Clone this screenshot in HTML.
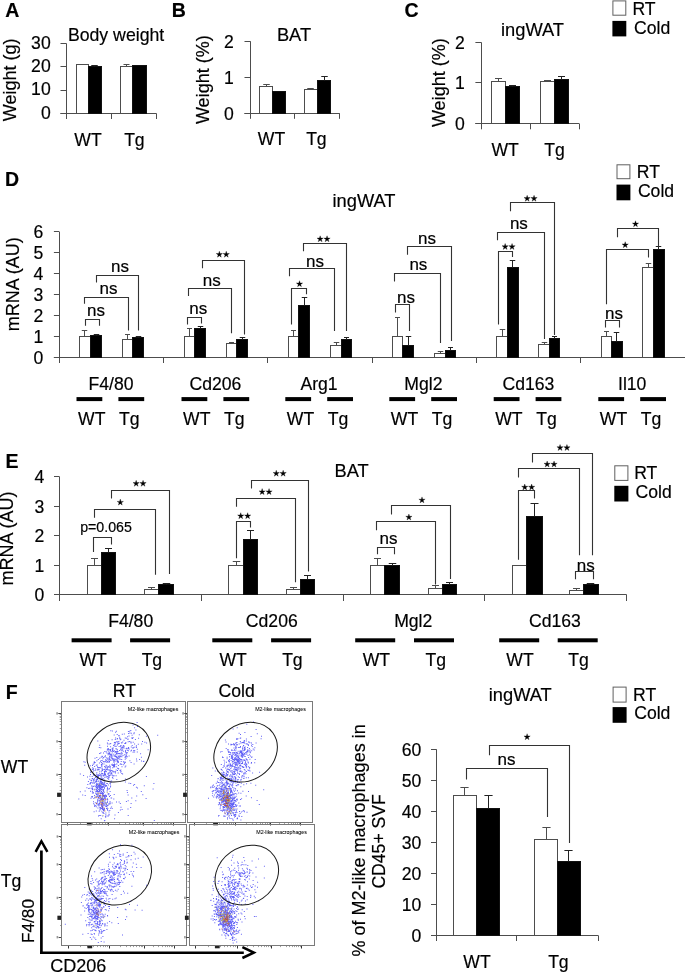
<!DOCTYPE html>
<html><head><meta charset="utf-8"><style>
html,body{margin:0;padding:0;background:#fff;}
svg{display:block;will-change:transform;}
text{font-family:"Liberation Sans", sans-serif;fill:#000;stroke:#000;stroke-width:0.18px;}
</style></head><body>
<svg width="685" height="973" viewBox="0 0 685 973">
<rect width="685" height="973" fill="#fff"/>
<text x="5.3" y="16.6" font-size="19.5" text-anchor="start" font-weight="bold" >A</text>
<text x="67.9" y="40.6" font-size="17.7" text-anchor="start" >Body weight</text>
<text transform="translate(16.4,79.8) rotate(-90)" x="0" y="0" font-size="18.0" text-anchor="middle">Weight (g)</text>
<line x1="66.5" y1="43.5" x2="66.5" y2="113.5" stroke="#4d4d4d" stroke-width="1"/>
<line x1="60.5" y1="43.5" x2="66.5" y2="43.5" stroke="#4d4d4d" stroke-width="1"/>
<text x="50.7" y="48.5" font-size="17.6" text-anchor="end" >30</text>
<line x1="60.5" y1="66.5" x2="66.5" y2="66.5" stroke="#4d4d4d" stroke-width="1"/>
<text x="50.7" y="71.5" font-size="17.6" text-anchor="end" >20</text>
<line x1="60.5" y1="90.5" x2="66.5" y2="90.5" stroke="#4d4d4d" stroke-width="1"/>
<text x="50.7" y="95.0" font-size="17.6" text-anchor="end" >10</text>
<line x1="60.5" y1="113.5" x2="66.5" y2="113.5" stroke="#4d4d4d" stroke-width="1"/>
<text x="50.7" y="118.5" font-size="17.6" text-anchor="end" >0</text>
<line x1="60.5" y1="113.5" x2="156.5" y2="113.5" stroke="#4d4d4d" stroke-width="1"/>
<line x1="66.5" y1="113.5" x2="66.5" y2="119" stroke="#4d4d4d" stroke-width="1"/>
<line x1="111.5" y1="113.5" x2="111.5" y2="119" stroke="#4d4d4d" stroke-width="1"/>
<line x1="156.5" y1="113.5" x2="156.5" y2="119" stroke="#4d4d4d" stroke-width="1"/>
<rect x="76.5" y="64.5" width="12.0" height="49.0" fill="#fff" stroke="#4d4d4d" stroke-width="1"/>
<rect x="88.5" y="66.5" width="13.0" height="47.0" fill="#000" stroke="#111" stroke-width="1"/>
<line x1="94.5" y1="66.5" x2="94.5" y2="65.5" stroke="#222" stroke-width="1"/>
<line x1="91.25" y1="65.5" x2="97.75" y2="65.5" stroke="#222" stroke-width="1"/>
<rect x="120.5" y="66.5" width="12.0" height="47.0" fill="#fff" stroke="#4d4d4d" stroke-width="1"/>
<line x1="126.5" y1="66.5" x2="126.5" y2="64.5" stroke="#4d4d4d" stroke-width="1"/>
<line x1="123.5" y1="64.5" x2="129.5" y2="64.5" stroke="#4d4d4d" stroke-width="1"/>
<rect x="132.5" y="65.5" width="14.0" height="48.0" fill="#000" stroke="#111" stroke-width="1"/>
<text x="88" y="146" font-size="17.6" text-anchor="middle" >WT</text>
<text x="134.4" y="146" font-size="17.6" text-anchor="middle" >Tg</text>
<text x="171.8" y="16.8" font-size="19.5" text-anchor="start" font-weight="bold" >B</text>
<text x="294" y="41.3" font-size="18.3" text-anchor="middle" >BAT</text>
<text transform="translate(209,79.7) rotate(-90)" x="0" y="0" font-size="18.0" text-anchor="middle">Weight (%)</text>
<line x1="250.5" y1="41.3" x2="250.5" y2="113.3" stroke="#4d4d4d" stroke-width="1"/>
<line x1="244.5" y1="41.5" x2="250.5" y2="41.5" stroke="#4d4d4d" stroke-width="1"/>
<text x="233.9" y="47.9" font-size="17.6" text-anchor="end" >2</text>
<line x1="244.5" y1="77.5" x2="250.5" y2="77.5" stroke="#4d4d4d" stroke-width="1"/>
<text x="233.9" y="84.0" font-size="17.6" text-anchor="end" >1</text>
<line x1="244.5" y1="113.5" x2="250.5" y2="113.5" stroke="#4d4d4d" stroke-width="1"/>
<text x="233.9" y="119.89999999999999" font-size="17.6" text-anchor="end" >0</text>
<line x1="244.5" y1="113.5" x2="339.7" y2="113.5" stroke="#4d4d4d" stroke-width="1"/>
<line x1="250.5" y1="113.3" x2="250.5" y2="118.8" stroke="#4d4d4d" stroke-width="1"/>
<line x1="294.5" y1="113.3" x2="294.5" y2="118.8" stroke="#4d4d4d" stroke-width="1"/>
<line x1="339.5" y1="113.3" x2="339.5" y2="118.8" stroke="#4d4d4d" stroke-width="1"/>
<rect x="259.5" y="86.5" width="13.0" height="27.0" fill="#fff" stroke="#4d4d4d" stroke-width="1"/>
<line x1="266.5" y1="86.5" x2="266.5" y2="84.5" stroke="#4d4d4d" stroke-width="1"/>
<line x1="263.25" y1="84.5" x2="269.75" y2="84.5" stroke="#4d4d4d" stroke-width="1"/>
<rect x="272.5" y="91.5" width="13.0" height="22.0" fill="#000" stroke="#111" stroke-width="1"/>
<rect x="304.5" y="89.5" width="13.0" height="24.0" fill="#fff" stroke="#4d4d4d" stroke-width="1"/>
<line x1="310.5" y1="89.5" x2="310.5" y2="88.5" stroke="#4d4d4d" stroke-width="1"/>
<line x1="307.25" y1="88.5" x2="313.75" y2="88.5" stroke="#4d4d4d" stroke-width="1"/>
<rect x="317.5" y="80.5" width="13.0" height="33.0" fill="#000" stroke="#111" stroke-width="1"/>
<line x1="324.5" y1="80.5" x2="324.5" y2="76.5" stroke="#222" stroke-width="1"/>
<line x1="321.25" y1="76.5" x2="327.75" y2="76.5" stroke="#222" stroke-width="1"/>
<text x="271.5" y="144.7" font-size="17.6" text-anchor="middle" >WT</text>
<text x="316.4" y="144.7" font-size="17.6" text-anchor="middle" >Tg</text>
<text x="404.5" y="17.2" font-size="19.5" text-anchor="start" font-weight="bold" >C</text>
<text x="532.5" y="35.8" font-size="18.3" text-anchor="middle" >ingWAT</text>
<text transform="translate(445,82.7) rotate(-90)" x="0" y="0" font-size="18.0" text-anchor="middle">Weight (%)</text>
<line x1="481.5" y1="42.3" x2="481.5" y2="123.6" stroke="#4d4d4d" stroke-width="1"/>
<line x1="475.4" y1="42.5" x2="481.2" y2="42.5" stroke="#4d4d4d" stroke-width="1"/>
<text x="464.79999999999995" y="48.9" font-size="17.6" text-anchor="end" >2</text>
<line x1="475.4" y1="82.5" x2="481.2" y2="82.5" stroke="#4d4d4d" stroke-width="1"/>
<text x="464.79999999999995" y="89.1" font-size="17.6" text-anchor="end" >1</text>
<line x1="475.4" y1="123.5" x2="481.2" y2="123.5" stroke="#4d4d4d" stroke-width="1"/>
<text x="464.79999999999995" y="130.2" font-size="17.6" text-anchor="end" >0</text>
<line x1="475.4" y1="123.5" x2="579.2" y2="123.5" stroke="#4d4d4d" stroke-width="1"/>
<line x1="481.5" y1="123.6" x2="481.5" y2="129.3" stroke="#4d4d4d" stroke-width="1"/>
<line x1="530.5" y1="123.6" x2="530.5" y2="129.3" stroke="#4d4d4d" stroke-width="1"/>
<line x1="579.5" y1="123.6" x2="579.5" y2="129.3" stroke="#4d4d4d" stroke-width="1"/>
<rect x="491.5" y="81.5" width="14.0" height="42.0" fill="#fff" stroke="#4d4d4d" stroke-width="1"/>
<line x1="498.5" y1="81.5" x2="498.5" y2="78.5" stroke="#4d4d4d" stroke-width="1"/>
<line x1="495.0" y1="78.5" x2="502.0" y2="78.5" stroke="#4d4d4d" stroke-width="1"/>
<rect x="505.5" y="86.5" width="14.0" height="37.0" fill="#000" stroke="#111" stroke-width="1"/>
<line x1="512.5" y1="86.5" x2="512.5" y2="85.5" stroke="#222" stroke-width="1"/>
<line x1="509.0" y1="85.5" x2="516.0" y2="85.5" stroke="#222" stroke-width="1"/>
<rect x="540.5" y="81.5" width="14.0" height="42.0" fill="#fff" stroke="#4d4d4d" stroke-width="1"/>
<line x1="547.5" y1="81.5" x2="547.5" y2="80.5" stroke="#4d4d4d" stroke-width="1"/>
<line x1="544.0" y1="80.5" x2="551.0" y2="80.5" stroke="#4d4d4d" stroke-width="1"/>
<rect x="554.5" y="79.5" width="14.0" height="44.0" fill="#000" stroke="#111" stroke-width="1"/>
<line x1="561.5" y1="79.5" x2="561.5" y2="76.5" stroke="#222" stroke-width="1"/>
<line x1="558.0" y1="76.5" x2="565.0" y2="76.5" stroke="#222" stroke-width="1"/>
<text x="505.2" y="156" font-size="17.6" text-anchor="middle" >WT</text>
<text x="554.6" y="156" font-size="17.6" text-anchor="middle" >Tg</text>
<rect x="612.9" y="0.9" width="12.9" height="14.3" fill="#fff" stroke="#606060" stroke-width="1"/>
<rect x="612.4" y="20.9" width="13.9" height="15.5" fill="#000"/>
<text x="632.4" y="14.6" font-size="17.6" text-anchor="start" >RT</text>
<text x="634.0" y="33.5" font-size="17.6" text-anchor="start" >Cold</text>
<text x="5" y="186.3" font-size="19.5" text-anchor="start" font-weight="bold" >D</text>
<text x="364" y="207.4" font-size="18.3" text-anchor="middle" >ingWAT</text>
<text transform="translate(18.7,284.3) rotate(-90)" x="0" y="0" font-size="18.0" text-anchor="middle">mRNA (AU)</text>
<line x1="59.5" y1="231.9" x2="59.5" y2="357.4" stroke="#4d4d4d" stroke-width="1"/>
<line x1="53.9" y1="357.5" x2="59.4" y2="357.5" stroke="#4d4d4d" stroke-width="1"/>
<text x="43.3" y="363.79999999999995" font-size="17.6" text-anchor="end" >0</text>
<line x1="53.9" y1="336.5" x2="59.4" y2="336.5" stroke="#4d4d4d" stroke-width="1"/>
<text x="43.3" y="342.9" font-size="17.6" text-anchor="end" >1</text>
<line x1="53.9" y1="315.5" x2="59.4" y2="315.5" stroke="#4d4d4d" stroke-width="1"/>
<text x="43.3" y="322.0" font-size="17.6" text-anchor="end" >2</text>
<line x1="53.9" y1="294.5" x2="59.4" y2="294.5" stroke="#4d4d4d" stroke-width="1"/>
<text x="43.3" y="301.09999999999997" font-size="17.6" text-anchor="end" >3</text>
<line x1="53.9" y1="273.5" x2="59.4" y2="273.5" stroke="#4d4d4d" stroke-width="1"/>
<text x="43.3" y="280.09999999999997" font-size="17.6" text-anchor="end" >4</text>
<line x1="53.9" y1="252.5" x2="59.4" y2="252.5" stroke="#4d4d4d" stroke-width="1"/>
<text x="43.3" y="259.3" font-size="17.6" text-anchor="end" >5</text>
<line x1="53.9" y1="231.5" x2="59.4" y2="231.5" stroke="#4d4d4d" stroke-width="1"/>
<text x="43.3" y="238.3" font-size="17.6" text-anchor="end" >6</text>
<line x1="53.9" y1="357.5" x2="685" y2="357.5" stroke="#4d4d4d" stroke-width="1"/>
<line x1="59.5" y1="357.4" x2="59.5" y2="363" stroke="#4d4d4d" stroke-width="1"/>
<line x1="163.5" y1="357.4" x2="163.5" y2="363" stroke="#4d4d4d" stroke-width="1"/>
<line x1="267.5" y1="357.4" x2="267.5" y2="363" stroke="#4d4d4d" stroke-width="1"/>
<line x1="372.5" y1="357.4" x2="372.5" y2="363" stroke="#4d4d4d" stroke-width="1"/>
<line x1="476.5" y1="357.4" x2="476.5" y2="363" stroke="#4d4d4d" stroke-width="1"/>
<line x1="580.5" y1="357.4" x2="580.5" y2="363" stroke="#4d4d4d" stroke-width="1"/>
<rect x="79.5" y="336.5" width="11.0" height="21.0" fill="#fff" stroke="#4d4d4d" stroke-width="1"/>
<line x1="84.5" y1="336.5" x2="84.5" y2="330.5" stroke="#4d4d4d" stroke-width="1"/>
<line x1="81.75" y1="330.5" x2="87.25" y2="330.5" stroke="#4d4d4d" stroke-width="1"/>
<rect x="90.5" y="335.5" width="11.0" height="22.0" fill="#000" stroke="#111" stroke-width="1"/>
<line x1="96.5" y1="335.5" x2="96.5" y2="334.5" stroke="#222" stroke-width="1"/>
<line x1="93.75" y1="334.5" x2="99.25" y2="334.5" stroke="#222" stroke-width="1"/>
<rect x="122.5" y="339.5" width="10.0" height="18.0" fill="#fff" stroke="#4d4d4d" stroke-width="1"/>
<line x1="127.5" y1="339.5" x2="127.5" y2="334.5" stroke="#4d4d4d" stroke-width="1"/>
<line x1="125.0" y1="334.5" x2="130.0" y2="334.5" stroke="#4d4d4d" stroke-width="1"/>
<rect x="132.5" y="337.5" width="11.0" height="20.0" fill="#000" stroke="#111" stroke-width="1"/>
<line x1="138.5" y1="337.5" x2="138.5" y2="336.5" stroke="#222" stroke-width="1"/>
<line x1="135.75" y1="336.5" x2="141.25" y2="336.5" stroke="#222" stroke-width="1"/>
<rect x="184.5" y="336.5" width="10.0" height="21.0" fill="#fff" stroke="#4d4d4d" stroke-width="1"/>
<line x1="189.5" y1="336.5" x2="189.5" y2="328.5" stroke="#4d4d4d" stroke-width="1"/>
<line x1="187.0" y1="328.5" x2="192.0" y2="328.5" stroke="#4d4d4d" stroke-width="1"/>
<rect x="194.5" y="328.5" width="11.0" height="29.0" fill="#000" stroke="#111" stroke-width="1"/>
<line x1="200.5" y1="328.5" x2="200.5" y2="326.5" stroke="#222" stroke-width="1"/>
<line x1="197.75" y1="326.5" x2="203.25" y2="326.5" stroke="#222" stroke-width="1"/>
<rect x="226.5" y="343.5" width="10.0" height="14.0" fill="#fff" stroke="#4d4d4d" stroke-width="1"/>
<line x1="231.5" y1="343.5" x2="231.5" y2="342.5" stroke="#4d4d4d" stroke-width="1"/>
<line x1="229.0" y1="342.5" x2="234.0" y2="342.5" stroke="#4d4d4d" stroke-width="1"/>
<rect x="236.5" y="339.5" width="11.0" height="18.0" fill="#000" stroke="#111" stroke-width="1"/>
<line x1="242.5" y1="339.5" x2="242.5" y2="337.5" stroke="#222" stroke-width="1"/>
<line x1="239.75" y1="337.5" x2="245.25" y2="337.5" stroke="#222" stroke-width="1"/>
<rect x="288.5" y="336.5" width="10.0" height="21.0" fill="#fff" stroke="#4d4d4d" stroke-width="1"/>
<line x1="293.5" y1="336.5" x2="293.5" y2="330.5" stroke="#4d4d4d" stroke-width="1"/>
<line x1="291.0" y1="330.5" x2="296.0" y2="330.5" stroke="#4d4d4d" stroke-width="1"/>
<rect x="298.5" y="305.5" width="11.0" height="52.0" fill="#000" stroke="#111" stroke-width="1"/>
<line x1="304.5" y1="305.5" x2="304.5" y2="297.5" stroke="#222" stroke-width="1"/>
<line x1="301.75" y1="297.5" x2="307.25" y2="297.5" stroke="#222" stroke-width="1"/>
<rect x="330.5" y="345.5" width="11.0" height="12.0" fill="#fff" stroke="#4d4d4d" stroke-width="1"/>
<line x1="336.5" y1="345.5" x2="336.5" y2="342.5" stroke="#4d4d4d" stroke-width="1"/>
<line x1="333.75" y1="342.5" x2="339.25" y2="342.5" stroke="#4d4d4d" stroke-width="1"/>
<rect x="341.5" y="339.5" width="10.0" height="18.0" fill="#000" stroke="#111" stroke-width="1"/>
<line x1="346.5" y1="339.5" x2="346.5" y2="337.5" stroke="#222" stroke-width="1"/>
<line x1="344.0" y1="337.5" x2="349.0" y2="337.5" stroke="#222" stroke-width="1"/>
<rect x="392.5" y="336.5" width="10.0" height="21.0" fill="#fff" stroke="#4d4d4d" stroke-width="1"/>
<line x1="397.5" y1="336.5" x2="397.5" y2="317.5" stroke="#4d4d4d" stroke-width="1"/>
<line x1="395.0" y1="317.5" x2="400.0" y2="317.5" stroke="#4d4d4d" stroke-width="1"/>
<rect x="402.5" y="345.5" width="11.0" height="12.0" fill="#000" stroke="#111" stroke-width="1"/>
<line x1="408.5" y1="345.5" x2="408.5" y2="336.5" stroke="#222" stroke-width="1"/>
<line x1="405.75" y1="336.5" x2="411.25" y2="336.5" stroke="#222" stroke-width="1"/>
<rect x="434.5" y="353.5" width="11.0" height="4.0" fill="#fff" stroke="#4d4d4d" stroke-width="1"/>
<line x1="440.5" y1="353.5" x2="440.5" y2="351.5" stroke="#4d4d4d" stroke-width="1"/>
<line x1="437.75" y1="351.5" x2="443.25" y2="351.5" stroke="#4d4d4d" stroke-width="1"/>
<rect x="445.5" y="350.5" width="10.0" height="7.0" fill="#000" stroke="#111" stroke-width="1"/>
<line x1="450.5" y1="350.5" x2="450.5" y2="347.5" stroke="#222" stroke-width="1"/>
<line x1="448.0" y1="347.5" x2="453.0" y2="347.5" stroke="#222" stroke-width="1"/>
<rect x="496.5" y="336.5" width="11.0" height="21.0" fill="#fff" stroke="#4d4d4d" stroke-width="1"/>
<line x1="502.5" y1="336.5" x2="502.5" y2="329.5" stroke="#4d4d4d" stroke-width="1"/>
<line x1="499.75" y1="329.5" x2="505.25" y2="329.5" stroke="#4d4d4d" stroke-width="1"/>
<rect x="507.5" y="267.5" width="11.0" height="90.0" fill="#000" stroke="#111" stroke-width="1"/>
<line x1="512.5" y1="267.5" x2="512.5" y2="260.5" stroke="#222" stroke-width="1"/>
<line x1="509.75" y1="260.5" x2="515.25" y2="260.5" stroke="#222" stroke-width="1"/>
<rect x="538.5" y="344.5" width="11.0" height="13.0" fill="#fff" stroke="#4d4d4d" stroke-width="1"/>
<line x1="544.5" y1="344.5" x2="544.5" y2="342.5" stroke="#4d4d4d" stroke-width="1"/>
<line x1="541.75" y1="342.5" x2="547.25" y2="342.5" stroke="#4d4d4d" stroke-width="1"/>
<rect x="549.5" y="338.5" width="10.0" height="19.0" fill="#000" stroke="#111" stroke-width="1"/>
<line x1="554.5" y1="338.5" x2="554.5" y2="336.5" stroke="#222" stroke-width="1"/>
<line x1="552.0" y1="336.5" x2="557.0" y2="336.5" stroke="#222" stroke-width="1"/>
<rect x="601.5" y="336.5" width="10.0" height="21.0" fill="#fff" stroke="#4d4d4d" stroke-width="1"/>
<line x1="606.5" y1="336.5" x2="606.5" y2="331.5" stroke="#4d4d4d" stroke-width="1"/>
<line x1="604.0" y1="331.5" x2="609.0" y2="331.5" stroke="#4d4d4d" stroke-width="1"/>
<rect x="611.5" y="341.5" width="11.0" height="16.0" fill="#000" stroke="#111" stroke-width="1"/>
<line x1="616.5" y1="341.5" x2="616.5" y2="332.5" stroke="#222" stroke-width="1"/>
<line x1="613.75" y1="332.5" x2="619.25" y2="332.5" stroke="#222" stroke-width="1"/>
<rect x="642.5" y="267.5" width="11.0" height="90.0" fill="#fff" stroke="#4d4d4d" stroke-width="1"/>
<line x1="648.5" y1="267.5" x2="648.5" y2="263.5" stroke="#4d4d4d" stroke-width="1"/>
<line x1="645.75" y1="263.5" x2="651.25" y2="263.5" stroke="#4d4d4d" stroke-width="1"/>
<rect x="653.5" y="249.5" width="11.0" height="108.0" fill="#000" stroke="#111" stroke-width="1"/>
<line x1="658.5" y1="249.5" x2="658.5" y2="246.5" stroke="#222" stroke-width="1"/>
<line x1="655.75" y1="246.5" x2="661.25" y2="246.5" stroke="#222" stroke-width="1"/>
<polyline points="85.5,325.7 85.5,319.5 99.5,319.5 99.5,325.7" fill="none" stroke="#333" stroke-width="1.1"/>
<text x="96.1" y="316" font-size="17" text-anchor="middle" >ns</text>
<polyline points="84.5,303.8 84.5,297.5 128.5,297.5 128.5,330.4" fill="none" stroke="#333" stroke-width="1.1"/>
<text x="108.5" y="294" font-size="17" text-anchor="middle" >ns</text>
<polyline points="96.5,282.6 96.5,275.5 138.5,275.5 138.5,330.4" fill="none" stroke="#333" stroke-width="1.1"/>
<text x="120" y="272.4" font-size="17" text-anchor="middle" >ns</text>
<polyline points="187.5,324.5 187.5,317.5 201.5,317.5 201.5,323.4" fill="none" stroke="#333" stroke-width="1.1"/>
<text x="198.2" y="313.6" font-size="17" text-anchor="middle" >ns</text>
<polyline points="188.5,296 188.5,288.5 231.5,288.5 231.5,333.3" fill="none" stroke="#333" stroke-width="1.1"/>
<text x="211.8" y="286.2" font-size="17" text-anchor="middle" >ns</text>
<polyline points="202.5,268.2 202.5,260.5 244.5,260.5 244.5,334.4" fill="none" stroke="#333" stroke-width="1.1"/>
<polygon points="219.35,251.20 220.08,253.49 222.49,253.48 220.54,254.89 221.29,257.17 219.35,255.75 217.41,257.17 218.16,254.89 216.21,253.48 218.62,253.49" fill="#000" stroke="#000" stroke-width="0.3" stroke-linejoin="round"/>
<polygon points="226.25,251.20 226.98,253.49 229.39,253.48 227.44,254.89 228.19,257.17 226.25,255.75 224.31,257.17 225.06,254.89 223.11,253.48 225.52,253.49" fill="#000" stroke="#000" stroke-width="0.3" stroke-linejoin="round"/>
<polyline points="291.5,324.5 291.5,288.5 306.5,288.5 306.5,294.3" fill="none" stroke="#333" stroke-width="1.1"/>
<polygon points="299.50,280.70 300.23,282.99 302.64,282.98 300.69,284.39 301.44,286.67 299.50,285.25 297.56,286.67 298.31,284.39 296.36,282.98 298.77,282.99" fill="#000" stroke="#000" stroke-width="0.3" stroke-linejoin="round"/>
<polyline points="289.5,276.3 289.5,268.5 334.5,268.5 334.5,331" fill="none" stroke="#333" stroke-width="1.1"/>
<text x="315.1" y="266.5" font-size="17" text-anchor="middle" >ns</text>
<polyline points="303.5,251.2 303.5,243.5 346.5,243.5 346.5,331" fill="none" stroke="#333" stroke-width="1.1"/>
<polygon points="320.15,235.80 320.88,238.09 323.29,238.08 321.34,239.49 322.09,241.77 320.15,240.35 318.21,241.77 318.96,239.49 317.01,238.08 319.42,238.09" fill="#000" stroke="#000" stroke-width="0.3" stroke-linejoin="round"/>
<polygon points="327.05,235.80 327.78,238.09 330.19,238.08 328.24,239.49 328.99,241.77 327.05,240.35 325.11,241.77 325.86,239.49 323.91,238.08 326.32,238.09" fill="#000" stroke="#000" stroke-width="0.3" stroke-linejoin="round"/>
<polyline points="395.5,312.5 395.5,304.5 409.5,304.5 409.5,331" fill="none" stroke="#333" stroke-width="1.1"/>
<text x="406" y="302.6" font-size="17" text-anchor="middle" >ns</text>
<polyline points="394.5,281.6 394.5,273.5 440.5,273.5 440.5,343.1" fill="none" stroke="#333" stroke-width="1.1"/>
<text x="418.4" y="269.8" font-size="17" text-anchor="middle" >ns</text>
<polyline points="407.5,254.8 407.5,246.5 451.5,246.5 451.5,340.9" fill="none" stroke="#333" stroke-width="1.1"/>
<text x="427" y="243.9" font-size="17" text-anchor="middle" >ns</text>
<polyline points="498.5,324.5 498.5,251.5 512.5,251.5 512.5,257.1" fill="none" stroke="#333" stroke-width="1.1"/>
<polygon points="505.15,243.50 505.88,245.79 508.29,245.78 506.34,247.19 507.09,249.47 505.15,248.05 503.21,249.47 503.96,247.19 502.01,245.78 504.42,245.79" fill="#000" stroke="#000" stroke-width="0.3" stroke-linejoin="round"/>
<polygon points="512.05,243.50 512.78,245.79 515.19,245.78 513.24,247.19 513.99,249.47 512.05,248.05 510.11,249.47 510.86,247.19 508.91,245.78 511.32,245.79" fill="#000" stroke="#000" stroke-width="0.3" stroke-linejoin="round"/>
<polyline points="497.5,240.2 497.5,232.5 544.5,232.5 544.5,339" fill="none" stroke="#333" stroke-width="1.1"/>
<text x="518.9" y="229.4" font-size="17" text-anchor="middle" >ns</text>
<polyline points="510.5,211.3 510.5,202.5 554.5,202.5 554.5,335.1" fill="none" stroke="#333" stroke-width="1.1"/>
<polygon points="527.15,195.30 527.88,197.59 530.29,197.58 528.34,198.99 529.09,201.27 527.15,199.85 525.21,201.27 525.96,198.99 524.01,197.58 526.42,197.59" fill="#000" stroke="#000" stroke-width="0.3" stroke-linejoin="round"/>
<polygon points="534.05,195.30 534.78,197.59 537.19,197.58 535.24,198.99 535.99,201.27 534.05,199.85 532.11,201.27 532.86,198.99 530.91,197.58 533.32,197.59" fill="#000" stroke="#000" stroke-width="0.3" stroke-linejoin="round"/>
<polyline points="605.5,327.6 605.5,320.5 619.5,320.5 619.5,327.6" fill="none" stroke="#333" stroke-width="1.1"/>
<text x="614.1" y="318.6" font-size="17" text-anchor="middle" >ns</text>
<polyline points="606.5,304.2 606.5,249.5 648.5,249.5 648.5,257.5" fill="none" stroke="#333" stroke-width="1.1"/>
<polygon points="625.20,241.70 625.93,243.99 628.34,243.98 626.39,245.39 627.14,247.67 625.20,246.25 623.26,247.67 624.01,245.39 622.06,243.98 624.47,243.99" fill="#000" stroke="#000" stroke-width="0.3" stroke-linejoin="round"/>
<polyline points="617.5,237.2 617.5,228.5 658.5,228.5 658.5,246.8" fill="none" stroke="#333" stroke-width="1.1"/>
<polygon points="635.50,220.80 636.23,223.09 638.64,223.08 636.69,224.49 637.44,226.77 635.50,225.35 633.56,226.77 634.31,224.49 632.36,223.08 634.77,223.09" fill="#000" stroke="#000" stroke-width="0.3" stroke-linejoin="round"/>
<text x="111" y="390" font-size="17.6" text-anchor="middle" >F4/80</text>
<rect x="76.5" y="397.1" width="25.8" height="4" fill="#000"/>
<rect x="118.4" y="397.1" width="25.8" height="4" fill="#000"/>
<text x="91.75" y="425" font-size="17.6" text-anchor="middle" >WT</text>
<text x="129.3" y="425" font-size="17.6" text-anchor="middle" >Tg</text>
<text x="215.4" y="390" font-size="17.6" text-anchor="middle" >Cd206</text>
<rect x="181.5" y="397.1" width="25.8" height="4" fill="#000"/>
<rect x="223.4" y="397.1" width="25.8" height="4" fill="#000"/>
<text x="196.75" y="425" font-size="17.6" text-anchor="middle" >WT</text>
<text x="234.3" y="425" font-size="17.6" text-anchor="middle" >Tg</text>
<text x="319" y="390" font-size="17.6" text-anchor="middle" >Arg1</text>
<rect x="285.3" y="397.1" width="25.8" height="4" fill="#000"/>
<rect x="327.2" y="397.1" width="25.8" height="4" fill="#000"/>
<text x="300.55" y="425" font-size="17.6" text-anchor="middle" >WT</text>
<text x="338.09999999999997" y="425" font-size="17.6" text-anchor="middle" >Tg</text>
<text x="423.4" y="390" font-size="17.6" text-anchor="middle" >Mgl2</text>
<rect x="389.3" y="397.1" width="25.8" height="4" fill="#000"/>
<rect x="431.2" y="397.1" width="25.8" height="4" fill="#000"/>
<text x="404.55" y="425" font-size="17.6" text-anchor="middle" >WT</text>
<text x="442.09999999999997" y="425" font-size="17.6" text-anchor="middle" >Tg</text>
<text x="528.5" y="390" font-size="17.6" text-anchor="middle" >Cd163</text>
<rect x="493.70000000000005" y="397.1" width="25.8" height="4" fill="#000"/>
<rect x="535.6" y="397.1" width="25.8" height="4" fill="#000"/>
<text x="508.95000000000005" y="425" font-size="17.6" text-anchor="middle" >WT</text>
<text x="546.5" y="425" font-size="17.6" text-anchor="middle" >Tg</text>
<text x="632.2" y="390" font-size="17.6" text-anchor="middle" >Il10</text>
<rect x="598.3000000000001" y="397.1" width="25.8" height="4" fill="#000"/>
<rect x="640.2" y="397.1" width="25.8" height="4" fill="#000"/>
<text x="613.5500000000001" y="425" font-size="17.6" text-anchor="middle" >WT</text>
<text x="651.1" y="425" font-size="17.6" text-anchor="middle" >Tg</text>
<rect x="617.0" y="164.8" width="12.9" height="13.9" fill="#fff" stroke="#606060" stroke-width="1"/>
<rect x="616.5" y="184.6" width="13.9" height="15.7" fill="#000"/>
<text x="636.8" y="178" font-size="17.6" text-anchor="start" >RT</text>
<text x="637.9" y="197.4" font-size="17.6" text-anchor="start" >Cold</text>
<text x="5.6" y="468" font-size="19.5" text-anchor="start" font-weight="bold" >E</text>
<text x="351.7" y="477.2" font-size="18.3" text-anchor="middle" >BAT</text>
<text transform="translate(13.3,538.4) rotate(-90)" x="0" y="0" font-size="18.0" text-anchor="middle">mRNA (AU)</text>
<line x1="59.5" y1="476.7" x2="59.5" y2="594.8" stroke="#4d4d4d" stroke-width="1"/>
<line x1="54" y1="594.5" x2="59.5" y2="594.5" stroke="#4d4d4d" stroke-width="1"/>
<text x="44.4" y="601.4" font-size="17.6" text-anchor="end" >0</text>
<line x1="54" y1="565.5" x2="59.5" y2="565.5" stroke="#4d4d4d" stroke-width="1"/>
<text x="44.4" y="571.9" font-size="17.6" text-anchor="end" >1</text>
<line x1="54" y1="535.5" x2="59.5" y2="535.5" stroke="#4d4d4d" stroke-width="1"/>
<text x="44.4" y="542.4" font-size="17.6" text-anchor="end" >2</text>
<line x1="54" y1="506.5" x2="59.5" y2="506.5" stroke="#4d4d4d" stroke-width="1"/>
<text x="44.4" y="512.9" font-size="17.6" text-anchor="end" >3</text>
<line x1="54" y1="476.5" x2="59.5" y2="476.5" stroke="#4d4d4d" stroke-width="1"/>
<text x="44.4" y="483.3" font-size="17.6" text-anchor="end" >4</text>
<line x1="54" y1="594.5" x2="626.7" y2="594.5" stroke="#4d4d4d" stroke-width="1"/>
<line x1="59.5" y1="594.8" x2="59.5" y2="601" stroke="#4d4d4d" stroke-width="1"/>
<line x1="201.5" y1="594.8" x2="201.5" y2="601" stroke="#4d4d4d" stroke-width="1"/>
<line x1="343.5" y1="594.8" x2="343.5" y2="601" stroke="#4d4d4d" stroke-width="1"/>
<line x1="484.5" y1="594.8" x2="484.5" y2="601" stroke="#4d4d4d" stroke-width="1"/>
<line x1="626.5" y1="594.8" x2="626.5" y2="601" stroke="#4d4d4d" stroke-width="1"/>
<rect x="87.5" y="565.5" width="14.0" height="29.0" fill="#fff" stroke="#4d4d4d" stroke-width="1"/>
<line x1="94.5" y1="565.5" x2="94.5" y2="558.5" stroke="#4d4d4d" stroke-width="1"/>
<line x1="91.0" y1="558.5" x2="98.0" y2="558.5" stroke="#4d4d4d" stroke-width="1"/>
<rect x="101.5" y="552.5" width="14.0" height="42.0" fill="#000" stroke="#111" stroke-width="1"/>
<line x1="108.5" y1="552.5" x2="108.5" y2="548.5" stroke="#222" stroke-width="1"/>
<line x1="105.0" y1="548.5" x2="112.0" y2="548.5" stroke="#222" stroke-width="1"/>
<rect x="144.5" y="589.5" width="14.0" height="5.0" fill="#fff" stroke="#4d4d4d" stroke-width="1"/>
<line x1="151.5" y1="589.5" x2="151.5" y2="587.5" stroke="#4d4d4d" stroke-width="1"/>
<line x1="148.0" y1="587.5" x2="155.0" y2="587.5" stroke="#4d4d4d" stroke-width="1"/>
<rect x="158.5" y="584.5" width="15.0" height="10.0" fill="#000" stroke="#111" stroke-width="1"/>
<line x1="166.5" y1="584.5" x2="166.5" y2="583.5" stroke="#222" stroke-width="1"/>
<line x1="162.75" y1="583.5" x2="170.25" y2="583.5" stroke="#222" stroke-width="1"/>
<rect x="228.5" y="565.5" width="15.0" height="29.0" fill="#fff" stroke="#4d4d4d" stroke-width="1"/>
<line x1="236.5" y1="565.5" x2="236.5" y2="561.5" stroke="#4d4d4d" stroke-width="1"/>
<line x1="232.75" y1="561.5" x2="240.25" y2="561.5" stroke="#4d4d4d" stroke-width="1"/>
<rect x="243.5" y="539.5" width="14.0" height="55.0" fill="#000" stroke="#111" stroke-width="1"/>
<line x1="250.5" y1="539.5" x2="250.5" y2="530.5" stroke="#222" stroke-width="1"/>
<line x1="247.0" y1="530.5" x2="254.0" y2="530.5" stroke="#222" stroke-width="1"/>
<rect x="286.5" y="589.5" width="14.0" height="5.0" fill="#fff" stroke="#4d4d4d" stroke-width="1"/>
<line x1="293.5" y1="589.5" x2="293.5" y2="587.5" stroke="#4d4d4d" stroke-width="1"/>
<line x1="290.0" y1="587.5" x2="297.0" y2="587.5" stroke="#4d4d4d" stroke-width="1"/>
<rect x="300.5" y="579.5" width="14.0" height="15.0" fill="#000" stroke="#111" stroke-width="1"/>
<line x1="307.5" y1="579.5" x2="307.5" y2="575.5" stroke="#222" stroke-width="1"/>
<line x1="304.0" y1="575.5" x2="311.0" y2="575.5" stroke="#222" stroke-width="1"/>
<rect x="370.5" y="565.5" width="14.0" height="29.0" fill="#fff" stroke="#4d4d4d" stroke-width="1"/>
<line x1="377.5" y1="565.5" x2="377.5" y2="558.5" stroke="#4d4d4d" stroke-width="1"/>
<line x1="374.0" y1="558.5" x2="381.0" y2="558.5" stroke="#4d4d4d" stroke-width="1"/>
<rect x="384.5" y="565.5" width="15.0" height="29.0" fill="#000" stroke="#111" stroke-width="1"/>
<line x1="392.5" y1="565.5" x2="392.5" y2="563.5" stroke="#222" stroke-width="1"/>
<line x1="388.75" y1="563.5" x2="396.25" y2="563.5" stroke="#222" stroke-width="1"/>
<rect x="428.5" y="588.5" width="14.0" height="6.0" fill="#fff" stroke="#4d4d4d" stroke-width="1"/>
<line x1="435.5" y1="588.5" x2="435.5" y2="585.5" stroke="#4d4d4d" stroke-width="1"/>
<line x1="432.0" y1="585.5" x2="439.0" y2="585.5" stroke="#4d4d4d" stroke-width="1"/>
<rect x="442.5" y="584.5" width="14.0" height="10.0" fill="#000" stroke="#111" stroke-width="1"/>
<line x1="449.5" y1="584.5" x2="449.5" y2="582.5" stroke="#222" stroke-width="1"/>
<line x1="446.0" y1="582.5" x2="453.0" y2="582.5" stroke="#222" stroke-width="1"/>
<rect x="512.5" y="565.5" width="14.0" height="29.0" fill="#fff" stroke="#4d4d4d" stroke-width="1"/>
<rect x="526.5" y="516.5" width="16.0" height="78.0" fill="#000" stroke="#111" stroke-width="1"/>
<line x1="534.5" y1="516.5" x2="534.5" y2="503.5" stroke="#222" stroke-width="1"/>
<line x1="530.5" y1="503.5" x2="538.5" y2="503.5" stroke="#222" stroke-width="1"/>
<rect x="569.5" y="590.5" width="14.0" height="4.0" fill="#fff" stroke="#4d4d4d" stroke-width="1"/>
<line x1="576.5" y1="590.5" x2="576.5" y2="588.5" stroke="#4d4d4d" stroke-width="1"/>
<line x1="573.0" y1="588.5" x2="580.0" y2="588.5" stroke="#4d4d4d" stroke-width="1"/>
<rect x="583.5" y="584.5" width="15.0" height="10.0" fill="#000" stroke="#111" stroke-width="1"/>
<line x1="590.5" y1="584.5" x2="590.5" y2="583.5" stroke="#222" stroke-width="1"/>
<line x1="586.75" y1="583.5" x2="594.25" y2="583.5" stroke="#222" stroke-width="1"/>
<polyline points="93.5,552.1 93.5,537.5 111.5,537.5 111.5,544.4" fill="none" stroke="#333" stroke-width="1.1"/>
<text x="106" y="532" font-size="14.2" text-anchor="middle" >p=0.065</text>
<polyline points="94.5,517.7 94.5,509.5 155.5,509.5 155.5,574.7" fill="none" stroke="#333" stroke-width="1.1"/>
<polygon points="120.30,499.10 121.03,501.39 123.44,501.38 121.49,502.79 122.24,505.07 120.30,503.65 118.36,505.07 119.11,502.79 117.16,501.38 119.57,501.39" fill="#000" stroke="#000" stroke-width="0.3" stroke-linejoin="round"/>
<polyline points="111.5,498.5 111.5,490.5 169.5,490.5 169.5,574" fill="none" stroke="#333" stroke-width="1.1"/>
<polygon points="136.15,480.30 136.88,482.59 139.29,482.58 137.34,483.99 138.09,486.27 136.15,484.85 134.21,486.27 134.96,483.99 133.01,482.58 135.42,482.59" fill="#000" stroke="#000" stroke-width="0.3" stroke-linejoin="round"/>
<polygon points="143.05,480.30 143.78,482.59 146.19,482.58 144.24,483.99 144.99,486.27 143.05,484.85 141.11,486.27 141.86,483.99 139.91,482.58 142.32,482.59" fill="#000" stroke="#000" stroke-width="0.3" stroke-linejoin="round"/>
<polyline points="236.5,558.2 236.5,521.5 250.5,521.5 250.5,527.6" fill="none" stroke="#333" stroke-width="1.1"/>
<polygon points="240.75,512.70 241.48,514.99 243.89,514.98 241.94,516.39 242.69,518.67 240.75,517.25 238.81,518.67 239.56,516.39 237.61,514.98 240.02,514.99" fill="#000" stroke="#000" stroke-width="0.3" stroke-linejoin="round"/>
<polygon points="247.65,512.70 248.38,514.99 250.79,514.98 248.84,516.39 249.59,518.67 247.65,517.25 245.71,518.67 246.46,516.39 244.51,514.98 246.92,514.99" fill="#000" stroke="#000" stroke-width="0.3" stroke-linejoin="round"/>
<polyline points="236.5,506.8 236.5,498.5 295.5,498.5 295.5,582.3" fill="none" stroke="#333" stroke-width="1.1"/>
<polygon points="262.15,488.60 262.88,490.89 265.29,490.88 263.34,492.29 264.09,494.57 262.15,493.15 260.21,494.57 260.96,492.29 259.01,490.88 261.42,490.89" fill="#000" stroke="#000" stroke-width="0.3" stroke-linejoin="round"/>
<polygon points="269.05,488.60 269.78,490.89 272.19,490.88 270.24,492.29 270.99,494.57 269.05,493.15 267.11,494.57 267.86,492.29 265.91,490.88 268.32,490.89" fill="#000" stroke="#000" stroke-width="0.3" stroke-linejoin="round"/>
<polyline points="251.5,488.6 251.5,480.5 308.5,480.5 308.5,571.4" fill="none" stroke="#333" stroke-width="1.1"/>
<polygon points="276.25,470.20 276.98,472.49 279.39,472.48 277.44,473.89 278.19,476.17 276.25,474.75 274.31,476.17 275.06,473.89 273.11,472.48 275.52,472.49" fill="#000" stroke="#000" stroke-width="0.3" stroke-linejoin="round"/>
<polygon points="283.15,470.20 283.88,472.49 286.29,472.48 284.34,473.89 285.09,476.17 283.15,474.75 281.21,476.17 281.96,473.89 280.01,472.48 282.42,472.49" fill="#000" stroke="#000" stroke-width="0.3" stroke-linejoin="round"/>
<polyline points="377.5,554.3 377.5,547.5 394.5,547.5 394.5,554.3" fill="none" stroke="#333" stroke-width="1.1"/>
<text x="388.6" y="544" font-size="17" text-anchor="middle" >ns</text>
<polyline points="376.5,530.2 376.5,521.5 435.5,521.5 435.5,584.5" fill="none" stroke="#333" stroke-width="1.1"/>
<polygon points="408.90,514.00 409.63,516.29 412.04,516.28 410.09,517.69 410.84,519.97 408.90,518.55 406.96,519.97 407.71,517.69 405.76,516.28 408.17,516.29" fill="#000" stroke="#000" stroke-width="0.3" stroke-linejoin="round"/>
<polyline points="391.5,514.4 391.5,505.5 450.5,505.5 450.5,579" fill="none" stroke="#333" stroke-width="1.1"/>
<polygon points="422.00,496.90 422.73,499.19 425.14,499.18 423.19,500.59 423.94,502.87 422.00,501.45 420.06,502.87 420.81,500.59 418.86,499.18 421.27,499.19" fill="#000" stroke="#000" stroke-width="0.3" stroke-linejoin="round"/>
<polyline points="518.5,559.7 518.5,490.5 534.5,490.5 534.5,498.4" fill="none" stroke="#333" stroke-width="1.1"/>
<polygon points="524.75,484.00 525.48,486.29 527.89,486.28 525.94,487.69 526.69,489.97 524.75,488.55 522.81,489.97 523.56,487.69 521.61,486.28 524.02,486.29" fill="#000" stroke="#000" stroke-width="0.3" stroke-linejoin="round"/>
<polygon points="531.65,484.00 532.38,486.29 534.79,486.28 532.84,487.69 533.59,489.97 531.65,488.55 529.71,489.97 530.46,487.69 528.51,486.28 530.92,486.29" fill="#000" stroke="#000" stroke-width="0.3" stroke-linejoin="round"/>
<polyline points="518.5,477.4 518.5,468.5 579.5,468.5 579.5,555.2" fill="none" stroke="#333" stroke-width="1.1"/>
<polygon points="547.15,461.00 547.88,463.29 550.29,463.28 548.34,464.69 549.09,466.97 547.15,465.55 545.21,466.97 545.96,464.69 544.01,463.28 546.42,463.29" fill="#000" stroke="#000" stroke-width="0.3" stroke-linejoin="round"/>
<polygon points="554.05,461.00 554.78,463.29 557.19,463.28 555.24,464.69 555.99,466.97 554.05,465.55 552.11,466.97 552.86,464.69 550.91,463.28 553.32,463.29" fill="#000" stroke="#000" stroke-width="0.3" stroke-linejoin="round"/>
<polyline points="532.5,462.4 532.5,453.5 592.5,453.5 592.5,555.2" fill="none" stroke="#333" stroke-width="1.1"/>
<polygon points="560.05,444.50 560.78,446.79 563.19,446.78 561.24,448.19 561.99,450.47 560.05,449.05 558.11,450.47 558.86,448.19 556.91,446.78 559.32,446.79" fill="#000" stroke="#000" stroke-width="0.3" stroke-linejoin="round"/>
<polygon points="566.95,444.50 567.68,446.79 570.09,446.78 568.14,448.19 568.89,450.47 566.95,449.05 565.01,450.47 565.76,448.19 563.81,446.78 566.22,446.79" fill="#000" stroke="#000" stroke-width="0.3" stroke-linejoin="round"/>
<polyline points="575.5,579.2 575.5,571.5 593.5,571.5 593.5,579.2" fill="none" stroke="#333" stroke-width="1.1"/>
<text x="585.8" y="570.8" font-size="17" text-anchor="middle" >ns</text>
<text x="130.7" y="626.5" font-size="17.6" text-anchor="middle" >F4/80</text>
<rect x="71.6" y="638.3" width="40" height="4" fill="#000"/>
<rect x="130.1" y="638.3" width="40" height="4" fill="#000"/>
<text x="93.2" y="665.9" font-size="17.6" text-anchor="middle" >WT</text>
<text x="151.9" y="665.9" font-size="17.6" text-anchor="middle" >Tg</text>
<text x="271.8" y="626.5" font-size="17.6" text-anchor="middle" >Cd206</text>
<rect x="212.3" y="638.3" width="40" height="4" fill="#000"/>
<rect x="271.1" y="638.3" width="40" height="4" fill="#000"/>
<text x="233.2" y="665.9" font-size="17.6" text-anchor="middle" >WT</text>
<text x="292.4" y="665.9" font-size="17.6" text-anchor="middle" >Tg</text>
<text x="413.2" y="626.5" font-size="17.6" text-anchor="middle" >Mgl2</text>
<rect x="355.2" y="638.3" width="40" height="4" fill="#000"/>
<rect x="414" y="638.3" width="40" height="4" fill="#000"/>
<text x="376.4" y="665.9" font-size="17.6" text-anchor="middle" >WT</text>
<text x="435.79999999999995" y="665.9" font-size="17.6" text-anchor="middle" >Tg</text>
<text x="555" y="626.5" font-size="17.6" text-anchor="middle" >Cd163</text>
<rect x="499.2" y="638.3" width="40" height="4" fill="#000"/>
<rect x="557.7" y="638.3" width="40" height="4" fill="#000"/>
<text x="520" y="665.9" font-size="17.6" text-anchor="middle" >WT</text>
<text x="578.6" y="665.9" font-size="17.6" text-anchor="middle" >Tg</text>
<rect x="614.8" y="465.8" width="13.1" height="14.6" fill="#fff" stroke="#606060" stroke-width="1"/>
<rect x="614.3" y="485.8" width="14.1" height="15.7" fill="#000"/>
<text x="634.2" y="479.2" font-size="17.6" text-anchor="start" >RT</text>
<text x="635.6" y="498.2" font-size="17.6" text-anchor="start" >Cold</text>
<text x="5.8" y="698.8" font-size="19.5" text-anchor="start" font-weight="bold" >F</text>
<text x="124.4" y="696.5" font-size="17.6" text-anchor="middle" >RT</text>
<text x="236.6" y="697" font-size="17.6" text-anchor="middle" >Cold</text>
<text x="0.8" y="772.9" font-size="17.6" text-anchor="start" >WT</text>
<text x="0.8" y="886.8" font-size="17.6" text-anchor="start" >Tg</text>
<text x="520.3" y="700.6" font-size="18.3" text-anchor="middle" >ingWAT</text>
<rect x="613.1" y="687.1" width="13.0" height="15.0" fill="#fff" stroke="#606060" stroke-width="1"/>
<rect x="612.6" y="707.1" width="14.0" height="15.7" fill="#000"/>
<text x="633.0" y="700.5" font-size="17.6" text-anchor="start" >RT</text>
<text x="634.2" y="719.4" font-size="17.6" text-anchor="start" >Cold</text>
<line x1="436.5" y1="749.4" x2="436.5" y2="935.4" stroke="#4d4d4d" stroke-width="1"/>
<line x1="431" y1="935.5" x2="436.6" y2="935.5" stroke="#4d4d4d" stroke-width="1"/>
<text x="421.3" y="942.0" font-size="17.6" text-anchor="end" >0</text>
<line x1="431" y1="904.5" x2="436.6" y2="904.5" stroke="#4d4d4d" stroke-width="1"/>
<text x="421.3" y="910.8000000000001" font-size="17.6" text-anchor="end" >10</text>
<line x1="431" y1="873.5" x2="436.6" y2="873.5" stroke="#4d4d4d" stroke-width="1"/>
<text x="421.3" y="879.9" font-size="17.6" text-anchor="end" >20</text>
<line x1="431" y1="842.5" x2="436.6" y2="842.5" stroke="#4d4d4d" stroke-width="1"/>
<text x="421.3" y="848.8000000000001" font-size="17.6" text-anchor="end" >30</text>
<line x1="431" y1="811.5" x2="436.6" y2="811.5" stroke="#4d4d4d" stroke-width="1"/>
<text x="421.3" y="817.7" font-size="17.6" text-anchor="end" >40</text>
<line x1="431" y1="780.5" x2="436.6" y2="780.5" stroke="#4d4d4d" stroke-width="1"/>
<text x="421.3" y="786.9" font-size="17.6" text-anchor="end" >50</text>
<line x1="431" y1="749.5" x2="436.6" y2="749.5" stroke="#4d4d4d" stroke-width="1"/>
<text x="421.3" y="756.0" font-size="17.6" text-anchor="end" >60</text>
<line x1="431" y1="935.5" x2="598.1" y2="935.5" stroke="#4d4d4d" stroke-width="1"/>
<line x1="436.5" y1="935.4" x2="436.5" y2="941" stroke="#4d4d4d" stroke-width="1"/>
<line x1="516.5" y1="935.4" x2="516.5" y2="941" stroke="#4d4d4d" stroke-width="1"/>
<line x1="598.5" y1="935.4" x2="598.5" y2="941" stroke="#4d4d4d" stroke-width="1"/>
<rect x="453.5" y="795.5" width="23.0" height="140.0" fill="#fff" stroke="#4d4d4d" stroke-width="1"/>
<line x1="464.5" y1="795.5" x2="464.5" y2="787.5" stroke="#4d4d4d" stroke-width="1"/>
<line x1="460.4" y1="787.5" x2="468.6" y2="787.5" stroke="#4d4d4d" stroke-width="1"/>
<rect x="476.5" y="808.5" width="23.0" height="127.0" fill="#000" stroke="#111" stroke-width="1"/>
<line x1="488.5" y1="808.5" x2="488.5" y2="795.5" stroke="#222" stroke-width="1"/>
<line x1="484.4" y1="795.5" x2="492.6" y2="795.5" stroke="#222" stroke-width="1"/>
<rect x="534.5" y="839.5" width="23.0" height="96.0" fill="#fff" stroke="#4d4d4d" stroke-width="1"/>
<line x1="546.5" y1="839.5" x2="546.5" y2="827.5" stroke="#4d4d4d" stroke-width="1"/>
<line x1="542.4" y1="827.5" x2="550.6" y2="827.5" stroke="#4d4d4d" stroke-width="1"/>
<rect x="557.5" y="861.5" width="23.0" height="74.0" fill="#000" stroke="#111" stroke-width="1"/>
<line x1="568.5" y1="861.5" x2="568.5" y2="850.5" stroke="#222" stroke-width="1"/>
<line x1="564.4" y1="850.5" x2="572.6" y2="850.5" stroke="#222" stroke-width="1"/>
<polyline points="466.5,779.6 466.5,768.5 547.5,768.5 547.5,816.9" fill="none" stroke="#333" stroke-width="1.1"/>
<text x="506.5" y="764.7" font-size="17" text-anchor="middle" >ns</text>
<polyline points="489.5,755.3 489.5,745.5 569.5,745.5 569.5,842.9" fill="none" stroke="#333" stroke-width="1.1"/>
<polygon points="527.10,733.70 527.83,735.99 530.24,735.98 528.29,737.39 529.04,739.67 527.10,738.25 525.16,739.67 525.91,737.39 523.96,735.98 526.37,735.99" fill="#000" stroke="#000" stroke-width="0.3" stroke-linejoin="round"/>
<text x="477" y="967.7" font-size="17.6" text-anchor="middle" >WT</text>
<text x="558.4" y="967.7" font-size="17.6" text-anchor="middle" >Tg</text>
<text transform="translate(364.8,840.4) rotate(-90)" x="0" y="0" font-size="18.0" text-anchor="middle">% of M2-like macrophages in</text>
<text transform="translate(385.1,841.4) rotate(-90)" x="0" y="0" font-size="17.6" text-anchor="middle">CD45+ SVF</text>
<line x1="58.3" y1="713.5" x2="61.5" y2="713.5" stroke="#444" stroke-width="1.0"/>
<rect x="56.3" y="712.2" width="1.6" height="2.4" fill="#999"/>
<line x1="58.3" y1="741.5" x2="61.5" y2="741.5" stroke="#444" stroke-width="1.0"/>
<rect x="56.3" y="740.2" width="1.6" height="2.4" fill="#999"/>
<line x1="58.3" y1="774.5" x2="61.5" y2="774.5" stroke="#444" stroke-width="1.0"/>
<rect x="56.3" y="773.6" width="1.6" height="2.4" fill="#999"/>
<line x1="58.3" y1="814.5" x2="61.5" y2="814.5" stroke="#444" stroke-width="1.0"/>
<rect x="56.3" y="813.0" width="1.6" height="2.4" fill="#999"/>
<line x1="59.7" y1="732.5" x2="61.5" y2="732.5" stroke="#777" stroke-width="0.7"/>
<line x1="59.7" y1="728.5" x2="61.5" y2="728.5" stroke="#777" stroke-width="0.7"/>
<line x1="59.7" y1="724.5" x2="61.5" y2="724.5" stroke="#777" stroke-width="0.7"/>
<line x1="59.7" y1="721.5" x2="61.5" y2="721.5" stroke="#777" stroke-width="0.7"/>
<line x1="59.7" y1="719.5" x2="61.5" y2="719.5" stroke="#777" stroke-width="0.7"/>
<line x1="59.7" y1="717.5" x2="61.5" y2="717.5" stroke="#777" stroke-width="0.7"/>
<line x1="59.7" y1="716.5" x2="61.5" y2="716.5" stroke="#777" stroke-width="0.7"/>
<line x1="59.7" y1="714.5" x2="61.5" y2="714.5" stroke="#777" stroke-width="0.7"/>
<line x1="59.7" y1="764.5" x2="61.5" y2="764.5" stroke="#777" stroke-width="0.7"/>
<line x1="59.7" y1="758.5" x2="61.5" y2="758.5" stroke="#777" stroke-width="0.7"/>
<line x1="59.7" y1="754.5" x2="61.5" y2="754.5" stroke="#777" stroke-width="0.7"/>
<line x1="59.7" y1="751.5" x2="61.5" y2="751.5" stroke="#777" stroke-width="0.7"/>
<line x1="59.7" y1="748.5" x2="61.5" y2="748.5" stroke="#777" stroke-width="0.7"/>
<line x1="59.7" y1="746.5" x2="61.5" y2="746.5" stroke="#777" stroke-width="0.7"/>
<line x1="59.7" y1="744.5" x2="61.5" y2="744.5" stroke="#777" stroke-width="0.7"/>
<line x1="59.7" y1="742.5" x2="61.5" y2="742.5" stroke="#777" stroke-width="0.7"/>
<line x1="59.7" y1="802.5" x2="61.5" y2="802.5" stroke="#777" stroke-width="0.7"/>
<line x1="59.7" y1="795.5" x2="61.5" y2="795.5" stroke="#777" stroke-width="0.7"/>
<line x1="59.7" y1="790.5" x2="61.5" y2="790.5" stroke="#777" stroke-width="0.7"/>
<line x1="59.7" y1="786.5" x2="61.5" y2="786.5" stroke="#777" stroke-width="0.7"/>
<line x1="59.7" y1="783.5" x2="61.5" y2="783.5" stroke="#777" stroke-width="0.7"/>
<line x1="59.7" y1="780.5" x2="61.5" y2="780.5" stroke="#777" stroke-width="0.7"/>
<line x1="59.7" y1="778.5" x2="61.5" y2="778.5" stroke="#777" stroke-width="0.7"/>
<line x1="59.7" y1="776.5" x2="61.5" y2="776.5" stroke="#777" stroke-width="0.7"/>
<rect x="57.1" y="792.7" width="3.8" height="4.2" fill="#222"/>
<line x1="67.5" y1="822.3" x2="67.5" y2="825.5" stroke="#333" stroke-width="1.0"/>
<line x1="108.5" y1="822.3" x2="108.5" y2="825.5" stroke="#333" stroke-width="1.0"/>
<line x1="143.5" y1="822.3" x2="143.5" y2="825.5" stroke="#333" stroke-width="1.0"/>
<line x1="173.5" y1="822.3" x2="173.5" y2="825.5" stroke="#333" stroke-width="1.0"/>
<line x1="80.5" y1="822.3" x2="80.5" y2="824.0999999999999" stroke="#777" stroke-width="0.7"/>
<line x1="87.5" y1="822.3" x2="87.5" y2="824.0999999999999" stroke="#777" stroke-width="0.7"/>
<line x1="92.5" y1="822.3" x2="92.5" y2="824.0999999999999" stroke="#777" stroke-width="0.7"/>
<line x1="96.5" y1="822.3" x2="96.5" y2="824.0999999999999" stroke="#777" stroke-width="0.7"/>
<line x1="99.5" y1="822.3" x2="99.5" y2="824.0999999999999" stroke="#777" stroke-width="0.7"/>
<line x1="102.5" y1="822.3" x2="102.5" y2="824.0999999999999" stroke="#777" stroke-width="0.7"/>
<line x1="105.5" y1="822.3" x2="105.5" y2="824.0999999999999" stroke="#777" stroke-width="0.7"/>
<line x1="107.5" y1="822.3" x2="107.5" y2="824.0999999999999" stroke="#777" stroke-width="0.7"/>
<line x1="119.5" y1="822.3" x2="119.5" y2="824.0999999999999" stroke="#777" stroke-width="0.7"/>
<line x1="125.5" y1="822.3" x2="125.5" y2="824.0999999999999" stroke="#777" stroke-width="0.7"/>
<line x1="129.5" y1="822.3" x2="129.5" y2="824.0999999999999" stroke="#777" stroke-width="0.7"/>
<line x1="133.5" y1="822.3" x2="133.5" y2="824.0999999999999" stroke="#777" stroke-width="0.7"/>
<line x1="136.5" y1="822.3" x2="136.5" y2="824.0999999999999" stroke="#777" stroke-width="0.7"/>
<line x1="138.5" y1="822.3" x2="138.5" y2="824.0999999999999" stroke="#777" stroke-width="0.7"/>
<line x1="140.5" y1="822.3" x2="140.5" y2="824.0999999999999" stroke="#777" stroke-width="0.7"/>
<line x1="142.5" y1="822.3" x2="142.5" y2="824.0999999999999" stroke="#777" stroke-width="0.7"/>
<line x1="152.5" y1="822.3" x2="152.5" y2="824.0999999999999" stroke="#777" stroke-width="0.7"/>
<line x1="157.5" y1="822.3" x2="157.5" y2="824.0999999999999" stroke="#777" stroke-width="0.7"/>
<line x1="161.5" y1="822.3" x2="161.5" y2="824.0999999999999" stroke="#777" stroke-width="0.7"/>
<line x1="164.5" y1="822.3" x2="164.5" y2="824.0999999999999" stroke="#777" stroke-width="0.7"/>
<line x1="166.5" y1="822.3" x2="166.5" y2="824.0999999999999" stroke="#777" stroke-width="0.7"/>
<line x1="168.5" y1="822.3" x2="168.5" y2="824.0999999999999" stroke="#777" stroke-width="0.7"/>
<line x1="170.5" y1="822.3" x2="170.5" y2="824.0999999999999" stroke="#777" stroke-width="0.7"/>
<line x1="171.5" y1="822.3" x2="171.5" y2="824.0999999999999" stroke="#777" stroke-width="0.7"/>
<rect x="86.9" y="822.9" width="4.8" height="2.4" fill="#222"/>
<rect x="61.5" y="701.5" width="124" height="121" fill="none" stroke="#7a7a7a" stroke-width="1"/>
<text x="178.4" y="711.1" font-size="5.3" text-anchor="end" fill="#333" style="stroke-width:0.05px">M2-like macrophages</text>
<path d="M100.2 798.6h1.0v1.0h-1.0zM107.5 793.6h1.0v1.0h-1.0zM106.7 804.9h1.0v1.0h-1.0zM97.2 791.0h1.0v1.0h-1.0zM98.4 786.4h1.0v1.0h-1.0zM97.1 792.5h1.0v1.0h-1.0zM103.1 795.2h1.0v1.0h-1.0zM99.7 801.7h1.0v1.0h-1.0zM104.1 797.6h1.0v1.0h-1.0zM89.8 782.8h1.0v1.0h-1.0zM108.6 814.6h1.0v1.0h-1.0zM99.5 803.7h1.0v1.0h-1.0zM103.7 809.4h1.0v1.0h-1.0zM99.2 800.0h1.0v1.0h-1.0zM97.9 792.5h1.0v1.0h-1.0zM102.5 793.0h1.0v1.0h-1.0zM104.5 795.7h1.0v1.0h-1.0zM98.9 802.9h1.0v1.0h-1.0zM99.2 795.4h1.0v1.0h-1.0zM103.8 784.2h1.0v1.0h-1.0zM95.2 791.2h1.0v1.0h-1.0zM91.7 776.0h1.0v1.0h-1.0zM102.2 798.1h1.0v1.0h-1.0zM96.3 781.3h1.0v1.0h-1.0zM89.4 775.7h1.0v1.0h-1.0zM95.5 792.8h1.0v1.0h-1.0zM97.4 792.4h1.0v1.0h-1.0zM93.4 775.0h1.0v1.0h-1.0zM91.8 795.9h1.0v1.0h-1.0zM100.2 815.0h1.0v1.0h-1.0zM104.9 785.0h1.0v1.0h-1.0zM98.7 810.7h1.0v1.0h-1.0zM95.9 785.7h1.0v1.0h-1.0zM102.1 792.0h1.0v1.0h-1.0zM103.9 796.2h1.0v1.0h-1.0zM98.3 780.6h1.0v1.0h-1.0zM103.0 809.1h1.0v1.0h-1.0zM105.7 803.7h1.0v1.0h-1.0zM98.9 787.3h1.0v1.0h-1.0zM95.5 789.2h1.0v1.0h-1.0zM101.9 782.5h1.0v1.0h-1.0zM101.4 792.8h1.0v1.0h-1.0zM106.0 808.0h1.0v1.0h-1.0zM92.9 774.1h1.0v1.0h-1.0zM96.4 788.4h1.0v1.0h-1.0zM95.4 793.0h1.0v1.0h-1.0zM90.5 797.7h1.0v1.0h-1.0zM100.7 807.9h1.0v1.0h-1.0zM102.9 792.9h1.0v1.0h-1.0zM95.9 785.3h1.0v1.0h-1.0zM107.6 804.7h1.0v1.0h-1.0zM104.5 795.0h1.0v1.0h-1.0zM103.5 794.7h1.0v1.0h-1.0zM102.2 806.5h1.0v1.0h-1.0zM105.3 814.3h1.0v1.0h-1.0zM92.7 792.1h1.0v1.0h-1.0zM103.4 795.7h1.0v1.0h-1.0zM103.3 802.6h1.0v1.0h-1.0zM90.3 770.6h1.0v1.0h-1.0zM101.9 796.2h1.0v1.0h-1.0zM98.6 784.3h1.0v1.0h-1.0zM104.3 820.0h1.0v1.0h-1.0zM97.6 799.8h1.0v1.0h-1.0zM99.9 796.2h1.0v1.0h-1.0zM101.9 794.6h1.0v1.0h-1.0zM95.2 768.4h1.0v1.0h-1.0zM103.3 803.9h1.0v1.0h-1.0zM99.4 809.5h1.0v1.0h-1.0zM102.7 790.3h1.0v1.0h-1.0zM97.1 799.2h1.0v1.0h-1.0zM106.0 806.0h1.0v1.0h-1.0zM103.3 783.2h1.0v1.0h-1.0zM99.0 802.9h1.0v1.0h-1.0zM103.5 809.9h1.0v1.0h-1.0zM106.9 802.1h1.0v1.0h-1.0zM109.9 801.6h1.0v1.0h-1.0zM91.3 795.9h1.0v1.0h-1.0zM104.9 784.4h1.0v1.0h-1.0zM102.6 797.7h1.0v1.0h-1.0zM99.5 804.3h1.0v1.0h-1.0zM94.5 779.6h1.0v1.0h-1.0zM106.9 809.1h1.0v1.0h-1.0zM93.1 786.1h1.0v1.0h-1.0zM103.1 778.2h1.0v1.0h-1.0zM107.2 799.2h1.0v1.0h-1.0zM91.2 779.7h1.0v1.0h-1.0zM98.3 796.7h1.0v1.0h-1.0zM92.8 779.0h1.0v1.0h-1.0zM101.3 805.6h1.0v1.0h-1.0zM108.3 794.3h1.0v1.0h-1.0zM111.1 806.4h1.0v1.0h-1.0zM90.2 782.4h1.0v1.0h-1.0zM96.8 789.7h1.0v1.0h-1.0zM103.9 808.7h1.0v1.0h-1.0zM108.7 803.3h1.0v1.0h-1.0zM102.3 793.1h1.0v1.0h-1.0zM95.9 780.5h1.0v1.0h-1.0zM101.6 806.8h1.0v1.0h-1.0zM99.9 801.6h1.0v1.0h-1.0zM98.9 791.2h1.0v1.0h-1.0zM96.0 794.3h1.0v1.0h-1.0zM102.1 787.1h1.0v1.0h-1.0zM101.7 786.9h1.0v1.0h-1.0zM99.5 787.1h1.0v1.0h-1.0zM98.8 797.4h1.0v1.0h-1.0zM92.9 792.6h1.0v1.0h-1.0zM97.3 786.2h1.0v1.0h-1.0zM106.6 806.6h1.0v1.0h-1.0zM99.0 801.4h1.0v1.0h-1.0zM92.1 790.8h1.0v1.0h-1.0zM107.3 809.9h1.0v1.0h-1.0zM102.9 794.5h1.0v1.0h-1.0zM111.6 802.4h1.0v1.0h-1.0zM100.3 799.6h1.0v1.0h-1.0zM97.5 792.8h1.0v1.0h-1.0zM92.0 796.5h1.0v1.0h-1.0zM107.3 788.8h1.0v1.0h-1.0zM114.1 818.3h1.0v1.0h-1.0zM95.5 784.6h1.0v1.0h-1.0zM96.4 790.9h1.0v1.0h-1.0zM103.3 784.8h1.0v1.0h-1.0zM95.4 797.2h1.0v1.0h-1.0zM98.5 805.6h1.0v1.0h-1.0zM98.1 803.4h1.0v1.0h-1.0zM101.1 803.4h1.0v1.0h-1.0zM106.0 785.1h1.0v1.0h-1.0zM100.1 787.9h1.0v1.0h-1.0zM105.1 794.4h1.0v1.0h-1.0zM97.7 784.8h1.0v1.0h-1.0zM101.8 806.6h1.0v1.0h-1.0zM88.2 788.1h1.0v1.0h-1.0zM92.0 789.0h1.0v1.0h-1.0zM104.4 802.7h1.0v1.0h-1.0zM96.8 783.9h1.0v1.0h-1.0zM103.2 789.0h1.0v1.0h-1.0zM103.0 789.1h1.0v1.0h-1.0zM107.3 804.8h1.0v1.0h-1.0zM104.5 801.4h1.0v1.0h-1.0zM105.6 804.4h1.0v1.0h-1.0zM99.4 804.4h1.0v1.0h-1.0zM96.2 779.8h1.0v1.0h-1.0zM96.0 786.9h1.0v1.0h-1.0zM97.3 794.4h1.0v1.0h-1.0zM93.8 778.1h1.0v1.0h-1.0zM97.0 787.9h1.0v1.0h-1.0zM99.5 803.9h1.0v1.0h-1.0zM101.4 806.1h1.0v1.0h-1.0zM98.1 803.5h1.0v1.0h-1.0zM89.4 787.7h1.0v1.0h-1.0zM99.6 792.8h1.0v1.0h-1.0zM101.2 805.8h1.0v1.0h-1.0zM106.0 795.9h1.0v1.0h-1.0zM103.2 800.4h1.0v1.0h-1.0zM96.5 804.6h1.0v1.0h-1.0zM96.0 788.7h1.0v1.0h-1.0zM111.1 797.4h1.0v1.0h-1.0zM104.2 797.9h1.0v1.0h-1.0zM110.1 807.8h1.0v1.0h-1.0zM111.7 807.9h1.0v1.0h-1.0zM95.5 793.2h1.0v1.0h-1.0zM102.1 801.6h1.0v1.0h-1.0zM102.5 782.2h1.0v1.0h-1.0zM103.1 789.4h1.0v1.0h-1.0zM103.0 798.7h1.0v1.0h-1.0zM101.1 787.3h1.0v1.0h-1.0zM101.0 783.4h1.0v1.0h-1.0zM91.7 777.9h1.0v1.0h-1.0zM99.1 785.9h1.0v1.0h-1.0zM95.9 790.4h1.0v1.0h-1.0zM100.7 786.1h1.0v1.0h-1.0zM97.4 795.3h1.0v1.0h-1.0zM103.4 813.0h1.0v1.0h-1.0zM104.5 796.9h1.0v1.0h-1.0zM101.7 807.9h1.0v1.0h-1.0zM101.7 798.9h1.0v1.0h-1.0zM100.5 785.1h1.0v1.0h-1.0zM97.5 790.9h1.0v1.0h-1.0zM99.1 785.3h1.0v1.0h-1.0zM97.3 800.1h1.0v1.0h-1.0zM102.1 786.0h1.0v1.0h-1.0zM100.1 807.2h1.0v1.0h-1.0zM103.2 802.6h1.0v1.0h-1.0zM92.7 771.2h1.0v1.0h-1.0zM104.9 805.7h1.0v1.0h-1.0zM95.8 806.2h1.0v1.0h-1.0zM96.0 784.8h1.0v1.0h-1.0zM98.9 803.2h1.0v1.0h-1.0zM96.9 776.3h1.0v1.0h-1.0zM101.6 798.5h1.0v1.0h-1.0zM96.8 777.5h1.0v1.0h-1.0zM94.1 795.1h1.0v1.0h-1.0zM95.3 775.2h1.0v1.0h-1.0zM107.2 776.1h1.0v1.0h-1.0zM100.2 798.8h1.0v1.0h-1.0zM93.6 811.3h1.0v1.0h-1.0zM100.0 789.6h1.0v1.0h-1.0zM91.4 796.4h1.0v1.0h-1.0zM109.8 803.2h1.0v1.0h-1.0zM91.6 785.9h1.0v1.0h-1.0zM102.6 802.6h1.0v1.0h-1.0zM103.0 812.2h1.0v1.0h-1.0zM92.0 777.9h1.0v1.0h-1.0zM101.7 801.4h1.0v1.0h-1.0zM105.5 802.2h1.0v1.0h-1.0zM102.6 783.8h1.0v1.0h-1.0zM101.4 810.8h1.0v1.0h-1.0zM105.2 816.7h1.0v1.0h-1.0zM100.9 786.9h1.0v1.0h-1.0zM101.9 812.3h1.0v1.0h-1.0zM99.3 795.0h1.0v1.0h-1.0zM103.5 796.0h1.0v1.0h-1.0zM94.8 805.0h1.0v1.0h-1.0zM104.4 800.3h1.0v1.0h-1.0zM97.2 795.9h1.0v1.0h-1.0zM94.0 804.5h1.0v1.0h-1.0zM102.0 808.3h1.0v1.0h-1.0zM109.3 810.0h1.0v1.0h-1.0zM105.3 786.0h1.0v1.0h-1.0zM97.2 778.5h1.0v1.0h-1.0zM103.8 808.1h1.0v1.0h-1.0zM97.5 784.7h1.0v1.0h-1.0zM99.3 795.9h1.0v1.0h-1.0zM100.5 785.5h1.0v1.0h-1.0zM87.3 784.0h1.0v1.0h-1.0zM101.1 784.0h1.0v1.0h-1.0zM94.3 805.8h1.0v1.0h-1.0zM96.2 782.9h1.0v1.0h-1.0zM91.9 788.0h1.0v1.0h-1.0zM91.7 787.2h1.0v1.0h-1.0zM94.8 802.3h1.0v1.0h-1.0zM104.5 785.3h1.0v1.0h-1.0zM109.2 801.4h1.0v1.0h-1.0zM99.9 793.0h1.0v1.0h-1.0zM106.0 804.2h1.0v1.0h-1.0zM98.5 798.3h1.0v1.0h-1.0zM89.5 783.1h1.0v1.0h-1.0zM100.8 797.8h1.0v1.0h-1.0zM102.5 793.3h1.0v1.0h-1.0zM97.6 797.6h1.0v1.0h-1.0zM101.7 795.3h1.0v1.0h-1.0zM103.1 791.3h1.0v1.0h-1.0zM95.3 791.3h1.0v1.0h-1.0zM91.9 792.4h1.0v1.0h-1.0zM98.8 814.9h1.0v1.0h-1.0zM98.8 789.7h1.0v1.0h-1.0zM98.1 796.4h1.0v1.0h-1.0zM105.4 812.4h1.0v1.0h-1.0zM109.5 782.9h1.0v1.0h-1.0zM97.7 777.4h1.0v1.0h-1.0zM103.8 786.9h1.0v1.0h-1.0zM105.2 797.7h1.0v1.0h-1.0zM103.9 820.2h1.0v1.0h-1.0zM105.8 802.8h1.0v1.0h-1.0zM97.9 804.5h1.0v1.0h-1.0zM104.1 795.9h1.0v1.0h-1.0zM111.1 780.5h1.0v1.0h-1.0zM104.4 777.0h1.0v1.0h-1.0zM96.6 801.9h1.0v1.0h-1.0zM103.3 799.1h1.0v1.0h-1.0zM106.9 788.1h1.0v1.0h-1.0zM102.0 806.7h1.0v1.0h-1.0zM96.9 778.6h1.0v1.0h-1.0zM108.5 811.6h1.0v1.0h-1.0zM93.1 803.3h1.0v1.0h-1.0zM102.8 790.0h1.0v1.0h-1.0zM99.9 784.8h1.0v1.0h-1.0zM93.4 798.0h1.0v1.0h-1.0zM106.7 789.8h1.0v1.0h-1.0zM101.9 804.3h1.0v1.0h-1.0zM93.6 779.4h1.0v1.0h-1.0zM103.3 804.8h1.0v1.0h-1.0zM97.6 794.1h1.0v1.0h-1.0zM89.5 783.4h1.0v1.0h-1.0zM96.2 784.0h1.0v1.0h-1.0zM101.4 798.2h1.0v1.0h-1.0zM103.5 780.2h1.0v1.0h-1.0zM100.9 793.1h1.0v1.0h-1.0zM100.2 791.5h1.0v1.0h-1.0zM102.6 803.1h1.0v1.0h-1.0zM98.8 782.7h1.0v1.0h-1.0zM106.5 815.4h1.0v1.0h-1.0zM100.8 792.7h1.0v1.0h-1.0zM101.6 785.7h1.0v1.0h-1.0zM103.0 809.9h1.0v1.0h-1.0zM94.2 806.0h1.0v1.0h-1.0zM96.1 790.4h1.0v1.0h-1.0zM108.4 792.9h1.0v1.0h-1.0zM101.8 796.5h1.0v1.0h-1.0zM98.4 787.5h1.0v1.0h-1.0zM101.9 793.5h1.0v1.0h-1.0zM97.4 807.4h1.0v1.0h-1.0zM101.5 799.7h1.0v1.0h-1.0zM96.3 793.7h1.0v1.0h-1.0zM101.5 799.3h1.0v1.0h-1.0zM91.3 788.2h1.0v1.0h-1.0zM107.3 808.0h1.0v1.0h-1.0zM97.2 801.0h1.0v1.0h-1.0zM91.3 785.3h1.0v1.0h-1.0zM98.8 795.1h1.0v1.0h-1.0zM98.0 815.6h1.0v1.0h-1.0zM100.8 799.5h1.0v1.0h-1.0zM93.7 788.7h1.0v1.0h-1.0zM102.2 815.4h1.0v1.0h-1.0zM119.9 809.6h1.0v1.0h-1.0zM93.0 779.8h1.0v1.0h-1.0zM101.9 802.5h1.0v1.0h-1.0zM98.3 785.5h1.0v1.0h-1.0zM101.1 791.2h1.0v1.0h-1.0zM90.0 790.7h1.0v1.0h-1.0zM93.7 789.2h1.0v1.0h-1.0zM102.5 789.8h1.0v1.0h-1.0zM99.8 789.8h1.0v1.0h-1.0zM109.0 796.1h1.0v1.0h-1.0zM96.1 802.9h1.0v1.0h-1.0zM101.0 789.1h1.0v1.0h-1.0zM116.0 801.4h1.0v1.0h-1.0zM95.8 810.6h1.0v1.0h-1.0zM95.0 786.3h1.0v1.0h-1.0zM99.8 808.5h1.0v1.0h-1.0zM99.8 806.9h1.0v1.0h-1.0zM104.6 797.0h1.0v1.0h-1.0zM100.7 782.5h1.0v1.0h-1.0zM95.8 796.1h1.0v1.0h-1.0zM101.2 802.0h1.0v1.0h-1.0zM114.5 814.4h1.0v1.0h-1.0zM107.0 800.7h1.0v1.0h-1.0zM84.7 794.9h1.0v1.0h-1.0zM99.2 807.2h1.0v1.0h-1.0zM95.2 781.8h1.0v1.0h-1.0zM103.4 810.6h1.0v1.0h-1.0zM99.0 795.9h1.0v1.0h-1.0zM110.6 797.5h1.0v1.0h-1.0zM105.1 795.8h1.0v1.0h-1.0zM104.9 815.8h1.0v1.0h-1.0zM101.0 804.8h1.0v1.0h-1.0zM99.8 778.4h1.0v1.0h-1.0zM101.9 797.1h1.0v1.0h-1.0zM107.1 798.9h1.0v1.0h-1.0zM102.9 795.5h1.0v1.0h-1.0zM98.1 788.9h1.0v1.0h-1.0zM107.0 786.8h1.0v1.0h-1.0zM101.1 803.7h1.0v1.0h-1.0zM99.6 786.1h1.0v1.0h-1.0zM95.6 788.4h1.0v1.0h-1.0zM96.9 787.2h1.0v1.0h-1.0zM96.5 785.8h1.0v1.0h-1.0zM84.6 790.6h1.0v1.0h-1.0zM105.6 802.6h1.0v1.0h-1.0zM103.1 791.1h1.0v1.0h-1.0zM98.8 785.5h1.0v1.0h-1.0zM105.8 794.9h1.0v1.0h-1.0zM102.4 805.6h1.0v1.0h-1.0zM102.0 797.6h1.0v1.0h-1.0zM86.4 787.2h1.0v1.0h-1.0zM98.7 791.1h1.0v1.0h-1.0zM102.9 794.8h1.0v1.0h-1.0zM108.9 803.4h1.0v1.0h-1.0zM110.1 785.5h1.0v1.0h-1.0zM107.8 815.5h1.0v1.0h-1.0zM93.6 783.1h1.0v1.0h-1.0zM87.9 781.0h1.0v1.0h-1.0zM103.1 809.5h1.0v1.0h-1.0zM100.2 797.1h1.0v1.0h-1.0zM105.3 799.2h1.0v1.0h-1.0zM99.3 789.2h1.0v1.0h-1.0zM101.2 781.6h1.0v1.0h-1.0zM91.8 790.7h1.0v1.0h-1.0zM102.5 807.7h1.0v1.0h-1.0zM97.6 785.0h1.0v1.0h-1.0zM101.9 808.9h1.0v1.0h-1.0zM102.5 786.5h1.0v1.0h-1.0zM99.4 787.8h1.0v1.0h-1.0zM101.7 800.9h1.0v1.0h-1.0zM99.9 794.9h1.0v1.0h-1.0zM104.2 804.4h1.0v1.0h-1.0zM102.8 790.2h1.0v1.0h-1.0zM97.0 783.4h1.0v1.0h-1.0zM96.8 775.5h1.0v1.0h-1.0zM109.6 790.9h1.0v1.0h-1.0zM99.4 784.7h1.0v1.0h-1.0zM105.5 785.9h1.0v1.0h-1.0zM102.2 799.4h1.0v1.0h-1.0zM96.9 786.7h1.0v1.0h-1.0zM95.9 773.8h1.0v1.0h-1.0zM100.7 818.2h1.0v1.0h-1.0zM101.4 788.4h1.0v1.0h-1.0zM103.4 786.0h1.0v1.0h-1.0zM93.0 801.3h1.0v1.0h-1.0zM96.7 803.3h1.0v1.0h-1.0zM99.5 784.1h1.0v1.0h-1.0zM108.8 787.9h1.0v1.0h-1.0zM87.0 776.4h1.0v1.0h-1.0zM102.4 807.1h1.0v1.0h-1.0zM97.0 790.0h1.0v1.0h-1.0zM102.4 789.3h1.0v1.0h-1.0zM97.3 792.8h1.0v1.0h-1.0zM102.0 807.5h1.0v1.0h-1.0zM108.6 788.5h1.0v1.0h-1.0zM101.9 792.9h1.0v1.0h-1.0zM102.4 784.1h1.0v1.0h-1.0zM132.7 741.7h1.0v1.0h-1.0zM129.2 730.7h1.0v1.0h-1.0zM120.5 748.5h1.0v1.0h-1.0zM109.7 765.9h1.0v1.0h-1.0zM117.6 755.5h1.0v1.0h-1.0zM90.0 774.1h1.0v1.0h-1.0zM113.8 758.7h1.0v1.0h-1.0zM97.6 784.7h1.0v1.0h-1.0zM97.8 758.9h1.0v1.0h-1.0zM104.0 773.6h1.0v1.0h-1.0zM107.5 748.0h1.0v1.0h-1.0zM116.7 751.4h1.0v1.0h-1.0zM118.0 756.5h1.0v1.0h-1.0zM113.6 749.9h1.0v1.0h-1.0zM101.6 768.8h1.0v1.0h-1.0zM117.8 762.1h1.0v1.0h-1.0zM109.8 749.4h1.0v1.0h-1.0zM122.8 750.8h1.0v1.0h-1.0zM101.8 763.0h1.0v1.0h-1.0zM83.4 761.3h1.0v1.0h-1.0zM106.2 761.6h1.0v1.0h-1.0zM132.5 736.9h1.0v1.0h-1.0zM115.7 769.5h1.0v1.0h-1.0zM109.1 753.0h1.0v1.0h-1.0zM119.8 770.0h1.0v1.0h-1.0zM116.0 751.3h1.0v1.0h-1.0zM115.6 775.3h1.0v1.0h-1.0zM105.9 768.9h1.0v1.0h-1.0zM111.8 763.8h1.0v1.0h-1.0zM113.0 766.3h1.0v1.0h-1.0zM104.6 773.3h1.0v1.0h-1.0zM99.8 781.5h1.0v1.0h-1.0zM112.4 775.6h1.0v1.0h-1.0zM120.7 749.7h1.0v1.0h-1.0zM117.5 743.3h1.0v1.0h-1.0zM115.9 730.8h1.0v1.0h-1.0zM116.0 752.7h1.0v1.0h-1.0zM136.8 748.7h1.0v1.0h-1.0zM113.6 761.8h1.0v1.0h-1.0zM121.4 753.6h1.0v1.0h-1.0zM130.6 742.5h1.0v1.0h-1.0zM111.5 753.5h1.0v1.0h-1.0zM113.6 755.4h1.0v1.0h-1.0zM121.4 756.2h1.0v1.0h-1.0zM127.9 730.9h1.0v1.0h-1.0zM114.1 764.7h1.0v1.0h-1.0zM114.6 743.4h1.0v1.0h-1.0zM111.9 757.8h1.0v1.0h-1.0zM98.9 762.6h1.0v1.0h-1.0zM122.2 748.4h1.0v1.0h-1.0zM108.5 751.8h1.0v1.0h-1.0zM93.8 761.3h1.0v1.0h-1.0zM109.6 758.8h1.0v1.0h-1.0zM93.7 762.0h1.0v1.0h-1.0zM101.0 790.8h1.0v1.0h-1.0zM111.2 755.8h1.0v1.0h-1.0zM101.8 760.3h1.0v1.0h-1.0zM121.8 746.9h1.0v1.0h-1.0zM96.4 760.2h1.0v1.0h-1.0zM113.7 734.4h1.0v1.0h-1.0zM116.6 753.4h1.0v1.0h-1.0zM125.7 752.3h1.0v1.0h-1.0zM120.3 738.8h1.0v1.0h-1.0zM113.4 758.2h1.0v1.0h-1.0zM111.9 747.7h1.0v1.0h-1.0zM110.5 759.9h1.0v1.0h-1.0zM122.5 755.1h1.0v1.0h-1.0zM104.5 769.3h1.0v1.0h-1.0zM116.3 760.3h1.0v1.0h-1.0zM110.2 753.8h1.0v1.0h-1.0zM113.5 766.6h1.0v1.0h-1.0zM108.5 757.4h1.0v1.0h-1.0zM132.5 747.8h1.0v1.0h-1.0zM104.5 771.3h1.0v1.0h-1.0zM113.6 755.1h1.0v1.0h-1.0zM113.9 745.5h1.0v1.0h-1.0zM117.2 761.4h1.0v1.0h-1.0zM115.6 745.9h1.0v1.0h-1.0zM115.4 748.2h1.0v1.0h-1.0zM120.9 742.2h1.0v1.0h-1.0zM96.1 778.8h1.0v1.0h-1.0zM111.2 758.2h1.0v1.0h-1.0zM98.8 747.1h1.0v1.0h-1.0zM113.4 765.2h1.0v1.0h-1.0zM99.3 788.2h1.0v1.0h-1.0zM101.5 784.0h1.0v1.0h-1.0zM110.5 754.8h1.0v1.0h-1.0zM125.1 750.5h1.0v1.0h-1.0zM116.9 760.5h1.0v1.0h-1.0zM114.1 766.3h1.0v1.0h-1.0zM125.2 750.0h1.0v1.0h-1.0zM101.7 756.1h1.0v1.0h-1.0zM90.2 782.1h1.0v1.0h-1.0zM106.9 768.8h1.0v1.0h-1.0zM108.4 749.0h1.0v1.0h-1.0zM123.5 747.4h1.0v1.0h-1.0zM132.5 747.0h1.0v1.0h-1.0zM97.8 769.3h1.0v1.0h-1.0zM135.9 747.0h1.0v1.0h-1.0zM126.8 756.2h1.0v1.0h-1.0zM119.5 759.0h1.0v1.0h-1.0zM114.8 756.0h1.0v1.0h-1.0zM135.4 729.4h1.0v1.0h-1.0zM111.9 765.1h1.0v1.0h-1.0zM106.4 776.7h1.0v1.0h-1.0zM112.5 777.8h1.0v1.0h-1.0zM97.4 769.3h1.0v1.0h-1.0zM115.9 756.0h1.0v1.0h-1.0zM110.0 774.5h1.0v1.0h-1.0zM114.4 771.2h1.0v1.0h-1.0zM114.7 760.5h1.0v1.0h-1.0zM100.6 774.2h1.0v1.0h-1.0zM124.3 743.0h1.0v1.0h-1.0zM101.0 772.7h1.0v1.0h-1.0zM120.0 745.4h1.0v1.0h-1.0zM95.2 769.8h1.0v1.0h-1.0zM114.9 755.9h1.0v1.0h-1.0zM102.9 761.2h1.0v1.0h-1.0zM111.6 739.2h1.0v1.0h-1.0zM104.6 756.5h1.0v1.0h-1.0zM89.3 778.7h1.0v1.0h-1.0zM100.0 767.2h1.0v1.0h-1.0zM111.8 755.5h1.0v1.0h-1.0zM117.4 759.4h1.0v1.0h-1.0zM96.5 776.9h1.0v1.0h-1.0zM89.9 783.2h1.0v1.0h-1.0zM102.4 758.3h1.0v1.0h-1.0zM109.0 761.5h1.0v1.0h-1.0zM104.8 761.1h1.0v1.0h-1.0zM103.1 757.1h1.0v1.0h-1.0zM119.7 739.2h1.0v1.0h-1.0zM120.8 751.8h1.0v1.0h-1.0zM118.6 746.0h1.0v1.0h-1.0zM101.8 787.2h1.0v1.0h-1.0zM111.9 758.2h1.0v1.0h-1.0zM109.2 759.0h1.0v1.0h-1.0zM96.9 766.2h1.0v1.0h-1.0zM120.0 771.4h1.0v1.0h-1.0zM112.0 750.1h1.0v1.0h-1.0zM106.3 761.7h1.0v1.0h-1.0zM125.3 742.1h1.0v1.0h-1.0zM118.8 753.0h1.0v1.0h-1.0zM119.7 753.2h1.0v1.0h-1.0zM123.2 761.6h1.0v1.0h-1.0zM118.3 741.0h1.0v1.0h-1.0zM98.5 768.6h1.0v1.0h-1.0zM107.3 778.0h1.0v1.0h-1.0zM121.2 747.6h1.0v1.0h-1.0zM103.5 763.6h1.0v1.0h-1.0zM111.5 751.0h1.0v1.0h-1.0zM115.1 731.7h1.0v1.0h-1.0zM125.6 748.3h1.0v1.0h-1.0zM124.1 761.7h1.0v1.0h-1.0zM120.1 748.8h1.0v1.0h-1.0zM109.3 743.4h1.0v1.0h-1.0zM120.3 755.7h1.0v1.0h-1.0zM116.4 756.7h1.0v1.0h-1.0zM109.5 770.5h1.0v1.0h-1.0zM124.7 758.7h1.0v1.0h-1.0zM116.1 753.6h1.0v1.0h-1.0zM103.6 769.0h1.0v1.0h-1.0zM123.8 733.4h1.0v1.0h-1.0zM108.6 772.3h1.0v1.0h-1.0zM117.1 757.3h1.0v1.0h-1.0zM95.9 781.1h1.0v1.0h-1.0zM110.9 770.1h1.0v1.0h-1.0zM101.7 763.8h1.0v1.0h-1.0zM101.4 765.3h1.0v1.0h-1.0zM92.0 765.1h1.0v1.0h-1.0zM132.5 724.5h1.0v1.0h-1.0zM109.6 759.6h1.0v1.0h-1.0zM113.5 759.5h1.0v1.0h-1.0zM122.2 741.4h1.0v1.0h-1.0zM109.9 767.5h1.0v1.0h-1.0zM116.2 757.0h1.0v1.0h-1.0zM97.5 773.9h1.0v1.0h-1.0zM113.1 751.0h1.0v1.0h-1.0zM107.0 745.8h1.0v1.0h-1.0zM116.1 763.6h1.0v1.0h-1.0zM112.9 764.3h1.0v1.0h-1.0zM97.2 768.7h1.0v1.0h-1.0zM92.6 769.1h1.0v1.0h-1.0zM100.9 764.4h1.0v1.0h-1.0zM118.5 753.2h1.0v1.0h-1.0zM115.3 751.8h1.0v1.0h-1.0zM115.1 737.6h1.0v1.0h-1.0zM90.9 781.8h1.0v1.0h-1.0zM84.2 764.8h1.0v1.0h-1.0zM104.8 761.1h1.0v1.0h-1.0zM107.7 759.2h1.0v1.0h-1.0zM105.0 766.6h1.0v1.0h-1.0zM114.6 741.8h1.0v1.0h-1.0zM109.3 772.6h1.0v1.0h-1.0zM99.2 774.6h1.0v1.0h-1.0zM102.3 773.5h1.0v1.0h-1.0zM112.5 771.0h1.0v1.0h-1.0zM111.8 751.6h1.0v1.0h-1.0zM110.3 730.3h1.0v1.0h-1.0zM133.7 746.7h1.0v1.0h-1.0zM108.4 774.4h1.0v1.0h-1.0zM112.2 770.2h1.0v1.0h-1.0zM101.1 761.9h1.0v1.0h-1.0zM107.4 761.6h1.0v1.0h-1.0zM116.3 758.9h1.0v1.0h-1.0zM116.7 738.5h1.0v1.0h-1.0zM109.4 754.6h1.0v1.0h-1.0zM115.0 751.0h1.0v1.0h-1.0zM111.6 774.7h1.0v1.0h-1.0zM92.2 767.2h1.0v1.0h-1.0zM78.3 798.6h1.0v1.0h-1.0zM134.1 743.4h1.0v1.0h-1.0zM119.3 737.9h1.0v1.0h-1.0zM110.4 781.7h1.0v1.0h-1.0zM93.6 763.2h1.0v1.0h-1.0zM98.2 775.1h1.0v1.0h-1.0zM124.6 766.6h1.0v1.0h-1.0zM83.1 774.9h1.0v1.0h-1.0zM107.8 750.5h1.0v1.0h-1.0zM119.7 763.7h1.0v1.0h-1.0zM112.4 759.6h1.0v1.0h-1.0zM118.5 742.8h1.0v1.0h-1.0zM109.7 750.6h1.0v1.0h-1.0zM134.9 739.0h1.0v1.0h-1.0zM100.7 776.7h1.0v1.0h-1.0zM97.4 767.1h1.0v1.0h-1.0zM113.7 764.3h1.0v1.0h-1.0zM125.3 765.6h1.0v1.0h-1.0zM110.4 772.6h1.0v1.0h-1.0zM121.5 766.2h1.0v1.0h-1.0zM105.7 775.6h1.0v1.0h-1.0zM99.1 753.1h1.0v1.0h-1.0zM125.0 761.7h1.0v1.0h-1.0zM126.7 751.9h1.0v1.0h-1.0zM126.3 747.8h1.0v1.0h-1.0zM106.6 752.7h1.0v1.0h-1.0zM99.4 753.1h1.0v1.0h-1.0zM99.3 757.8h1.0v1.0h-1.0zM108.8 761.4h1.0v1.0h-1.0zM116.8 744.5h1.0v1.0h-1.0zM116.1 748.5h1.0v1.0h-1.0zM96.7 764.4h1.0v1.0h-1.0zM113.0 765.0h1.0v1.0h-1.0zM111.2 757.0h1.0v1.0h-1.0zM111.9 758.0h1.0v1.0h-1.0zM110.8 772.9h1.0v1.0h-1.0zM109.0 758.4h1.0v1.0h-1.0zM116.9 761.5h1.0v1.0h-1.0zM112.3 748.9h1.0v1.0h-1.0zM113.3 761.5h1.0v1.0h-1.0zM104.1 766.1h1.0v1.0h-1.0zM115.0 758.8h1.0v1.0h-1.0zM109.8 756.4h1.0v1.0h-1.0zM89.8 765.3h1.0v1.0h-1.0zM115.8 753.6h1.0v1.0h-1.0zM108.4 757.4h1.0v1.0h-1.0zM120.3 763.3h1.0v1.0h-1.0zM109.4 769.9h1.0v1.0h-1.0zM110.0 749.1h1.0v1.0h-1.0zM113.1 764.5h1.0v1.0h-1.0zM110.9 755.5h1.0v1.0h-1.0zM106.5 767.6h1.0v1.0h-1.0zM93.1 768.3h1.0v1.0h-1.0zM129.4 732.6h1.0v1.0h-1.0zM95.2 781.1h1.0v1.0h-1.0zM107.6 766.8h1.0v1.0h-1.0zM117.5 743.5h1.0v1.0h-1.0zM114.8 739.1h1.0v1.0h-1.0zM116.7 750.8h1.0v1.0h-1.0zM118.7 743.1h1.0v1.0h-1.0zM123.6 747.4h1.0v1.0h-1.0zM114.0 763.8h1.0v1.0h-1.0zM140.1 753.2h1.0v1.0h-1.0zM100.9 763.9h1.0v1.0h-1.0zM113.3 771.6h1.0v1.0h-1.0zM107.4 773.8h1.0v1.0h-1.0zM105.5 759.8h1.0v1.0h-1.0zM113.9 741.9h1.0v1.0h-1.0zM125.6 757.7h1.0v1.0h-1.0zM103.9 771.0h1.0v1.0h-1.0zM103.9 787.7h1.0v1.0h-1.0zM118.2 768.5h1.0v1.0h-1.0zM116.4 763.6h1.0v1.0h-1.0zM130.6 762.1h1.0v1.0h-1.0zM121.3 742.6h1.0v1.0h-1.0zM113.3 760.2h1.0v1.0h-1.0zM107.7 759.8h1.0v1.0h-1.0zM113.2 775.2h1.0v1.0h-1.0zM109.2 766.7h1.0v1.0h-1.0zM97.3 740.5h1.0v1.0h-1.0zM111.1 773.2h1.0v1.0h-1.0zM109.2 752.6h1.0v1.0h-1.0zM108.7 769.2h1.0v1.0h-1.0zM106.7 758.6h1.0v1.0h-1.0zM127.9 750.3h1.0v1.0h-1.0zM118.0 761.2h1.0v1.0h-1.0zM120.4 755.2h1.0v1.0h-1.0zM104.9 755.3h1.0v1.0h-1.0zM100.8 780.9h1.0v1.0h-1.0zM108.2 766.0h1.0v1.0h-1.0zM113.4 758.2h1.0v1.0h-1.0zM107.5 769.4h1.0v1.0h-1.0zM109.1 756.4h1.0v1.0h-1.0zM120.6 771.3h1.0v1.0h-1.0zM114.0 760.2h1.0v1.0h-1.0zM101.2 770.8h1.0v1.0h-1.0zM106.7 766.6h1.0v1.0h-1.0zM104.4 756.1h1.0v1.0h-1.0zM112.8 747.6h1.0v1.0h-1.0zM99.3 770.7h1.0v1.0h-1.0zM109.2 764.8h1.0v1.0h-1.0zM117.9 768.1h1.0v1.0h-1.0zM111.3 764.3h1.0v1.0h-1.0zM101.9 756.3h1.0v1.0h-1.0zM104.8 769.7h1.0v1.0h-1.0zM112.2 767.2h1.0v1.0h-1.0zM115.8 766.3h1.0v1.0h-1.0zM119.4 757.4h1.0v1.0h-1.0zM109.5 749.5h1.0v1.0h-1.0zM97.8 780.8h1.0v1.0h-1.0zM125.2 742.9h1.0v1.0h-1.0zM114.0 763.5h1.0v1.0h-1.0zM115.1 742.2h1.0v1.0h-1.0zM114.1 765.3h1.0v1.0h-1.0zM100.6 760.1h1.0v1.0h-1.0zM107.8 772.9h1.0v1.0h-1.0zM113.6 775.3h1.0v1.0h-1.0zM121.3 764.0h1.0v1.0h-1.0zM111.6 748.5h1.0v1.0h-1.0zM79.8 773.6h1.0v1.0h-1.0zM108.6 753.6h1.0v1.0h-1.0zM114.5 764.0h1.0v1.0h-1.0zM123.9 754.2h1.0v1.0h-1.0zM118.1 756.6h1.0v1.0h-1.0zM135.9 745.2h1.0v1.0h-1.0zM125.2 755.5h1.0v1.0h-1.0zM124.5 756.7h1.0v1.0h-1.0zM120.4 769.6h1.0v1.0h-1.0zM97.2 769.6h1.0v1.0h-1.0zM119.5 756.0h1.0v1.0h-1.0zM117.0 738.0h1.0v1.0h-1.0zM105.7 751.2h1.0v1.0h-1.0zM116.9 749.3h1.0v1.0h-1.0zM115.2 745.7h1.0v1.0h-1.0zM106.3 765.6h1.0v1.0h-1.0zM109.8 771.0h1.0v1.0h-1.0zM108.4 757.8h1.0v1.0h-1.0zM113.3 753.8h1.0v1.0h-1.0zM106.8 758.2h1.0v1.0h-1.0zM116.4 757.4h1.0v1.0h-1.0zM91.8 768.7h1.0v1.0h-1.0zM128.6 755.5h1.0v1.0h-1.0zM127.0 749.7h1.0v1.0h-1.0zM127.6 748.0h1.0v1.0h-1.0zM133.0 750.2h1.0v1.0h-1.0zM123.5 739.8h1.0v1.0h-1.0zM124.9 781.4h1.0v1.0h-1.0zM145.9 735.8h1.0v1.0h-1.0zM122.4 745.7h1.0v1.0h-1.0zM133.4 733.2h1.0v1.0h-1.0zM123.7 745.7h1.0v1.0h-1.0zM117.1 767.8h1.0v1.0h-1.0zM117.1 751.5h1.0v1.0h-1.0zM112.3 758.5h1.0v1.0h-1.0zM123.1 745.1h1.0v1.0h-1.0zM115.1 771.2h1.0v1.0h-1.0zM117.5 753.0h1.0v1.0h-1.0zM138.8 734.2h1.0v1.0h-1.0zM121.2 758.9h1.0v1.0h-1.0zM137.8 743.8h1.0v1.0h-1.0zM126.4 756.3h1.0v1.0h-1.0zM134.2 749.9h1.0v1.0h-1.0zM115.0 754.5h1.0v1.0h-1.0zM124.9 751.5h1.0v1.0h-1.0zM157.2 734.8h1.0v1.0h-1.0zM133.7 732.3h1.0v1.0h-1.0zM136.0 758.6h1.0v1.0h-1.0zM126.0 748.3h1.0v1.0h-1.0zM134.1 751.5h1.0v1.0h-1.0zM107.8 747.9h1.0v1.0h-1.0zM111.9 730.4h1.0v1.0h-1.0zM128.5 735.6h1.0v1.0h-1.0zM133.6 763.6h1.0v1.0h-1.0zM117.6 742.8h1.0v1.0h-1.0zM120.5 746.6h1.0v1.0h-1.0zM118.2 735.3h1.0v1.0h-1.0zM120.5 745.0h1.0v1.0h-1.0zM107.3 748.9h1.0v1.0h-1.0zM104.3 751.1h1.0v1.0h-1.0zM121.8 749.7h1.0v1.0h-1.0zM100.3 747.3h1.0v1.0h-1.0zM110.1 746.3h1.0v1.0h-1.0zM114.3 751.6h1.0v1.0h-1.0zM109.1 756.1h1.0v1.0h-1.0zM125.9 748.3h1.0v1.0h-1.0zM117.0 770.1h1.0v1.0h-1.0zM121.7 752.7h1.0v1.0h-1.0zM109.6 754.3h1.0v1.0h-1.0zM113.1 744.9h1.0v1.0h-1.0zM129.4 760.3h1.0v1.0h-1.0zM127.5 738.5h1.0v1.0h-1.0zM116.7 733.9h1.0v1.0h-1.0zM127.4 739.0h1.0v1.0h-1.0zM125.1 756.6h1.0v1.0h-1.0zM124.8 737.6h1.0v1.0h-1.0zM143.4 760.7h1.0v1.0h-1.0zM117.4 750.9h1.0v1.0h-1.0zM128.1 733.0h1.0v1.0h-1.0zM128.1 746.9h1.0v1.0h-1.0zM119.6 770.0h1.0v1.0h-1.0zM107.5 743.6h1.0v1.0h-1.0zM131.6 734.7h1.0v1.0h-1.0zM126.0 755.2h1.0v1.0h-1.0zM123.2 764.3h1.0v1.0h-1.0zM122.9 761.2h1.0v1.0h-1.0zM122.8 746.7h1.0v1.0h-1.0zM110.9 754.3h1.0v1.0h-1.0zM126.3 753.2h1.0v1.0h-1.0zM99.1 766.9h1.0v1.0h-1.0zM122.1 773.5h1.0v1.0h-1.0zM103.0 752.4h1.0v1.0h-1.0zM117.9 765.1h1.0v1.0h-1.0zM131.7 745.0h1.0v1.0h-1.0zM119.1 757.2h1.0v1.0h-1.0zM116.2 741.3h1.0v1.0h-1.0zM129.1 741.0h1.0v1.0h-1.0zM118.9 755.4h1.0v1.0h-1.0zM117.1 741.6h1.0v1.0h-1.0zM117.2 760.8h1.0v1.0h-1.0zM142.0 741.1h1.0v1.0h-1.0zM131.0 749.7h1.0v1.0h-1.0zM128.6 748.4h1.0v1.0h-1.0zM106.8 749.4h1.0v1.0h-1.0zM130.4 750.4h1.0v1.0h-1.0zM105.5 764.8h1.0v1.0h-1.0zM128.5 782.8h1.0v1.0h-1.0zM107.8 740.0h1.0v1.0h-1.0zM147.6 749.3h1.0v1.0h-1.0zM100.4 752.2h1.0v1.0h-1.0zM138.1 737.8h1.0v1.0h-1.0zM132.6 751.7h1.0v1.0h-1.0zM99.2 744.8h1.0v1.0h-1.0zM119.1 750.0h1.0v1.0h-1.0zM141.0 760.5h1.0v1.0h-1.0zM137.0 726.1h1.0v1.0h-1.0zM100.7 756.7h1.0v1.0h-1.0zM115.4 756.3h1.0v1.0h-1.0zM106.9 742.6h1.0v1.0h-1.0zM108.9 758.3h1.0v1.0h-1.0zM113.8 755.6h1.0v1.0h-1.0zM146.1 742.6h1.0v1.0h-1.0zM123.9 763.1h1.0v1.0h-1.0zM119.2 736.8h1.0v1.0h-1.0zM117.8 758.0h1.0v1.0h-1.0zM130.8 746.4h1.0v1.0h-1.0zM131.2 737.5h1.0v1.0h-1.0zM110.2 750.5h1.0v1.0h-1.0zM141.2 743.4h1.0v1.0h-1.0zM108.1 761.6h1.0v1.0h-1.0zM118.6 734.9h1.0v1.0h-1.0zM128.0 747.3h1.0v1.0h-1.0zM144.4 741.7h1.0v1.0h-1.0zM117.7 768.1h1.0v1.0h-1.0zM125.9 737.7h1.0v1.0h-1.0zM139.1 758.9h1.0v1.0h-1.0zM130.3 730.1h1.0v1.0h-1.0zM136.8 751.6h1.0v1.0h-1.0zM135.7 746.6h1.0v1.0h-1.0zM125.5 753.8h1.0v1.0h-1.0zM130.4 741.4h1.0v1.0h-1.0zM134.1 727.3h1.0v1.0h-1.0zM121.8 733.7h1.0v1.0h-1.0zM142.9 760.9h1.0v1.0h-1.0zM96.3 757.0h1.0v1.0h-1.0zM110.2 743.0h1.0v1.0h-1.0zM140.9 756.8h1.0v1.0h-1.0zM127.7 741.3h1.0v1.0h-1.0zM113.8 743.7h1.0v1.0h-1.0zM127.1 736.3h1.0v1.0h-1.0zM136.3 760.5h1.0v1.0h-1.0zM114.9 772.6h1.0v1.0h-1.0zM132.1 738.1h1.0v1.0h-1.0zM120.6 753.6h1.0v1.0h-1.0zM120.7 761.0h1.0v1.0h-1.0zM121.3 773.1h1.0v1.0h-1.0zM136.6 721.9h1.0v1.0h-1.0zM107.6 754.2h1.0v1.0h-1.0zM117.4 757.9h1.0v1.0h-1.0zM130.8 732.8h1.0v1.0h-1.0zM106.3 757.2h1.0v1.0h-1.0zM101.6 755.8h1.0v1.0h-1.0zM105.8 759.9h1.0v1.0h-1.0zM97.9 774.7h1.0v1.0h-1.0zM103.9 774.3h1.0v1.0h-1.0zM97.8 791.0h1.0v1.0h-1.0zM105.1 759.2h1.0v1.0h-1.0zM102.4 786.3h1.0v1.0h-1.0zM99.2 772.7h1.0v1.0h-1.0zM92.9 781.4h1.0v1.0h-1.0zM111.3 771.7h1.0v1.0h-1.0zM108.1 775.4h1.0v1.0h-1.0zM106.7 783.1h1.0v1.0h-1.0zM97.4 774.7h1.0v1.0h-1.0zM99.3 782.5h1.0v1.0h-1.0zM111.4 773.4h1.0v1.0h-1.0zM105.9 770.8h1.0v1.0h-1.0zM96.3 772.3h1.0v1.0h-1.0zM101.7 770.0h1.0v1.0h-1.0zM102.3 773.1h1.0v1.0h-1.0zM100.2 785.0h1.0v1.0h-1.0zM95.8 764.7h1.0v1.0h-1.0zM109.0 760.8h1.0v1.0h-1.0zM105.0 773.9h1.0v1.0h-1.0zM100.3 787.6h1.0v1.0h-1.0zM92.0 782.5h1.0v1.0h-1.0zM98.0 784.7h1.0v1.0h-1.0zM101.4 784.1h1.0v1.0h-1.0zM106.7 768.3h1.0v1.0h-1.0zM99.3 775.1h1.0v1.0h-1.0zM108.1 752.9h1.0v1.0h-1.0zM102.3 769.3h1.0v1.0h-1.0zM97.0 779.0h1.0v1.0h-1.0zM84.7 761.7h1.0v1.0h-1.0zM94.5 757.7h1.0v1.0h-1.0zM92.6 763.8h1.0v1.0h-1.0zM100.6 775.9h1.0v1.0h-1.0zM103.5 783.5h1.0v1.0h-1.0zM109.9 794.9h1.0v1.0h-1.0zM101.4 785.7h1.0v1.0h-1.0zM94.6 762.1h1.0v1.0h-1.0zM115.6 755.7h1.0v1.0h-1.0zM103.4 775.5h1.0v1.0h-1.0zM100.0 782.7h1.0v1.0h-1.0zM100.0 761.3h1.0v1.0h-1.0zM93.4 770.1h1.0v1.0h-1.0zM105.4 770.7h1.0v1.0h-1.0zM103.8 774.6h1.0v1.0h-1.0zM111.1 772.9h1.0v1.0h-1.0zM108.2 778.5h1.0v1.0h-1.0zM106.8 782.9h1.0v1.0h-1.0zM109.1 775.0h1.0v1.0h-1.0zM99.9 780.4h1.0v1.0h-1.0zM98.9 790.4h1.0v1.0h-1.0zM101.3 766.3h1.0v1.0h-1.0zM94.1 766.1h1.0v1.0h-1.0zM100.7 778.6h1.0v1.0h-1.0zM99.6 789.3h1.0v1.0h-1.0zM105.6 775.8h1.0v1.0h-1.0zM101.5 783.3h1.0v1.0h-1.0zM90.2 772.1h1.0v1.0h-1.0zM101.8 781.9h1.0v1.0h-1.0zM110.1 769.5h1.0v1.0h-1.0zM90.6 780.0h1.0v1.0h-1.0zM97.1 777.8h1.0v1.0h-1.0zM101.8 777.8h1.0v1.0h-1.0zM93.7 785.6h1.0v1.0h-1.0zM98.4 783.2h1.0v1.0h-1.0zM102.0 769.9h1.0v1.0h-1.0zM93.8 781.8h1.0v1.0h-1.0zM103.4 761.1h1.0v1.0h-1.0zM104.1 782.6h1.0v1.0h-1.0zM94.1 796.7h1.0v1.0h-1.0zM101.9 779.0h1.0v1.0h-1.0zM108.2 778.8h1.0v1.0h-1.0zM100.7 775.3h1.0v1.0h-1.0zM104.3 781.5h1.0v1.0h-1.0zM105.6 771.2h1.0v1.0h-1.0zM100.3 780.2h1.0v1.0h-1.0zM107.6 772.7h1.0v1.0h-1.0zM104.0 771.5h1.0v1.0h-1.0zM95.8 775.9h1.0v1.0h-1.0zM104.9 774.5h1.0v1.0h-1.0zM106.9 761.1h1.0v1.0h-1.0zM106.6 791.6h1.0v1.0h-1.0zM97.9 776.1h1.0v1.0h-1.0zM104.5 761.4h1.0v1.0h-1.0zM110.0 783.6h1.0v1.0h-1.0zM103.2 774.8h1.0v1.0h-1.0zM108.9 776.6h1.0v1.0h-1.0zM109.6 780.7h1.0v1.0h-1.0zM101.6 767.8h1.0v1.0h-1.0zM105.8 751.4h1.0v1.0h-1.0zM100.1 774.2h1.0v1.0h-1.0zM108.2 776.9h1.0v1.0h-1.0zM101.3 783.0h1.0v1.0h-1.0zM98.5 768.9h1.0v1.0h-1.0zM101.7 772.9h1.0v1.0h-1.0zM101.4 778.2h1.0v1.0h-1.0zM104.1 772.5h1.0v1.0h-1.0zM104.6 773.0h1.0v1.0h-1.0zM94.9 777.0h1.0v1.0h-1.0zM97.9 767.0h1.0v1.0h-1.0zM104.0 787.7h1.0v1.0h-1.0zM104.7 767.6h1.0v1.0h-1.0zM102.4 775.3h1.0v1.0h-1.0zM117.7 772.4h1.0v1.0h-1.0zM108.6 769.3h1.0v1.0h-1.0zM101.4 779.3h1.0v1.0h-1.0zM106.3 783.1h1.0v1.0h-1.0zM109.9 786.6h1.0v1.0h-1.0zM104.1 779.6h1.0v1.0h-1.0zM119.8 803.0h1.0v1.0h-1.0zM140.8 791.1h1.0v1.0h-1.0zM103.8 791.7h1.0v1.0h-1.0zM127.7 800.2h1.0v1.0h-1.0zM135.3 800.3h1.0v1.0h-1.0zM135.9 786.8h1.0v1.0h-1.0zM108.5 813.7h1.0v1.0h-1.0zM102.9 784.4h1.0v1.0h-1.0zM153.4 782.9h1.0v1.0h-1.0zM118.6 801.4h1.0v1.0h-1.0zM100.4 799.0h1.0v1.0h-1.0zM106.9 798.3h1.0v1.0h-1.0zM126.9 792.0h1.0v1.0h-1.0zM145.6 797.9h1.0v1.0h-1.0zM126.6 790.0h1.0v1.0h-1.0zM145.9 775.9h1.0v1.0h-1.0zM130.2 806.9h1.0v1.0h-1.0zM134.1 784.1h1.0v1.0h-1.0zM142.3 794.3h1.0v1.0h-1.0zM120.5 806.8h1.0v1.0h-1.0zM131.3 797.6h1.0v1.0h-1.0zM116.3 779.1h1.0v1.0h-1.0zM137.0 787.5h1.0v1.0h-1.0zM113.3 798.4h1.0v1.0h-1.0zM127.7 814.9h1.0v1.0h-1.0zM113.7 794.0h1.0v1.0h-1.0zM124.9 778.6h1.0v1.0h-1.0zM117.9 812.1h1.0v1.0h-1.0zM143.8 785.2h1.0v1.0h-1.0zM127.6 794.6h1.0v1.0h-1.0zM127.5 808.6h1.0v1.0h-1.0zM152.6 788.5h1.0v1.0h-1.0zM79.8 791.3h1.0v1.0h-1.0zM108.2 803.5h1.0v1.0h-1.0zM82.2 794.5h1.0v1.0h-1.0zM125.9 800.9h1.0v1.0h-1.0zM133.0 784.8h1.0v1.0h-1.0zM136.2 795.6h1.0v1.0h-1.0zM130.2 782.9h1.0v1.0h-1.0zM111.9 776.9h1.0v1.0h-1.0zM153.8 819.9h1.0v1.0h-1.0zM130.6 803.0h1.0v1.0h-1.0zM121.6 809.0h1.0v1.0h-1.0zM107.8 784.5h1.0v1.0h-1.0z" fill="#0000f0" fill-opacity="0.62"/>
<path d="M100.9 803.5h1.0v1.0h-1.0zM100.3 802.4h1.0v1.0h-1.0zM96.0 803.0h1.0v1.0h-1.0zM102.9 795.3h1.0v1.0h-1.0zM98.5 792.7h1.0v1.0h-1.0zM100.3 800.8h1.0v1.0h-1.0zM95.7 797.1h1.0v1.0h-1.0zM104.5 810.5h1.0v1.0h-1.0zM103.7 807.5h1.0v1.0h-1.0zM102.4 800.3h1.0v1.0h-1.0zM97.8 796.9h1.0v1.0h-1.0zM99.1 794.8h1.0v1.0h-1.0zM105.3 799.1h1.0v1.0h-1.0zM100.0 794.4h1.0v1.0h-1.0zM101.9 804.6h1.0v1.0h-1.0z" fill="#e06000" fill-opacity="0.7"/>
<path d="M101.5 795.5h1.0v1.0h-1.0zM97.1 792.7h1.0v1.0h-1.0zM106.3 803.4h1.0v1.0h-1.0zM94.1 789.3h1.0v1.0h-1.0zM101.8 797.3h1.0v1.0h-1.0zM100.7 783.9h1.0v1.0h-1.0zM95.4 796.0h1.0v1.0h-1.0zM102.2 797.1h1.0v1.0h-1.0zM102.8 800.9h1.0v1.0h-1.0zM101.2 800.7h1.0v1.0h-1.0zM98.1 784.0h1.0v1.0h-1.0zM102.6 814.9h1.0v1.0h-1.0zM104.9 802.4h1.0v1.0h-1.0zM101.8 800.1h1.0v1.0h-1.0zM107.0 791.8h1.0v1.0h-1.0z" fill="#d0d040" fill-opacity="0.7"/>
<path d="M102.2 803.1h1.0v1.0h-1.0zM101.9 799.4h1.0v1.0h-1.0zM100.5 797.9h1.0v1.0h-1.0zM101.6 806.6h1.0v1.0h-1.0zM103.4 799.1h1.0v1.0h-1.0zM100.6 797.9h1.0v1.0h-1.0zM99.6 799.4h1.0v1.0h-1.0z" fill="#c03000" fill-opacity="0.45"/>
<ellipse cx="118.8" cy="752.2" rx="33.4" ry="28" transform="rotate(-35 118.8 752.2)" fill="none" stroke="#1a1a1a" stroke-width="1"/>
<line x1="184.3" y1="713.5" x2="187.5" y2="713.5" stroke="#444" stroke-width="1.0"/>
<rect x="182.3" y="712.2" width="1.6" height="2.4" fill="#999"/>
<line x1="184.3" y1="741.5" x2="187.5" y2="741.5" stroke="#444" stroke-width="1.0"/>
<rect x="182.3" y="740.2" width="1.6" height="2.4" fill="#999"/>
<line x1="184.3" y1="774.5" x2="187.5" y2="774.5" stroke="#444" stroke-width="1.0"/>
<rect x="182.3" y="773.6" width="1.6" height="2.4" fill="#999"/>
<line x1="184.3" y1="814.5" x2="187.5" y2="814.5" stroke="#444" stroke-width="1.0"/>
<rect x="182.3" y="813.0" width="1.6" height="2.4" fill="#999"/>
<line x1="185.7" y1="732.5" x2="187.5" y2="732.5" stroke="#777" stroke-width="0.7"/>
<line x1="185.7" y1="728.5" x2="187.5" y2="728.5" stroke="#777" stroke-width="0.7"/>
<line x1="185.7" y1="724.5" x2="187.5" y2="724.5" stroke="#777" stroke-width="0.7"/>
<line x1="185.7" y1="721.5" x2="187.5" y2="721.5" stroke="#777" stroke-width="0.7"/>
<line x1="185.7" y1="719.5" x2="187.5" y2="719.5" stroke="#777" stroke-width="0.7"/>
<line x1="185.7" y1="717.5" x2="187.5" y2="717.5" stroke="#777" stroke-width="0.7"/>
<line x1="185.7" y1="716.5" x2="187.5" y2="716.5" stroke="#777" stroke-width="0.7"/>
<line x1="185.7" y1="714.5" x2="187.5" y2="714.5" stroke="#777" stroke-width="0.7"/>
<line x1="185.7" y1="764.5" x2="187.5" y2="764.5" stroke="#777" stroke-width="0.7"/>
<line x1="185.7" y1="758.5" x2="187.5" y2="758.5" stroke="#777" stroke-width="0.7"/>
<line x1="185.7" y1="754.5" x2="187.5" y2="754.5" stroke="#777" stroke-width="0.7"/>
<line x1="185.7" y1="751.5" x2="187.5" y2="751.5" stroke="#777" stroke-width="0.7"/>
<line x1="185.7" y1="748.5" x2="187.5" y2="748.5" stroke="#777" stroke-width="0.7"/>
<line x1="185.7" y1="746.5" x2="187.5" y2="746.5" stroke="#777" stroke-width="0.7"/>
<line x1="185.7" y1="744.5" x2="187.5" y2="744.5" stroke="#777" stroke-width="0.7"/>
<line x1="185.7" y1="742.5" x2="187.5" y2="742.5" stroke="#777" stroke-width="0.7"/>
<line x1="185.7" y1="802.5" x2="187.5" y2="802.5" stroke="#777" stroke-width="0.7"/>
<line x1="185.7" y1="795.5" x2="187.5" y2="795.5" stroke="#777" stroke-width="0.7"/>
<line x1="185.7" y1="790.5" x2="187.5" y2="790.5" stroke="#777" stroke-width="0.7"/>
<line x1="185.7" y1="786.5" x2="187.5" y2="786.5" stroke="#777" stroke-width="0.7"/>
<line x1="185.7" y1="783.5" x2="187.5" y2="783.5" stroke="#777" stroke-width="0.7"/>
<line x1="185.7" y1="780.5" x2="187.5" y2="780.5" stroke="#777" stroke-width="0.7"/>
<line x1="185.7" y1="778.5" x2="187.5" y2="778.5" stroke="#777" stroke-width="0.7"/>
<line x1="185.7" y1="776.5" x2="187.5" y2="776.5" stroke="#777" stroke-width="0.7"/>
<rect x="183.1" y="792.7" width="3.8" height="4.2" fill="#222"/>
<line x1="194.5" y1="822.3" x2="194.5" y2="825.5" stroke="#333" stroke-width="1.0"/>
<line x1="235.5" y1="822.3" x2="235.5" y2="825.5" stroke="#333" stroke-width="1.0"/>
<line x1="270.5" y1="822.3" x2="270.5" y2="825.5" stroke="#333" stroke-width="1.0"/>
<line x1="300.5" y1="822.3" x2="300.5" y2="825.5" stroke="#333" stroke-width="1.0"/>
<line x1="206.5" y1="822.3" x2="206.5" y2="824.0999999999999" stroke="#777" stroke-width="0.7"/>
<line x1="213.5" y1="822.3" x2="213.5" y2="824.0999999999999" stroke="#777" stroke-width="0.7"/>
<line x1="219.5" y1="822.3" x2="219.5" y2="824.0999999999999" stroke="#777" stroke-width="0.7"/>
<line x1="223.5" y1="822.3" x2="223.5" y2="824.0999999999999" stroke="#777" stroke-width="0.7"/>
<line x1="226.5" y1="822.3" x2="226.5" y2="824.0999999999999" stroke="#777" stroke-width="0.7"/>
<line x1="229.5" y1="822.3" x2="229.5" y2="824.0999999999999" stroke="#777" stroke-width="0.7"/>
<line x1="231.5" y1="822.3" x2="231.5" y2="824.0999999999999" stroke="#777" stroke-width="0.7"/>
<line x1="233.5" y1="822.3" x2="233.5" y2="824.0999999999999" stroke="#777" stroke-width="0.7"/>
<line x1="246.5" y1="822.3" x2="246.5" y2="824.0999999999999" stroke="#777" stroke-width="0.7"/>
<line x1="252.5" y1="822.3" x2="252.5" y2="824.0999999999999" stroke="#777" stroke-width="0.7"/>
<line x1="256.5" y1="822.3" x2="256.5" y2="824.0999999999999" stroke="#777" stroke-width="0.7"/>
<line x1="260.5" y1="822.3" x2="260.5" y2="824.0999999999999" stroke="#777" stroke-width="0.7"/>
<line x1="262.5" y1="822.3" x2="262.5" y2="824.0999999999999" stroke="#777" stroke-width="0.7"/>
<line x1="265.5" y1="822.3" x2="265.5" y2="824.0999999999999" stroke="#777" stroke-width="0.7"/>
<line x1="267.5" y1="822.3" x2="267.5" y2="824.0999999999999" stroke="#777" stroke-width="0.7"/>
<line x1="269.5" y1="822.3" x2="269.5" y2="824.0999999999999" stroke="#777" stroke-width="0.7"/>
<line x1="279.5" y1="822.3" x2="279.5" y2="824.0999999999999" stroke="#777" stroke-width="0.7"/>
<line x1="284.5" y1="822.3" x2="284.5" y2="824.0999999999999" stroke="#777" stroke-width="0.7"/>
<line x1="288.5" y1="822.3" x2="288.5" y2="824.0999999999999" stroke="#777" stroke-width="0.7"/>
<line x1="291.5" y1="822.3" x2="291.5" y2="824.0999999999999" stroke="#777" stroke-width="0.7"/>
<line x1="293.5" y1="822.3" x2="293.5" y2="824.0999999999999" stroke="#777" stroke-width="0.7"/>
<line x1="295.5" y1="822.3" x2="295.5" y2="824.0999999999999" stroke="#777" stroke-width="0.7"/>
<line x1="297.5" y1="822.3" x2="297.5" y2="824.0999999999999" stroke="#777" stroke-width="0.7"/>
<line x1="299.5" y1="822.3" x2="299.5" y2="824.0999999999999" stroke="#777" stroke-width="0.7"/>
<rect x="213.2" y="822.9" width="4.8" height="2.4" fill="#222"/>
<rect x="187.5" y="701.5" width="125" height="121" fill="none" stroke="#7a7a7a" stroke-width="1"/>
<text x="305.79999999999995" y="711.1" font-size="5.3" text-anchor="end" fill="#333" style="stroke-width:0.05px">M2-like macrophages</text>
<path d="M224.6 812.9h1.0v1.0h-1.0zM228.0 796.3h1.0v1.0h-1.0zM227.6 799.9h1.0v1.0h-1.0zM223.2 806.5h1.0v1.0h-1.0zM225.4 805.8h1.0v1.0h-1.0zM228.5 802.1h1.0v1.0h-1.0zM228.9 805.5h1.0v1.0h-1.0zM230.0 809.9h1.0v1.0h-1.0zM231.1 804.2h1.0v1.0h-1.0zM228.1 807.0h1.0v1.0h-1.0zM229.6 795.9h1.0v1.0h-1.0zM224.6 799.6h1.0v1.0h-1.0zM225.3 786.6h1.0v1.0h-1.0zM232.4 798.3h1.0v1.0h-1.0zM215.8 782.8h1.0v1.0h-1.0zM228.7 812.2h1.0v1.0h-1.0zM244.0 811.2h1.0v1.0h-1.0zM216.5 794.7h1.0v1.0h-1.0zM234.9 800.1h1.0v1.0h-1.0zM216.9 791.1h1.0v1.0h-1.0zM228.6 800.0h1.0v1.0h-1.0zM235.5 801.1h1.0v1.0h-1.0zM234.7 813.9h1.0v1.0h-1.0zM221.5 783.2h1.0v1.0h-1.0zM219.3 799.5h1.0v1.0h-1.0zM218.5 814.9h1.0v1.0h-1.0zM230.3 797.1h1.0v1.0h-1.0zM224.2 798.8h1.0v1.0h-1.0zM226.4 788.0h1.0v1.0h-1.0zM227.8 801.2h1.0v1.0h-1.0zM228.6 788.3h1.0v1.0h-1.0zM229.3 807.6h1.0v1.0h-1.0zM227.0 796.8h1.0v1.0h-1.0zM217.5 778.3h1.0v1.0h-1.0zM234.3 796.4h1.0v1.0h-1.0zM211.2 775.1h1.0v1.0h-1.0zM233.1 803.3h1.0v1.0h-1.0zM222.9 804.0h1.0v1.0h-1.0zM225.2 795.9h1.0v1.0h-1.0zM223.4 788.2h1.0v1.0h-1.0zM224.2 791.6h1.0v1.0h-1.0zM226.1 800.7h1.0v1.0h-1.0zM224.7 779.3h1.0v1.0h-1.0zM220.2 799.5h1.0v1.0h-1.0zM230.9 806.8h1.0v1.0h-1.0zM223.0 777.6h1.0v1.0h-1.0zM233.6 815.1h1.0v1.0h-1.0zM225.4 786.0h1.0v1.0h-1.0zM222.3 794.8h1.0v1.0h-1.0zM228.6 811.0h1.0v1.0h-1.0zM231.1 790.6h1.0v1.0h-1.0zM221.1 780.7h1.0v1.0h-1.0zM224.6 789.4h1.0v1.0h-1.0zM234.1 797.4h1.0v1.0h-1.0zM220.7 793.9h1.0v1.0h-1.0zM221.5 791.5h1.0v1.0h-1.0zM227.1 796.3h1.0v1.0h-1.0zM219.5 790.2h1.0v1.0h-1.0zM212.6 786.9h1.0v1.0h-1.0zM217.0 785.2h1.0v1.0h-1.0zM228.3 803.8h1.0v1.0h-1.0zM229.8 802.4h1.0v1.0h-1.0zM229.5 794.0h1.0v1.0h-1.0zM228.4 815.7h1.0v1.0h-1.0zM219.4 783.8h1.0v1.0h-1.0zM229.9 808.4h1.0v1.0h-1.0zM232.5 798.7h1.0v1.0h-1.0zM222.4 799.2h1.0v1.0h-1.0zM231.4 807.9h1.0v1.0h-1.0zM224.2 804.7h1.0v1.0h-1.0zM227.3 811.7h1.0v1.0h-1.0zM228.2 794.5h1.0v1.0h-1.0zM218.0 815.6h1.0v1.0h-1.0zM234.3 809.4h1.0v1.0h-1.0zM221.5 789.3h1.0v1.0h-1.0zM225.7 788.4h1.0v1.0h-1.0zM223.5 816.1h1.0v1.0h-1.0zM228.7 814.8h1.0v1.0h-1.0zM228.6 801.5h1.0v1.0h-1.0zM226.3 805.9h1.0v1.0h-1.0zM234.0 816.6h1.0v1.0h-1.0zM227.8 801.8h1.0v1.0h-1.0zM224.0 794.6h1.0v1.0h-1.0zM210.4 786.5h1.0v1.0h-1.0zM224.7 805.2h1.0v1.0h-1.0zM224.6 798.6h1.0v1.0h-1.0zM221.4 786.1h1.0v1.0h-1.0zM221.5 801.9h1.0v1.0h-1.0zM229.5 788.7h1.0v1.0h-1.0zM232.0 798.5h1.0v1.0h-1.0zM236.6 818.2h1.0v1.0h-1.0zM232.5 806.8h1.0v1.0h-1.0zM222.3 798.5h1.0v1.0h-1.0zM227.6 801.8h1.0v1.0h-1.0zM218.7 801.9h1.0v1.0h-1.0zM230.2 802.7h1.0v1.0h-1.0zM228.2 785.9h1.0v1.0h-1.0zM222.9 799.0h1.0v1.0h-1.0zM225.6 774.9h1.0v1.0h-1.0zM224.8 782.3h1.0v1.0h-1.0zM222.7 809.5h1.0v1.0h-1.0zM233.5 814.0h1.0v1.0h-1.0zM243.3 810.0h1.0v1.0h-1.0zM230.8 802.9h1.0v1.0h-1.0zM232.0 805.2h1.0v1.0h-1.0zM227.1 808.5h1.0v1.0h-1.0zM224.3 792.0h1.0v1.0h-1.0zM238.3 802.6h1.0v1.0h-1.0zM224.2 793.1h1.0v1.0h-1.0zM228.4 802.6h1.0v1.0h-1.0zM225.6 801.3h1.0v1.0h-1.0zM229.5 799.3h1.0v1.0h-1.0zM226.0 805.6h1.0v1.0h-1.0zM229.5 794.3h1.0v1.0h-1.0zM219.3 793.4h1.0v1.0h-1.0zM225.7 793.8h1.0v1.0h-1.0zM233.8 797.9h1.0v1.0h-1.0zM220.6 804.9h1.0v1.0h-1.0zM222.6 794.2h1.0v1.0h-1.0zM233.8 797.9h1.0v1.0h-1.0zM228.5 801.9h1.0v1.0h-1.0zM232.1 796.6h1.0v1.0h-1.0zM213.9 794.4h1.0v1.0h-1.0zM227.0 807.2h1.0v1.0h-1.0zM219.2 802.2h1.0v1.0h-1.0zM218.6 785.0h1.0v1.0h-1.0zM228.5 800.4h1.0v1.0h-1.0zM232.7 819.8h1.0v1.0h-1.0zM218.0 791.3h1.0v1.0h-1.0zM220.1 804.8h1.0v1.0h-1.0zM223.0 809.3h1.0v1.0h-1.0zM225.5 788.2h1.0v1.0h-1.0zM218.9 803.4h1.0v1.0h-1.0zM238.7 815.9h1.0v1.0h-1.0zM229.4 809.4h1.0v1.0h-1.0zM224.2 811.6h1.0v1.0h-1.0zM223.3 801.1h1.0v1.0h-1.0zM239.0 810.9h1.0v1.0h-1.0zM238.5 814.7h1.0v1.0h-1.0zM223.5 794.8h1.0v1.0h-1.0zM228.1 805.3h1.0v1.0h-1.0zM233.1 789.4h1.0v1.0h-1.0zM219.7 808.2h1.0v1.0h-1.0zM222.9 792.9h1.0v1.0h-1.0zM233.6 810.1h1.0v1.0h-1.0zM222.3 799.1h1.0v1.0h-1.0zM223.8 798.6h1.0v1.0h-1.0zM218.7 794.5h1.0v1.0h-1.0zM222.0 796.8h1.0v1.0h-1.0zM229.9 789.7h1.0v1.0h-1.0zM221.6 791.6h1.0v1.0h-1.0zM218.9 803.3h1.0v1.0h-1.0zM222.7 788.7h1.0v1.0h-1.0zM235.9 799.3h1.0v1.0h-1.0zM227.1 817.3h1.0v1.0h-1.0zM223.0 806.7h1.0v1.0h-1.0zM227.0 812.8h1.0v1.0h-1.0zM228.6 801.6h1.0v1.0h-1.0zM226.8 802.3h1.0v1.0h-1.0zM216.1 797.5h1.0v1.0h-1.0zM227.7 805.5h1.0v1.0h-1.0zM224.9 798.0h1.0v1.0h-1.0zM230.7 791.8h1.0v1.0h-1.0zM218.6 787.6h1.0v1.0h-1.0zM231.9 792.3h1.0v1.0h-1.0zM223.3 809.9h1.0v1.0h-1.0zM216.6 788.6h1.0v1.0h-1.0zM233.4 804.1h1.0v1.0h-1.0zM223.2 799.4h1.0v1.0h-1.0zM228.1 801.3h1.0v1.0h-1.0zM225.1 802.9h1.0v1.0h-1.0zM232.1 799.5h1.0v1.0h-1.0zM232.1 792.3h1.0v1.0h-1.0zM232.2 818.4h1.0v1.0h-1.0zM230.0 797.0h1.0v1.0h-1.0zM217.1 788.3h1.0v1.0h-1.0zM216.7 785.5h1.0v1.0h-1.0zM227.1 795.9h1.0v1.0h-1.0zM220.7 795.2h1.0v1.0h-1.0zM228.6 807.4h1.0v1.0h-1.0zM226.9 791.7h1.0v1.0h-1.0zM218.2 795.2h1.0v1.0h-1.0zM220.3 789.3h1.0v1.0h-1.0zM219.7 803.7h1.0v1.0h-1.0zM221.1 785.5h1.0v1.0h-1.0zM224.8 799.2h1.0v1.0h-1.0zM229.8 808.0h1.0v1.0h-1.0zM233.4 794.6h1.0v1.0h-1.0zM220.6 795.7h1.0v1.0h-1.0zM222.9 797.9h1.0v1.0h-1.0zM234.6 800.0h1.0v1.0h-1.0zM231.0 801.6h1.0v1.0h-1.0zM227.3 808.1h1.0v1.0h-1.0zM213.0 790.5h1.0v1.0h-1.0zM220.4 791.4h1.0v1.0h-1.0zM226.9 798.3h1.0v1.0h-1.0zM222.7 800.1h1.0v1.0h-1.0zM237.0 818.3h1.0v1.0h-1.0zM226.5 805.9h1.0v1.0h-1.0zM227.6 806.2h1.0v1.0h-1.0zM219.9 806.5h1.0v1.0h-1.0zM220.2 782.2h1.0v1.0h-1.0zM222.3 784.8h1.0v1.0h-1.0zM222.5 778.4h1.0v1.0h-1.0zM224.7 804.7h1.0v1.0h-1.0zM228.1 782.8h1.0v1.0h-1.0zM227.3 799.9h1.0v1.0h-1.0zM231.5 809.6h1.0v1.0h-1.0zM218.5 782.0h1.0v1.0h-1.0zM227.1 794.9h1.0v1.0h-1.0zM227.3 798.1h1.0v1.0h-1.0zM234.8 812.0h1.0v1.0h-1.0zM224.8 786.2h1.0v1.0h-1.0zM227.8 803.1h1.0v1.0h-1.0zM221.4 800.8h1.0v1.0h-1.0zM228.3 802.1h1.0v1.0h-1.0zM228.2 802.1h1.0v1.0h-1.0zM222.5 806.0h1.0v1.0h-1.0zM223.5 798.8h1.0v1.0h-1.0zM225.8 798.7h1.0v1.0h-1.0zM229.2 799.1h1.0v1.0h-1.0zM219.6 798.9h1.0v1.0h-1.0zM230.9 800.8h1.0v1.0h-1.0zM224.1 802.7h1.0v1.0h-1.0zM236.5 808.5h1.0v1.0h-1.0zM234.1 814.5h1.0v1.0h-1.0zM223.7 791.0h1.0v1.0h-1.0zM222.5 796.8h1.0v1.0h-1.0zM239.6 812.9h1.0v1.0h-1.0zM229.5 805.1h1.0v1.0h-1.0zM229.1 810.5h1.0v1.0h-1.0zM223.6 800.2h1.0v1.0h-1.0zM225.3 805.5h1.0v1.0h-1.0zM230.5 818.0h1.0v1.0h-1.0zM229.4 808.4h1.0v1.0h-1.0zM221.4 787.0h1.0v1.0h-1.0zM232.9 793.5h1.0v1.0h-1.0zM227.7 805.7h1.0v1.0h-1.0zM220.7 791.7h1.0v1.0h-1.0zM231.5 805.8h1.0v1.0h-1.0zM225.0 796.9h1.0v1.0h-1.0zM230.3 812.8h1.0v1.0h-1.0zM222.9 805.9h1.0v1.0h-1.0zM228.0 791.9h1.0v1.0h-1.0zM217.0 793.8h1.0v1.0h-1.0zM228.1 798.4h1.0v1.0h-1.0zM217.5 781.9h1.0v1.0h-1.0zM226.9 804.8h1.0v1.0h-1.0zM211.9 786.4h1.0v1.0h-1.0zM225.6 802.2h1.0v1.0h-1.0zM228.7 811.6h1.0v1.0h-1.0zM232.6 813.1h1.0v1.0h-1.0zM220.0 790.9h1.0v1.0h-1.0zM234.7 796.9h1.0v1.0h-1.0zM234.9 816.1h1.0v1.0h-1.0zM219.3 791.2h1.0v1.0h-1.0zM221.6 795.7h1.0v1.0h-1.0zM222.8 793.5h1.0v1.0h-1.0zM225.9 799.7h1.0v1.0h-1.0zM227.0 818.6h1.0v1.0h-1.0zM212.3 785.3h1.0v1.0h-1.0zM229.3 799.5h1.0v1.0h-1.0zM224.6 799.4h1.0v1.0h-1.0zM220.3 796.6h1.0v1.0h-1.0zM231.3 793.9h1.0v1.0h-1.0zM224.1 783.6h1.0v1.0h-1.0zM232.3 799.6h1.0v1.0h-1.0zM228.9 799.7h1.0v1.0h-1.0zM224.2 791.4h1.0v1.0h-1.0zM232.5 796.4h1.0v1.0h-1.0zM230.5 795.2h1.0v1.0h-1.0zM223.2 793.5h1.0v1.0h-1.0zM217.0 790.6h1.0v1.0h-1.0zM222.9 783.7h1.0v1.0h-1.0zM229.4 797.4h1.0v1.0h-1.0zM224.7 800.5h1.0v1.0h-1.0zM235.8 805.9h1.0v1.0h-1.0zM227.4 789.4h1.0v1.0h-1.0zM227.1 796.9h1.0v1.0h-1.0zM228.2 800.5h1.0v1.0h-1.0zM221.1 800.8h1.0v1.0h-1.0zM225.3 785.6h1.0v1.0h-1.0zM222.3 801.1h1.0v1.0h-1.0zM212.9 784.5h1.0v1.0h-1.0zM216.1 792.3h1.0v1.0h-1.0zM230.1 807.4h1.0v1.0h-1.0zM223.5 790.0h1.0v1.0h-1.0zM225.3 791.9h1.0v1.0h-1.0zM217.8 791.2h1.0v1.0h-1.0zM222.7 801.7h1.0v1.0h-1.0zM230.3 798.0h1.0v1.0h-1.0zM226.5 788.2h1.0v1.0h-1.0zM223.1 790.9h1.0v1.0h-1.0zM234.5 808.6h1.0v1.0h-1.0zM225.6 807.5h1.0v1.0h-1.0zM224.0 793.2h1.0v1.0h-1.0zM232.3 801.4h1.0v1.0h-1.0zM216.3 789.4h1.0v1.0h-1.0zM229.0 800.1h1.0v1.0h-1.0zM219.8 786.2h1.0v1.0h-1.0zM221.6 791.6h1.0v1.0h-1.0zM222.2 797.2h1.0v1.0h-1.0zM226.7 800.0h1.0v1.0h-1.0zM226.6 799.3h1.0v1.0h-1.0zM227.7 792.2h1.0v1.0h-1.0zM227.1 795.3h1.0v1.0h-1.0zM233.7 799.5h1.0v1.0h-1.0zM235.3 814.5h1.0v1.0h-1.0zM229.9 813.1h1.0v1.0h-1.0zM230.2 804.7h1.0v1.0h-1.0zM223.9 809.3h1.0v1.0h-1.0zM219.9 791.4h1.0v1.0h-1.0zM229.2 799.1h1.0v1.0h-1.0zM226.2 788.7h1.0v1.0h-1.0zM230.7 804.3h1.0v1.0h-1.0zM215.9 786.9h1.0v1.0h-1.0zM240.8 811.5h1.0v1.0h-1.0zM218.9 796.7h1.0v1.0h-1.0zM226.2 797.0h1.0v1.0h-1.0zM231.5 794.5h1.0v1.0h-1.0zM218.3 792.1h1.0v1.0h-1.0zM222.9 795.6h1.0v1.0h-1.0zM214.8 789.8h1.0v1.0h-1.0zM218.1 797.4h1.0v1.0h-1.0zM215.2 788.3h1.0v1.0h-1.0zM226.6 797.1h1.0v1.0h-1.0zM227.6 813.5h1.0v1.0h-1.0zM224.2 805.6h1.0v1.0h-1.0zM233.0 803.8h1.0v1.0h-1.0zM233.7 797.8h1.0v1.0h-1.0zM225.9 795.3h1.0v1.0h-1.0zM224.8 800.7h1.0v1.0h-1.0zM224.5 804.0h1.0v1.0h-1.0zM223.5 815.3h1.0v1.0h-1.0zM233.2 802.8h1.0v1.0h-1.0zM227.3 801.1h1.0v1.0h-1.0zM224.2 794.6h1.0v1.0h-1.0zM224.7 798.4h1.0v1.0h-1.0zM229.0 798.4h1.0v1.0h-1.0zM223.8 788.8h1.0v1.0h-1.0zM227.7 808.2h1.0v1.0h-1.0zM225.8 799.7h1.0v1.0h-1.0zM233.5 815.0h1.0v1.0h-1.0zM232.4 800.3h1.0v1.0h-1.0zM218.2 794.5h1.0v1.0h-1.0zM225.1 803.3h1.0v1.0h-1.0zM229.9 787.7h1.0v1.0h-1.0zM223.5 786.8h1.0v1.0h-1.0zM230.5 808.4h1.0v1.0h-1.0zM227.9 801.3h1.0v1.0h-1.0zM229.3 787.5h1.0v1.0h-1.0zM225.7 793.0h1.0v1.0h-1.0zM227.7 792.3h1.0v1.0h-1.0zM228.9 797.7h1.0v1.0h-1.0zM217.9 804.3h1.0v1.0h-1.0zM220.9 790.5h1.0v1.0h-1.0zM220.4 810.1h1.0v1.0h-1.0zM235.3 804.8h1.0v1.0h-1.0zM227.7 794.8h1.0v1.0h-1.0zM228.1 812.8h1.0v1.0h-1.0zM227.0 807.2h1.0v1.0h-1.0zM223.1 807.4h1.0v1.0h-1.0zM221.9 810.7h1.0v1.0h-1.0zM230.7 811.2h1.0v1.0h-1.0zM224.0 806.9h1.0v1.0h-1.0zM234.8 793.1h1.0v1.0h-1.0zM227.1 793.7h1.0v1.0h-1.0zM226.5 803.0h1.0v1.0h-1.0zM224.8 799.8h1.0v1.0h-1.0zM225.6 804.5h1.0v1.0h-1.0zM226.2 795.7h1.0v1.0h-1.0zM234.4 814.7h1.0v1.0h-1.0zM219.6 798.6h1.0v1.0h-1.0zM227.4 806.9h1.0v1.0h-1.0zM229.9 806.5h1.0v1.0h-1.0zM221.0 802.4h1.0v1.0h-1.0zM222.5 798.2h1.0v1.0h-1.0zM223.5 793.4h1.0v1.0h-1.0zM212.7 790.0h1.0v1.0h-1.0zM229.6 803.2h1.0v1.0h-1.0zM225.8 787.4h1.0v1.0h-1.0zM225.5 800.8h1.0v1.0h-1.0zM226.5 800.0h1.0v1.0h-1.0zM227.4 802.1h1.0v1.0h-1.0zM238.8 805.6h1.0v1.0h-1.0zM227.0 803.9h1.0v1.0h-1.0zM230.7 808.0h1.0v1.0h-1.0zM223.2 791.6h1.0v1.0h-1.0zM228.0 803.5h1.0v1.0h-1.0zM224.3 804.0h1.0v1.0h-1.0zM225.2 804.5h1.0v1.0h-1.0zM221.1 788.2h1.0v1.0h-1.0zM221.5 787.8h1.0v1.0h-1.0zM228.6 801.6h1.0v1.0h-1.0zM230.2 794.6h1.0v1.0h-1.0zM222.4 790.0h1.0v1.0h-1.0zM227.8 794.6h1.0v1.0h-1.0zM212.1 792.8h1.0v1.0h-1.0zM231.3 799.8h1.0v1.0h-1.0zM225.9 780.9h1.0v1.0h-1.0zM227.6 799.2h1.0v1.0h-1.0zM232.5 796.8h1.0v1.0h-1.0zM223.8 793.1h1.0v1.0h-1.0zM231.4 790.9h1.0v1.0h-1.0zM223.7 790.1h1.0v1.0h-1.0zM229.1 800.2h1.0v1.0h-1.0zM223.9 796.5h1.0v1.0h-1.0zM227.8 791.7h1.0v1.0h-1.0zM234.1 799.9h1.0v1.0h-1.0zM222.5 789.4h1.0v1.0h-1.0zM222.7 797.1h1.0v1.0h-1.0zM224.3 796.2h1.0v1.0h-1.0zM227.8 790.5h1.0v1.0h-1.0zM241.3 816.1h1.0v1.0h-1.0zM222.9 790.8h1.0v1.0h-1.0zM214.9 792.5h1.0v1.0h-1.0zM222.5 788.7h1.0v1.0h-1.0zM217.4 793.9h1.0v1.0h-1.0zM223.1 795.3h1.0v1.0h-1.0zM226.2 799.2h1.0v1.0h-1.0zM220.9 798.2h1.0v1.0h-1.0zM222.4 799.0h1.0v1.0h-1.0zM215.8 791.5h1.0v1.0h-1.0zM227.2 800.8h1.0v1.0h-1.0zM222.0 785.5h1.0v1.0h-1.0zM232.2 803.0h1.0v1.0h-1.0zM232.0 786.6h1.0v1.0h-1.0zM221.4 777.5h1.0v1.0h-1.0zM224.1 794.6h1.0v1.0h-1.0zM226.5 797.2h1.0v1.0h-1.0zM230.4 813.6h1.0v1.0h-1.0zM217.0 796.3h1.0v1.0h-1.0zM225.8 806.9h1.0v1.0h-1.0zM236.5 804.7h1.0v1.0h-1.0zM225.7 801.7h1.0v1.0h-1.0zM227.4 808.7h1.0v1.0h-1.0zM226.2 802.8h1.0v1.0h-1.0zM219.6 796.1h1.0v1.0h-1.0zM231.4 803.9h1.0v1.0h-1.0zM227.7 793.0h1.0v1.0h-1.0zM227.1 792.7h1.0v1.0h-1.0zM230.2 791.1h1.0v1.0h-1.0zM230.6 805.6h1.0v1.0h-1.0zM215.8 788.3h1.0v1.0h-1.0zM228.9 795.9h1.0v1.0h-1.0zM223.0 799.0h1.0v1.0h-1.0zM227.1 795.2h1.0v1.0h-1.0zM222.3 803.8h1.0v1.0h-1.0zM221.5 809.7h1.0v1.0h-1.0zM231.5 806.7h1.0v1.0h-1.0zM226.2 793.6h1.0v1.0h-1.0zM224.7 786.2h1.0v1.0h-1.0zM224.7 813.2h1.0v1.0h-1.0zM226.7 802.9h1.0v1.0h-1.0zM226.2 789.9h1.0v1.0h-1.0zM213.2 796.6h1.0v1.0h-1.0zM221.5 782.3h1.0v1.0h-1.0zM225.0 794.6h1.0v1.0h-1.0zM230.4 800.6h1.0v1.0h-1.0zM233.8 802.4h1.0v1.0h-1.0zM221.2 786.1h1.0v1.0h-1.0zM226.9 796.5h1.0v1.0h-1.0zM229.0 804.3h1.0v1.0h-1.0zM223.4 797.0h1.0v1.0h-1.0zM223.0 784.1h1.0v1.0h-1.0zM234.3 801.4h1.0v1.0h-1.0zM225.2 799.8h1.0v1.0h-1.0zM225.8 805.9h1.0v1.0h-1.0zM232.8 801.7h1.0v1.0h-1.0zM235.9 809.8h1.0v1.0h-1.0zM218.2 789.8h1.0v1.0h-1.0zM225.4 802.9h1.0v1.0h-1.0zM226.4 780.1h1.0v1.0h-1.0zM236.4 812.0h1.0v1.0h-1.0zM240.0 805.6h1.0v1.0h-1.0zM226.2 794.5h1.0v1.0h-1.0zM228.5 779.0h1.0v1.0h-1.0zM231.2 795.0h1.0v1.0h-1.0zM232.8 809.2h1.0v1.0h-1.0zM224.7 815.7h1.0v1.0h-1.0zM231.2 797.7h1.0v1.0h-1.0zM222.7 791.1h1.0v1.0h-1.0zM211.8 791.1h1.0v1.0h-1.0zM218.9 795.3h1.0v1.0h-1.0zM227.7 795.8h1.0v1.0h-1.0zM230.9 801.6h1.0v1.0h-1.0zM214.1 786.2h1.0v1.0h-1.0zM216.6 796.0h1.0v1.0h-1.0zM226.4 805.4h1.0v1.0h-1.0zM208.0 797.8h1.0v1.0h-1.0zM229.7 809.0h1.0v1.0h-1.0zM232.3 809.3h1.0v1.0h-1.0zM210.2 787.2h1.0v1.0h-1.0zM230.9 810.2h1.0v1.0h-1.0zM225.6 791.0h1.0v1.0h-1.0zM228.2 802.9h1.0v1.0h-1.0zM225.3 809.4h1.0v1.0h-1.0zM227.3 793.9h1.0v1.0h-1.0zM231.9 811.8h1.0v1.0h-1.0zM227.7 803.5h1.0v1.0h-1.0zM226.9 798.3h1.0v1.0h-1.0zM218.8 787.9h1.0v1.0h-1.0zM229.4 794.9h1.0v1.0h-1.0zM226.9 813.7h1.0v1.0h-1.0zM236.9 817.4h1.0v1.0h-1.0zM226.7 800.4h1.0v1.0h-1.0zM226.3 800.7h1.0v1.0h-1.0zM223.3 791.2h1.0v1.0h-1.0zM230.8 788.6h1.0v1.0h-1.0zM225.6 784.8h1.0v1.0h-1.0zM222.9 791.7h1.0v1.0h-1.0zM235.6 805.7h1.0v1.0h-1.0zM236.6 798.6h1.0v1.0h-1.0zM224.3 803.8h1.0v1.0h-1.0zM221.1 799.0h1.0v1.0h-1.0zM233.0 806.0h1.0v1.0h-1.0zM222.2 782.2h1.0v1.0h-1.0zM242.4 810.7h1.0v1.0h-1.0zM226.1 798.8h1.0v1.0h-1.0zM232.1 794.2h1.0v1.0h-1.0zM219.7 776.8h1.0v1.0h-1.0zM226.6 814.4h1.0v1.0h-1.0zM232.9 809.4h1.0v1.0h-1.0zM229.2 798.7h1.0v1.0h-1.0zM223.9 809.7h1.0v1.0h-1.0zM240.4 819.4h1.0v1.0h-1.0zM230.9 806.5h1.0v1.0h-1.0zM225.6 800.4h1.0v1.0h-1.0zM223.5 803.0h1.0v1.0h-1.0zM225.3 809.8h1.0v1.0h-1.0zM234.3 806.3h1.0v1.0h-1.0zM222.6 794.4h1.0v1.0h-1.0zM227.0 804.4h1.0v1.0h-1.0zM222.3 774.0h1.0v1.0h-1.0zM233.8 806.0h1.0v1.0h-1.0zM225.9 795.8h1.0v1.0h-1.0zM231.6 803.4h1.0v1.0h-1.0zM230.0 800.8h1.0v1.0h-1.0zM223.6 799.7h1.0v1.0h-1.0zM230.7 803.7h1.0v1.0h-1.0zM232.0 804.5h1.0v1.0h-1.0zM220.5 793.5h1.0v1.0h-1.0zM230.7 806.4h1.0v1.0h-1.0zM246.5 811.8h1.0v1.0h-1.0zM225.2 806.0h1.0v1.0h-1.0zM230.4 789.5h1.0v1.0h-1.0zM219.5 795.2h1.0v1.0h-1.0zM229.4 805.3h1.0v1.0h-1.0zM223.6 787.1h1.0v1.0h-1.0zM231.1 799.8h1.0v1.0h-1.0zM226.6 809.8h1.0v1.0h-1.0zM220.3 793.3h1.0v1.0h-1.0zM232.9 797.8h1.0v1.0h-1.0zM225.7 775.5h1.0v1.0h-1.0zM221.2 797.8h1.0v1.0h-1.0zM227.2 800.8h1.0v1.0h-1.0zM221.5 800.1h1.0v1.0h-1.0zM229.0 817.5h1.0v1.0h-1.0zM226.5 799.4h1.0v1.0h-1.0zM224.8 799.1h1.0v1.0h-1.0zM230.6 797.4h1.0v1.0h-1.0zM219.8 793.4h1.0v1.0h-1.0zM232.2 803.9h1.0v1.0h-1.0zM215.7 796.5h1.0v1.0h-1.0zM235.8 811.3h1.0v1.0h-1.0zM227.9 794.6h1.0v1.0h-1.0zM225.4 794.8h1.0v1.0h-1.0zM222.8 807.1h1.0v1.0h-1.0zM229.9 794.7h1.0v1.0h-1.0zM226.0 804.8h1.0v1.0h-1.0zM225.9 811.6h1.0v1.0h-1.0zM232.6 809.5h1.0v1.0h-1.0zM224.4 799.7h1.0v1.0h-1.0zM225.5 809.3h1.0v1.0h-1.0zM229.2 804.4h1.0v1.0h-1.0zM232.8 804.5h1.0v1.0h-1.0zM226.0 797.4h1.0v1.0h-1.0zM227.7 809.4h1.0v1.0h-1.0zM227.1 805.3h1.0v1.0h-1.0zM231.0 815.1h1.0v1.0h-1.0zM235.1 803.9h1.0v1.0h-1.0zM221.7 793.0h1.0v1.0h-1.0zM226.1 795.7h1.0v1.0h-1.0zM226.6 801.7h1.0v1.0h-1.0zM230.1 797.0h1.0v1.0h-1.0zM235.2 813.7h1.0v1.0h-1.0zM226.8 802.3h1.0v1.0h-1.0zM228.0 793.0h1.0v1.0h-1.0zM233.2 781.7h1.0v1.0h-1.0zM219.9 779.8h1.0v1.0h-1.0zM222.6 807.4h1.0v1.0h-1.0zM224.3 797.2h1.0v1.0h-1.0zM226.8 800.8h1.0v1.0h-1.0zM228.1 797.4h1.0v1.0h-1.0zM224.0 800.4h1.0v1.0h-1.0zM222.6 772.4h1.0v1.0h-1.0zM222.0 756.6h1.0v1.0h-1.0zM224.9 739.6h1.0v1.0h-1.0zM238.5 762.4h1.0v1.0h-1.0zM243.6 754.3h1.0v1.0h-1.0zM241.8 753.0h1.0v1.0h-1.0zM237.0 744.3h1.0v1.0h-1.0zM227.7 750.6h1.0v1.0h-1.0zM244.3 753.5h1.0v1.0h-1.0zM235.7 742.4h1.0v1.0h-1.0zM237.8 757.0h1.0v1.0h-1.0zM237.4 759.6h1.0v1.0h-1.0zM234.2 757.8h1.0v1.0h-1.0zM232.2 763.5h1.0v1.0h-1.0zM233.2 759.1h1.0v1.0h-1.0zM227.6 749.0h1.0v1.0h-1.0zM240.0 745.9h1.0v1.0h-1.0zM236.6 760.1h1.0v1.0h-1.0zM246.1 765.9h1.0v1.0h-1.0zM223.5 765.0h1.0v1.0h-1.0zM247.3 749.2h1.0v1.0h-1.0zM237.4 760.1h1.0v1.0h-1.0zM236.7 738.5h1.0v1.0h-1.0zM231.5 749.4h1.0v1.0h-1.0zM231.4 756.2h1.0v1.0h-1.0zM226.0 761.7h1.0v1.0h-1.0zM245.2 751.9h1.0v1.0h-1.0zM236.3 755.7h1.0v1.0h-1.0zM243.7 742.8h1.0v1.0h-1.0zM244.6 749.3h1.0v1.0h-1.0zM234.0 762.2h1.0v1.0h-1.0zM236.1 738.3h1.0v1.0h-1.0zM235.2 745.7h1.0v1.0h-1.0zM246.2 751.2h1.0v1.0h-1.0zM239.0 774.1h1.0v1.0h-1.0zM239.3 765.0h1.0v1.0h-1.0zM243.7 773.3h1.0v1.0h-1.0zM237.4 773.1h1.0v1.0h-1.0zM254.3 747.2h1.0v1.0h-1.0zM230.6 759.9h1.0v1.0h-1.0zM248.0 741.4h1.0v1.0h-1.0zM249.2 767.0h1.0v1.0h-1.0zM228.8 769.4h1.0v1.0h-1.0zM244.9 762.1h1.0v1.0h-1.0zM240.2 764.6h1.0v1.0h-1.0zM245.0 760.6h1.0v1.0h-1.0zM228.4 763.8h1.0v1.0h-1.0zM239.9 760.4h1.0v1.0h-1.0zM230.2 774.3h1.0v1.0h-1.0zM235.3 750.2h1.0v1.0h-1.0zM249.4 742.3h1.0v1.0h-1.0zM236.9 758.4h1.0v1.0h-1.0zM220.0 777.4h1.0v1.0h-1.0zM226.8 764.7h1.0v1.0h-1.0zM228.9 759.0h1.0v1.0h-1.0zM246.1 764.4h1.0v1.0h-1.0zM232.4 761.3h1.0v1.0h-1.0zM225.5 741.4h1.0v1.0h-1.0zM246.9 743.6h1.0v1.0h-1.0zM240.0 734.1h1.0v1.0h-1.0zM240.7 754.6h1.0v1.0h-1.0zM231.6 755.4h1.0v1.0h-1.0zM249.4 758.8h1.0v1.0h-1.0zM237.0 781.8h1.0v1.0h-1.0zM222.2 757.1h1.0v1.0h-1.0zM228.9 761.4h1.0v1.0h-1.0zM231.3 756.2h1.0v1.0h-1.0zM236.7 727.3h1.0v1.0h-1.0zM244.1 747.4h1.0v1.0h-1.0zM232.2 752.2h1.0v1.0h-1.0zM233.2 762.8h1.0v1.0h-1.0zM255.6 742.4h1.0v1.0h-1.0zM238.7 743.5h1.0v1.0h-1.0zM233.8 766.1h1.0v1.0h-1.0zM238.3 757.2h1.0v1.0h-1.0zM228.0 751.7h1.0v1.0h-1.0zM242.3 748.1h1.0v1.0h-1.0zM245.7 751.9h1.0v1.0h-1.0zM233.3 768.8h1.0v1.0h-1.0zM246.0 771.0h1.0v1.0h-1.0zM235.7 744.4h1.0v1.0h-1.0zM240.3 770.2h1.0v1.0h-1.0zM232.1 760.8h1.0v1.0h-1.0zM231.6 764.4h1.0v1.0h-1.0zM226.0 773.2h1.0v1.0h-1.0zM239.8 746.8h1.0v1.0h-1.0zM235.7 768.4h1.0v1.0h-1.0zM236.0 744.3h1.0v1.0h-1.0zM229.0 756.2h1.0v1.0h-1.0zM228.7 752.0h1.0v1.0h-1.0zM232.9 778.6h1.0v1.0h-1.0zM241.8 774.9h1.0v1.0h-1.0zM240.4 765.6h1.0v1.0h-1.0zM232.5 765.8h1.0v1.0h-1.0zM240.3 751.4h1.0v1.0h-1.0zM252.1 772.4h1.0v1.0h-1.0zM238.8 773.3h1.0v1.0h-1.0zM254.2 762.3h1.0v1.0h-1.0zM241.5 755.7h1.0v1.0h-1.0zM248.6 750.5h1.0v1.0h-1.0zM233.8 758.7h1.0v1.0h-1.0zM247.4 769.5h1.0v1.0h-1.0zM228.5 751.1h1.0v1.0h-1.0zM239.9 758.8h1.0v1.0h-1.0zM235.3 777.3h1.0v1.0h-1.0zM222.0 773.7h1.0v1.0h-1.0zM227.1 781.4h1.0v1.0h-1.0zM247.1 759.6h1.0v1.0h-1.0zM241.9 761.6h1.0v1.0h-1.0zM248.4 769.9h1.0v1.0h-1.0zM239.6 765.0h1.0v1.0h-1.0zM214.8 770.5h1.0v1.0h-1.0zM240.0 752.0h1.0v1.0h-1.0zM233.4 743.6h1.0v1.0h-1.0zM234.0 776.3h1.0v1.0h-1.0zM234.4 755.1h1.0v1.0h-1.0zM231.9 752.4h1.0v1.0h-1.0zM230.3 770.8h1.0v1.0h-1.0zM247.9 745.1h1.0v1.0h-1.0zM241.5 742.2h1.0v1.0h-1.0zM232.7 754.0h1.0v1.0h-1.0zM234.6 759.0h1.0v1.0h-1.0zM245.8 758.7h1.0v1.0h-1.0zM241.0 763.0h1.0v1.0h-1.0zM239.5 768.6h1.0v1.0h-1.0zM228.2 760.7h1.0v1.0h-1.0zM234.5 763.8h1.0v1.0h-1.0zM228.9 760.6h1.0v1.0h-1.0zM222.6 757.0h1.0v1.0h-1.0zM245.1 760.4h1.0v1.0h-1.0zM235.3 763.4h1.0v1.0h-1.0zM234.6 780.2h1.0v1.0h-1.0zM230.3 767.9h1.0v1.0h-1.0zM244.0 748.7h1.0v1.0h-1.0zM254.7 759.1h1.0v1.0h-1.0zM242.6 754.1h1.0v1.0h-1.0zM245.4 773.3h1.0v1.0h-1.0zM228.0 743.4h1.0v1.0h-1.0zM239.3 750.8h1.0v1.0h-1.0zM239.7 750.7h1.0v1.0h-1.0zM249.9 755.6h1.0v1.0h-1.0zM238.0 757.1h1.0v1.0h-1.0zM230.4 743.8h1.0v1.0h-1.0zM237.4 738.3h1.0v1.0h-1.0zM234.5 761.8h1.0v1.0h-1.0zM249.5 770.6h1.0v1.0h-1.0zM243.2 772.7h1.0v1.0h-1.0zM240.7 753.2h1.0v1.0h-1.0zM239.4 763.1h1.0v1.0h-1.0zM244.7 746.6h1.0v1.0h-1.0zM234.0 744.1h1.0v1.0h-1.0zM230.6 774.7h1.0v1.0h-1.0zM222.9 771.5h1.0v1.0h-1.0zM247.4 751.5h1.0v1.0h-1.0zM242.0 753.1h1.0v1.0h-1.0zM243.0 766.9h1.0v1.0h-1.0zM238.2 762.0h1.0v1.0h-1.0zM251.2 750.2h1.0v1.0h-1.0zM230.0 764.6h1.0v1.0h-1.0zM247.5 755.1h1.0v1.0h-1.0zM231.1 756.6h1.0v1.0h-1.0zM234.3 752.1h1.0v1.0h-1.0zM228.1 772.3h1.0v1.0h-1.0zM238.6 753.2h1.0v1.0h-1.0zM235.6 746.5h1.0v1.0h-1.0zM241.3 777.3h1.0v1.0h-1.0zM233.2 774.1h1.0v1.0h-1.0zM226.7 768.4h1.0v1.0h-1.0zM242.4 756.3h1.0v1.0h-1.0zM248.1 757.1h1.0v1.0h-1.0zM243.7 740.7h1.0v1.0h-1.0zM237.4 758.6h1.0v1.0h-1.0zM241.1 760.5h1.0v1.0h-1.0zM224.2 761.4h1.0v1.0h-1.0zM235.2 764.4h1.0v1.0h-1.0zM247.1 746.9h1.0v1.0h-1.0zM241.5 759.3h1.0v1.0h-1.0zM231.0 743.9h1.0v1.0h-1.0zM244.7 755.9h1.0v1.0h-1.0zM236.8 752.2h1.0v1.0h-1.0zM243.7 741.9h1.0v1.0h-1.0zM226.6 758.3h1.0v1.0h-1.0zM233.6 760.3h1.0v1.0h-1.0zM240.4 751.1h1.0v1.0h-1.0zM240.2 767.8h1.0v1.0h-1.0zM242.2 749.3h1.0v1.0h-1.0zM237.7 768.8h1.0v1.0h-1.0zM236.2 767.1h1.0v1.0h-1.0zM241.6 750.5h1.0v1.0h-1.0zM244.7 771.7h1.0v1.0h-1.0zM225.7 748.0h1.0v1.0h-1.0zM235.2 765.2h1.0v1.0h-1.0zM236.2 759.8h1.0v1.0h-1.0zM239.1 766.4h1.0v1.0h-1.0zM245.9 738.4h1.0v1.0h-1.0zM227.2 749.2h1.0v1.0h-1.0zM242.1 747.8h1.0v1.0h-1.0zM224.0 763.6h1.0v1.0h-1.0zM231.8 761.5h1.0v1.0h-1.0zM233.7 760.0h1.0v1.0h-1.0zM235.7 756.3h1.0v1.0h-1.0zM232.9 752.4h1.0v1.0h-1.0zM233.7 744.8h1.0v1.0h-1.0zM235.1 754.6h1.0v1.0h-1.0zM235.7 764.8h1.0v1.0h-1.0zM223.1 774.6h1.0v1.0h-1.0zM226.6 756.7h1.0v1.0h-1.0zM234.3 771.2h1.0v1.0h-1.0zM242.0 741.9h1.0v1.0h-1.0zM245.8 763.8h1.0v1.0h-1.0zM260.6 738.2h1.0v1.0h-1.0zM238.7 760.6h1.0v1.0h-1.0zM231.6 750.0h1.0v1.0h-1.0zM239.2 747.1h1.0v1.0h-1.0zM243.3 750.3h1.0v1.0h-1.0zM238.9 773.3h1.0v1.0h-1.0zM229.4 754.0h1.0v1.0h-1.0zM237.0 765.3h1.0v1.0h-1.0zM237.5 760.0h1.0v1.0h-1.0zM226.6 765.5h1.0v1.0h-1.0zM228.2 765.1h1.0v1.0h-1.0zM247.4 761.6h1.0v1.0h-1.0zM220.1 751.5h1.0v1.0h-1.0zM239.2 758.2h1.0v1.0h-1.0zM235.8 762.7h1.0v1.0h-1.0zM248.9 747.9h1.0v1.0h-1.0zM242.7 760.3h1.0v1.0h-1.0zM231.0 749.6h1.0v1.0h-1.0zM247.9 762.5h1.0v1.0h-1.0zM233.4 752.2h1.0v1.0h-1.0zM253.7 749.5h1.0v1.0h-1.0zM251.0 762.1h1.0v1.0h-1.0zM237.2 770.2h1.0v1.0h-1.0zM244.0 749.8h1.0v1.0h-1.0zM239.3 750.7h1.0v1.0h-1.0zM230.7 771.5h1.0v1.0h-1.0zM246.3 723.8h1.0v1.0h-1.0zM241.2 771.5h1.0v1.0h-1.0zM244.6 769.8h1.0v1.0h-1.0zM246.4 743.5h1.0v1.0h-1.0zM249.1 767.1h1.0v1.0h-1.0zM246.1 759.2h1.0v1.0h-1.0zM237.2 763.4h1.0v1.0h-1.0zM238.6 732.7h1.0v1.0h-1.0zM241.2 751.6h1.0v1.0h-1.0zM237.0 756.4h1.0v1.0h-1.0zM236.1 754.4h1.0v1.0h-1.0zM252.7 748.6h1.0v1.0h-1.0zM241.8 753.6h1.0v1.0h-1.0zM253.0 721.5h1.0v1.0h-1.0zM231.8 758.1h1.0v1.0h-1.0zM237.6 750.7h1.0v1.0h-1.0zM234.5 758.4h1.0v1.0h-1.0zM234.9 753.8h1.0v1.0h-1.0zM235.7 758.9h1.0v1.0h-1.0zM237.0 761.5h1.0v1.0h-1.0zM234.5 778.7h1.0v1.0h-1.0zM252.3 744.0h1.0v1.0h-1.0zM243.3 774.6h1.0v1.0h-1.0zM232.1 757.6h1.0v1.0h-1.0zM233.6 749.9h1.0v1.0h-1.0zM243.9 740.2h1.0v1.0h-1.0zM242.3 765.9h1.0v1.0h-1.0zM233.1 743.3h1.0v1.0h-1.0zM245.3 765.4h1.0v1.0h-1.0zM226.6 765.9h1.0v1.0h-1.0zM234.2 753.2h1.0v1.0h-1.0zM251.7 745.9h1.0v1.0h-1.0zM217.3 770.8h1.0v1.0h-1.0zM236.4 760.3h1.0v1.0h-1.0zM245.8 763.3h1.0v1.0h-1.0zM236.8 758.4h1.0v1.0h-1.0zM231.8 754.7h1.0v1.0h-1.0zM230.9 766.4h1.0v1.0h-1.0zM221.5 750.9h1.0v1.0h-1.0zM227.5 771.0h1.0v1.0h-1.0zM238.5 758.4h1.0v1.0h-1.0zM233.5 747.5h1.0v1.0h-1.0zM237.9 747.0h1.0v1.0h-1.0zM236.8 754.9h1.0v1.0h-1.0zM240.2 737.4h1.0v1.0h-1.0zM224.8 777.9h1.0v1.0h-1.0zM235.5 769.5h1.0v1.0h-1.0zM235.3 747.0h1.0v1.0h-1.0zM235.5 757.7h1.0v1.0h-1.0zM231.0 779.1h1.0v1.0h-1.0zM220.6 768.7h1.0v1.0h-1.0zM243.0 745.1h1.0v1.0h-1.0zM244.4 732.1h1.0v1.0h-1.0zM256.8 733.3h1.0v1.0h-1.0zM243.8 769.0h1.0v1.0h-1.0zM251.0 756.8h1.0v1.0h-1.0zM242.7 742.0h1.0v1.0h-1.0zM235.0 766.8h1.0v1.0h-1.0zM241.9 752.6h1.0v1.0h-1.0zM228.7 754.0h1.0v1.0h-1.0zM239.9 751.6h1.0v1.0h-1.0zM237.1 753.2h1.0v1.0h-1.0zM229.6 779.3h1.0v1.0h-1.0zM247.7 744.1h1.0v1.0h-1.0zM246.9 750.4h1.0v1.0h-1.0zM241.7 771.3h1.0v1.0h-1.0zM244.5 772.2h1.0v1.0h-1.0zM251.0 742.5h1.0v1.0h-1.0zM236.9 781.1h1.0v1.0h-1.0zM227.3 774.0h1.0v1.0h-1.0zM230.5 744.4h1.0v1.0h-1.0zM243.5 775.9h1.0v1.0h-1.0zM239.8 741.1h1.0v1.0h-1.0zM226.2 769.7h1.0v1.0h-1.0zM248.5 741.6h1.0v1.0h-1.0zM239.7 737.8h1.0v1.0h-1.0zM250.8 762.8h1.0v1.0h-1.0zM247.0 759.4h1.0v1.0h-1.0zM234.6 758.3h1.0v1.0h-1.0zM238.8 759.8h1.0v1.0h-1.0zM232.2 759.0h1.0v1.0h-1.0zM231.4 757.5h1.0v1.0h-1.0zM235.7 747.1h1.0v1.0h-1.0zM242.0 763.0h1.0v1.0h-1.0zM248.9 754.3h1.0v1.0h-1.0zM231.0 757.8h1.0v1.0h-1.0zM243.6 749.7h1.0v1.0h-1.0zM238.4 754.8h1.0v1.0h-1.0zM236.4 741.9h1.0v1.0h-1.0zM247.1 751.3h1.0v1.0h-1.0zM235.3 748.1h1.0v1.0h-1.0zM249.1 768.2h1.0v1.0h-1.0zM235.5 748.4h1.0v1.0h-1.0zM230.8 755.6h1.0v1.0h-1.0zM244.3 755.9h1.0v1.0h-1.0zM226.6 770.9h1.0v1.0h-1.0zM228.8 766.4h1.0v1.0h-1.0zM236.7 758.7h1.0v1.0h-1.0zM238.2 781.8h1.0v1.0h-1.0zM236.1 758.5h1.0v1.0h-1.0zM222.5 767.1h1.0v1.0h-1.0zM227.6 791.9h1.0v1.0h-1.0zM242.3 746.6h1.0v1.0h-1.0zM242.5 767.0h1.0v1.0h-1.0zM230.2 765.7h1.0v1.0h-1.0zM240.3 742.6h1.0v1.0h-1.0zM239.9 750.5h1.0v1.0h-1.0zM246.3 764.2h1.0v1.0h-1.0zM232.4 744.0h1.0v1.0h-1.0zM249.8 751.7h1.0v1.0h-1.0zM235.8 769.1h1.0v1.0h-1.0zM249.7 751.2h1.0v1.0h-1.0zM245.6 758.2h1.0v1.0h-1.0zM230.2 753.4h1.0v1.0h-1.0zM235.8 751.9h1.0v1.0h-1.0zM240.5 750.3h1.0v1.0h-1.0zM246.4 751.1h1.0v1.0h-1.0zM227.3 768.8h1.0v1.0h-1.0zM234.3 760.2h1.0v1.0h-1.0zM243.2 777.9h1.0v1.0h-1.0zM242.1 762.6h1.0v1.0h-1.0zM229.9 764.0h1.0v1.0h-1.0zM231.1 785.3h1.0v1.0h-1.0zM241.7 755.5h1.0v1.0h-1.0zM230.1 751.9h1.0v1.0h-1.0zM240.1 758.9h1.0v1.0h-1.0zM245.6 743.2h1.0v1.0h-1.0zM238.4 763.6h1.0v1.0h-1.0zM216.9 780.7h1.0v1.0h-1.0zM247.6 761.6h1.0v1.0h-1.0zM247.4 750.1h1.0v1.0h-1.0zM249.6 752.3h1.0v1.0h-1.0zM245.1 760.8h1.0v1.0h-1.0zM224.9 775.8h1.0v1.0h-1.0zM249.5 749.4h1.0v1.0h-1.0zM241.0 752.3h1.0v1.0h-1.0zM245.8 767.2h1.0v1.0h-1.0zM237.0 760.8h1.0v1.0h-1.0zM236.3 762.4h1.0v1.0h-1.0zM236.4 763.9h1.0v1.0h-1.0zM251.0 744.8h1.0v1.0h-1.0zM240.5 755.5h1.0v1.0h-1.0zM236.7 770.2h1.0v1.0h-1.0zM228.1 759.9h1.0v1.0h-1.0zM242.0 754.4h1.0v1.0h-1.0zM238.4 761.2h1.0v1.0h-1.0zM239.5 761.8h1.0v1.0h-1.0zM246.1 783.2h1.0v1.0h-1.0zM244.0 746.9h1.0v1.0h-1.0zM238.3 759.5h1.0v1.0h-1.0zM240.0 779.6h1.0v1.0h-1.0zM239.0 758.1h1.0v1.0h-1.0zM244.0 760.1h1.0v1.0h-1.0zM243.8 739.9h1.0v1.0h-1.0zM239.4 768.3h1.0v1.0h-1.0zM231.5 770.0h1.0v1.0h-1.0zM245.0 764.6h1.0v1.0h-1.0zM245.5 753.4h1.0v1.0h-1.0zM229.7 765.1h1.0v1.0h-1.0zM241.4 756.1h1.0v1.0h-1.0zM235.2 768.5h1.0v1.0h-1.0zM220.8 764.1h1.0v1.0h-1.0zM237.9 766.8h1.0v1.0h-1.0zM245.8 740.5h1.0v1.0h-1.0zM232.4 756.5h1.0v1.0h-1.0zM232.6 728.5h1.0v1.0h-1.0zM246.4 753.4h1.0v1.0h-1.0zM229.4 769.7h1.0v1.0h-1.0zM230.7 757.8h1.0v1.0h-1.0zM235.7 784.9h1.0v1.0h-1.0zM243.2 745.2h1.0v1.0h-1.0zM243.2 752.5h1.0v1.0h-1.0zM234.0 749.3h1.0v1.0h-1.0zM235.7 753.3h1.0v1.0h-1.0zM238.9 752.6h1.0v1.0h-1.0zM235.1 742.8h1.0v1.0h-1.0zM231.3 749.7h1.0v1.0h-1.0zM229.5 783.6h1.0v1.0h-1.0zM243.9 753.1h1.0v1.0h-1.0zM236.4 768.7h1.0v1.0h-1.0zM261.0 735.7h1.0v1.0h-1.0zM243.2 754.9h1.0v1.0h-1.0zM232.2 766.1h1.0v1.0h-1.0zM238.2 756.1h1.0v1.0h-1.0zM240.9 751.3h1.0v1.0h-1.0zM241.4 754.8h1.0v1.0h-1.0zM241.7 757.0h1.0v1.0h-1.0zM241.8 765.9h1.0v1.0h-1.0zM237.1 771.7h1.0v1.0h-1.0zM243.4 741.5h1.0v1.0h-1.0zM255.6 729.0h1.0v1.0h-1.0zM234.7 757.1h1.0v1.0h-1.0zM235.1 759.1h1.0v1.0h-1.0zM243.8 763.9h1.0v1.0h-1.0zM248.1 766.2h1.0v1.0h-1.0zM244.7 748.3h1.0v1.0h-1.0zM247.9 777.3h1.0v1.0h-1.0zM237.8 761.0h1.0v1.0h-1.0zM236.3 739.1h1.0v1.0h-1.0zM243.4 766.7h1.0v1.0h-1.0zM243.5 759.1h1.0v1.0h-1.0zM251.5 756.4h1.0v1.0h-1.0zM250.6 735.9h1.0v1.0h-1.0zM223.6 759.8h1.0v1.0h-1.0zM231.0 781.4h1.0v1.0h-1.0zM229.1 769.2h1.0v1.0h-1.0zM234.1 767.2h1.0v1.0h-1.0zM237.5 779.3h1.0v1.0h-1.0zM239.1 770.8h1.0v1.0h-1.0zM237.5 768.3h1.0v1.0h-1.0zM229.1 786.1h1.0v1.0h-1.0zM240.3 786.3h1.0v1.0h-1.0zM231.6 784.1h1.0v1.0h-1.0zM235.1 789.4h1.0v1.0h-1.0zM228.6 786.2h1.0v1.0h-1.0zM221.7 769.7h1.0v1.0h-1.0zM216.5 788.1h1.0v1.0h-1.0zM231.1 779.9h1.0v1.0h-1.0zM226.0 782.5h1.0v1.0h-1.0zM230.0 791.5h1.0v1.0h-1.0zM235.4 782.5h1.0v1.0h-1.0zM220.9 791.6h1.0v1.0h-1.0zM219.5 779.4h1.0v1.0h-1.0zM231.6 775.9h1.0v1.0h-1.0zM232.2 773.3h1.0v1.0h-1.0zM228.4 777.9h1.0v1.0h-1.0zM226.9 765.5h1.0v1.0h-1.0zM220.5 778.5h1.0v1.0h-1.0zM229.5 778.0h1.0v1.0h-1.0zM225.6 774.7h1.0v1.0h-1.0zM232.6 761.1h1.0v1.0h-1.0zM235.7 761.8h1.0v1.0h-1.0zM226.7 784.6h1.0v1.0h-1.0zM232.5 771.3h1.0v1.0h-1.0zM231.1 790.0h1.0v1.0h-1.0zM234.2 773.3h1.0v1.0h-1.0zM239.2 781.9h1.0v1.0h-1.0zM234.0 767.4h1.0v1.0h-1.0zM234.3 773.9h1.0v1.0h-1.0zM234.8 777.2h1.0v1.0h-1.0zM227.5 783.6h1.0v1.0h-1.0zM230.0 792.4h1.0v1.0h-1.0zM232.1 786.7h1.0v1.0h-1.0zM237.4 767.4h1.0v1.0h-1.0zM237.7 779.0h1.0v1.0h-1.0zM243.6 777.7h1.0v1.0h-1.0zM223.5 773.9h1.0v1.0h-1.0zM229.8 783.7h1.0v1.0h-1.0zM219.7 791.6h1.0v1.0h-1.0zM226.8 775.3h1.0v1.0h-1.0zM220.2 787.9h1.0v1.0h-1.0zM237.0 790.2h1.0v1.0h-1.0zM234.5 770.5h1.0v1.0h-1.0zM223.6 793.2h1.0v1.0h-1.0zM232.0 792.5h1.0v1.0h-1.0zM234.4 781.4h1.0v1.0h-1.0zM240.4 792.7h1.0v1.0h-1.0zM235.0 781.0h1.0v1.0h-1.0zM230.8 788.2h1.0v1.0h-1.0zM229.5 784.2h1.0v1.0h-1.0zM233.8 772.1h1.0v1.0h-1.0zM231.8 781.1h1.0v1.0h-1.0zM227.2 777.7h1.0v1.0h-1.0zM222.7 775.1h1.0v1.0h-1.0zM236.3 769.8h1.0v1.0h-1.0zM225.7 772.8h1.0v1.0h-1.0zM228.4 769.1h1.0v1.0h-1.0zM234.8 788.1h1.0v1.0h-1.0zM229.7 763.3h1.0v1.0h-1.0zM236.8 779.6h1.0v1.0h-1.0zM223.3 774.1h1.0v1.0h-1.0zM234.6 769.0h1.0v1.0h-1.0zM222.1 784.8h1.0v1.0h-1.0zM221.1 772.6h1.0v1.0h-1.0zM223.8 788.7h1.0v1.0h-1.0zM230.7 777.6h1.0v1.0h-1.0zM226.0 781.7h1.0v1.0h-1.0zM221.8 778.0h1.0v1.0h-1.0zM237.2 784.2h1.0v1.0h-1.0zM224.3 786.5h1.0v1.0h-1.0zM229.3 775.4h1.0v1.0h-1.0zM231.5 778.9h1.0v1.0h-1.0zM227.2 793.1h1.0v1.0h-1.0zM232.2 774.4h1.0v1.0h-1.0zM233.7 793.5h1.0v1.0h-1.0zM229.4 775.9h1.0v1.0h-1.0zM236.2 774.5h1.0v1.0h-1.0zM226.5 765.5h1.0v1.0h-1.0zM223.7 772.2h1.0v1.0h-1.0zM231.2 765.1h1.0v1.0h-1.0zM224.2 774.4h1.0v1.0h-1.0zM232.3 784.5h1.0v1.0h-1.0zM229.4 778.5h1.0v1.0h-1.0zM227.2 774.2h1.0v1.0h-1.0zM233.5 770.8h1.0v1.0h-1.0zM233.2 773.5h1.0v1.0h-1.0zM212.3 767.4h1.0v1.0h-1.0zM228.1 768.8h1.0v1.0h-1.0zM230.8 794.6h1.0v1.0h-1.0zM232.9 780.9h1.0v1.0h-1.0zM226.8 771.7h1.0v1.0h-1.0zM223.2 784.4h1.0v1.0h-1.0zM230.8 791.0h1.0v1.0h-1.0zM234.1 773.9h1.0v1.0h-1.0zM217.7 778.1h1.0v1.0h-1.0zM221.0 768.9h1.0v1.0h-1.0zM226.5 766.2h1.0v1.0h-1.0zM214.5 790.0h1.0v1.0h-1.0zM226.4 806.4h1.0v1.0h-1.0zM234.9 773.1h1.0v1.0h-1.0zM223.6 766.0h1.0v1.0h-1.0zM230.8 790.4h1.0v1.0h-1.0zM224.7 787.5h1.0v1.0h-1.0zM232.5 782.8h1.0v1.0h-1.0zM233.9 790.8h1.0v1.0h-1.0zM237.8 776.3h1.0v1.0h-1.0zM230.4 781.2h1.0v1.0h-1.0zM236.3 785.3h1.0v1.0h-1.0zM232.4 776.5h1.0v1.0h-1.0zM227.2 782.8h1.0v1.0h-1.0zM238.8 777.1h1.0v1.0h-1.0zM226.4 782.6h1.0v1.0h-1.0zM231.0 780.3h1.0v1.0h-1.0zM244.6 763.1h1.0v1.0h-1.0zM235.2 779.7h1.0v1.0h-1.0zM225.1 767.5h1.0v1.0h-1.0zM231.8 772.2h1.0v1.0h-1.0zM226.7 765.7h1.0v1.0h-1.0zM229.1 785.5h1.0v1.0h-1.0zM221.0 776.4h1.0v1.0h-1.0zM231.3 775.9h1.0v1.0h-1.0zM220.7 789.0h1.0v1.0h-1.0zM232.2 784.7h1.0v1.0h-1.0zM232.2 777.3h1.0v1.0h-1.0zM235.1 762.3h1.0v1.0h-1.0zM243.3 784.3h1.0v1.0h-1.0zM220.1 776.9h1.0v1.0h-1.0zM222.8 776.1h1.0v1.0h-1.0zM224.0 784.8h1.0v1.0h-1.0zM226.6 773.9h1.0v1.0h-1.0zM235.3 778.3h1.0v1.0h-1.0zM228.0 786.1h1.0v1.0h-1.0zM226.5 783.5h1.0v1.0h-1.0zM223.2 774.1h1.0v1.0h-1.0zM226.2 790.6h1.0v1.0h-1.0zM227.4 788.2h1.0v1.0h-1.0zM229.4 794.1h1.0v1.0h-1.0zM221.4 778.5h1.0v1.0h-1.0zM229.5 780.7h1.0v1.0h-1.0zM233.4 787.4h1.0v1.0h-1.0zM232.1 782.5h1.0v1.0h-1.0zM222.5 780.1h1.0v1.0h-1.0zM234.9 778.2h1.0v1.0h-1.0zM234.8 776.6h1.0v1.0h-1.0zM230.9 778.6h1.0v1.0h-1.0zM231.0 755.2h1.0v1.0h-1.0zM245.7 795.4h1.0v1.0h-1.0zM235.7 795.8h1.0v1.0h-1.0zM220.3 778.2h1.0v1.0h-1.0zM240.8 782.8h1.0v1.0h-1.0zM263.2 789.3h1.0v1.0h-1.0zM259.1 771.7h1.0v1.0h-1.0zM211.9 795.2h1.0v1.0h-1.0zM228.2 795.2h1.0v1.0h-1.0zM250.9 797.2h1.0v1.0h-1.0zM241.1 798.2h1.0v1.0h-1.0zM241.0 758.9h1.0v1.0h-1.0zM238.2 792.6h1.0v1.0h-1.0zM240.9 779.2h1.0v1.0h-1.0zM225.8 800.8h1.0v1.0h-1.0zM256.6 800.1h1.0v1.0h-1.0zM225.5 796.7h1.0v1.0h-1.0zM238.1 784.2h1.0v1.0h-1.0zM255.2 784.7h1.0v1.0h-1.0zM240.0 770.9h1.0v1.0h-1.0zM240.0 798.9h1.0v1.0h-1.0zM231.7 765.3h1.0v1.0h-1.0zM233.1 812.2h1.0v1.0h-1.0zM236.8 799.6h1.0v1.0h-1.0zM258.8 803.9h1.0v1.0h-1.0zM234.0 800.0h1.0v1.0h-1.0zM248.0 791.1h1.0v1.0h-1.0zM246.1 767.2h1.0v1.0h-1.0zM245.8 777.2h1.0v1.0h-1.0zM236.2 793.4h1.0v1.0h-1.0zM250.4 782.8h1.0v1.0h-1.0zM242.4 790.7h1.0v1.0h-1.0zM241.5 776.1h1.0v1.0h-1.0z" fill="#0000f0" fill-opacity="0.62"/>
<path d="M224.1 805.1h1.0v1.0h-1.0zM227.6 796.5h1.0v1.0h-1.0zM229.0 800.4h1.0v1.0h-1.0zM226.7 792.8h1.0v1.0h-1.0zM223.5 804.1h1.0v1.0h-1.0zM221.4 800.1h1.0v1.0h-1.0zM233.1 807.8h1.0v1.0h-1.0zM223.0 797.4h1.0v1.0h-1.0zM223.9 797.3h1.0v1.0h-1.0zM224.3 796.5h1.0v1.0h-1.0zM229.5 808.2h1.0v1.0h-1.0zM224.2 794.9h1.0v1.0h-1.0zM228.3 806.3h1.0v1.0h-1.0zM227.5 802.4h1.0v1.0h-1.0zM223.0 792.0h1.0v1.0h-1.0zM227.1 792.7h1.0v1.0h-1.0zM222.7 793.0h1.0v1.0h-1.0zM226.1 799.6h1.0v1.0h-1.0zM228.9 794.9h1.0v1.0h-1.0zM225.8 803.0h1.0v1.0h-1.0zM223.7 804.2h1.0v1.0h-1.0zM225.2 802.1h1.0v1.0h-1.0zM226.0 790.5h1.0v1.0h-1.0zM227.6 788.2h1.0v1.0h-1.0zM219.3 799.4h1.0v1.0h-1.0zM220.7 803.9h1.0v1.0h-1.0zM228.1 799.1h1.0v1.0h-1.0zM226.2 802.7h1.0v1.0h-1.0zM226.6 798.7h1.0v1.0h-1.0zM227.2 797.2h1.0v1.0h-1.0zM226.0 805.1h1.0v1.0h-1.0zM225.1 796.0h1.0v1.0h-1.0zM226.9 805.0h1.0v1.0h-1.0zM228.6 811.1h1.0v1.0h-1.0zM227.6 800.2h1.0v1.0h-1.0zM226.6 810.3h1.0v1.0h-1.0zM223.2 790.5h1.0v1.0h-1.0zM227.2 805.7h1.0v1.0h-1.0zM222.8 797.4h1.0v1.0h-1.0zM224.4 812.5h1.0v1.0h-1.0z" fill="#e06000" fill-opacity="0.7"/>
<path d="M227.0 800.7h1.0v1.0h-1.0zM226.9 796.0h1.0v1.0h-1.0zM229.9 811.6h1.0v1.0h-1.0zM229.3 793.8h1.0v1.0h-1.0zM228.0 803.7h1.0v1.0h-1.0zM225.5 795.2h1.0v1.0h-1.0zM226.4 807.6h1.0v1.0h-1.0zM225.7 799.0h1.0v1.0h-1.0zM232.0 808.9h1.0v1.0h-1.0zM227.9 801.0h1.0v1.0h-1.0zM224.4 792.5h1.0v1.0h-1.0zM223.8 786.3h1.0v1.0h-1.0zM230.4 812.8h1.0v1.0h-1.0zM223.7 799.3h1.0v1.0h-1.0zM227.7 794.7h1.0v1.0h-1.0zM227.1 798.8h1.0v1.0h-1.0zM229.9 808.0h1.0v1.0h-1.0zM223.7 789.9h1.0v1.0h-1.0zM228.0 813.6h1.0v1.0h-1.0zM227.1 799.2h1.0v1.0h-1.0zM229.0 800.0h1.0v1.0h-1.0zM230.8 810.3h1.0v1.0h-1.0zM226.8 801.5h1.0v1.0h-1.0zM225.8 794.1h1.0v1.0h-1.0zM229.3 807.2h1.0v1.0h-1.0zM222.1 799.2h1.0v1.0h-1.0zM227.1 806.7h1.0v1.0h-1.0zM223.4 792.7h1.0v1.0h-1.0zM222.7 791.0h1.0v1.0h-1.0zM221.5 799.8h1.0v1.0h-1.0zM221.3 793.8h1.0v1.0h-1.0zM229.1 790.2h1.0v1.0h-1.0zM229.3 798.9h1.0v1.0h-1.0zM226.8 803.7h1.0v1.0h-1.0zM229.8 798.5h1.0v1.0h-1.0zM226.6 807.1h1.0v1.0h-1.0zM225.0 796.1h1.0v1.0h-1.0zM223.1 797.0h1.0v1.0h-1.0zM229.0 793.0h1.0v1.0h-1.0zM229.1 797.6h1.0v1.0h-1.0z" fill="#d0d040" fill-opacity="0.7"/>
<path d="M226.2 798.6h1.0v1.0h-1.0zM227.4 796.9h1.0v1.0h-1.0zM226.8 800.0h1.0v1.0h-1.0zM228.2 799.8h1.0v1.0h-1.0zM223.0 798.0h1.0v1.0h-1.0zM226.5 798.8h1.0v1.0h-1.0zM226.3 797.1h1.0v1.0h-1.0zM224.8 800.4h1.0v1.0h-1.0zM226.4 796.0h1.0v1.0h-1.0zM225.3 805.1h1.0v1.0h-1.0zM227.2 800.1h1.0v1.0h-1.0zM225.9 802.8h1.0v1.0h-1.0zM227.3 796.4h1.0v1.0h-1.0zM225.0 801.0h1.0v1.0h-1.0zM228.5 799.6h1.0v1.0h-1.0zM227.1 803.0h1.0v1.0h-1.0zM229.3 802.6h1.0v1.0h-1.0zM226.3 795.1h1.0v1.0h-1.0zM225.7 803.5h1.0v1.0h-1.0zM226.7 795.5h1.0v1.0h-1.0z" fill="#c03000" fill-opacity="0.45"/>
<ellipse cx="245.6" cy="752.2" rx="33.4" ry="28" transform="rotate(-35 245.6 752.2)" fill="none" stroke="#1a1a1a" stroke-width="1"/>
<line x1="58.599999999999994" y1="836.5" x2="61.8" y2="836.5" stroke="#444" stroke-width="1.0"/>
<rect x="56.6" y="835.3" width="1.6" height="2.4" fill="#999"/>
<line x1="58.599999999999994" y1="864.5" x2="61.8" y2="864.5" stroke="#444" stroke-width="1.0"/>
<rect x="56.6" y="863.2" width="1.6" height="2.4" fill="#999"/>
<line x1="58.599999999999994" y1="897.5" x2="61.8" y2="897.5" stroke="#444" stroke-width="1.0"/>
<rect x="56.6" y="896.7" width="1.6" height="2.4" fill="#999"/>
<line x1="58.599999999999994" y1="937.5" x2="61.8" y2="937.5" stroke="#444" stroke-width="1.0"/>
<rect x="56.6" y="936.0" width="1.6" height="2.4" fill="#999"/>
<line x1="60.0" y1="856.5" x2="61.8" y2="856.5" stroke="#777" stroke-width="0.7"/>
<line x1="60.0" y1="851.5" x2="61.8" y2="851.5" stroke="#777" stroke-width="0.7"/>
<line x1="60.0" y1="847.5" x2="61.8" y2="847.5" stroke="#777" stroke-width="0.7"/>
<line x1="60.0" y1="844.5" x2="61.8" y2="844.5" stroke="#777" stroke-width="0.7"/>
<line x1="60.0" y1="842.5" x2="61.8" y2="842.5" stroke="#777" stroke-width="0.7"/>
<line x1="60.0" y1="840.5" x2="61.8" y2="840.5" stroke="#777" stroke-width="0.7"/>
<line x1="60.0" y1="839.5" x2="61.8" y2="839.5" stroke="#777" stroke-width="0.7"/>
<line x1="60.0" y1="837.5" x2="61.8" y2="837.5" stroke="#777" stroke-width="0.7"/>
<line x1="60.0" y1="887.5" x2="61.8" y2="887.5" stroke="#777" stroke-width="0.7"/>
<line x1="60.0" y1="881.5" x2="61.8" y2="881.5" stroke="#777" stroke-width="0.7"/>
<line x1="60.0" y1="877.5" x2="61.8" y2="877.5" stroke="#777" stroke-width="0.7"/>
<line x1="60.0" y1="874.5" x2="61.8" y2="874.5" stroke="#777" stroke-width="0.7"/>
<line x1="60.0" y1="871.5" x2="61.8" y2="871.5" stroke="#777" stroke-width="0.7"/>
<line x1="60.0" y1="869.5" x2="61.8" y2="869.5" stroke="#777" stroke-width="0.7"/>
<line x1="60.0" y1="867.5" x2="61.8" y2="867.5" stroke="#777" stroke-width="0.7"/>
<line x1="60.0" y1="865.5" x2="61.8" y2="865.5" stroke="#777" stroke-width="0.7"/>
<line x1="60.0" y1="925.5" x2="61.8" y2="925.5" stroke="#777" stroke-width="0.7"/>
<line x1="60.0" y1="918.5" x2="61.8" y2="918.5" stroke="#777" stroke-width="0.7"/>
<line x1="60.0" y1="913.5" x2="61.8" y2="913.5" stroke="#777" stroke-width="0.7"/>
<line x1="60.0" y1="909.5" x2="61.8" y2="909.5" stroke="#777" stroke-width="0.7"/>
<line x1="60.0" y1="906.5" x2="61.8" y2="906.5" stroke="#777" stroke-width="0.7"/>
<line x1="60.0" y1="903.5" x2="61.8" y2="903.5" stroke="#777" stroke-width="0.7"/>
<line x1="60.0" y1="901.5" x2="61.8" y2="901.5" stroke="#777" stroke-width="0.7"/>
<line x1="60.0" y1="899.5" x2="61.8" y2="899.5" stroke="#777" stroke-width="0.7"/>
<rect x="57.4" y="915.7" width="3.8" height="4.2" fill="#222"/>
<line x1="68.5" y1="945.3" x2="68.5" y2="948.5" stroke="#333" stroke-width="1.0"/>
<line x1="109.5" y1="945.3" x2="109.5" y2="948.5" stroke="#333" stroke-width="1.0"/>
<line x1="144.5" y1="945.3" x2="144.5" y2="948.5" stroke="#333" stroke-width="1.0"/>
<line x1="174.5" y1="945.3" x2="174.5" y2="948.5" stroke="#333" stroke-width="1.0"/>
<line x1="80.5" y1="945.3" x2="80.5" y2="947.0999999999999" stroke="#777" stroke-width="0.7"/>
<line x1="87.5" y1="945.3" x2="87.5" y2="947.0999999999999" stroke="#777" stroke-width="0.7"/>
<line x1="93.5" y1="945.3" x2="93.5" y2="947.0999999999999" stroke="#777" stroke-width="0.7"/>
<line x1="97.5" y1="945.3" x2="97.5" y2="947.0999999999999" stroke="#777" stroke-width="0.7"/>
<line x1="100.5" y1="945.3" x2="100.5" y2="947.0999999999999" stroke="#777" stroke-width="0.7"/>
<line x1="103.5" y1="945.3" x2="103.5" y2="947.0999999999999" stroke="#777" stroke-width="0.7"/>
<line x1="105.5" y1="945.3" x2="105.5" y2="947.0999999999999" stroke="#777" stroke-width="0.7"/>
<line x1="107.5" y1="945.3" x2="107.5" y2="947.0999999999999" stroke="#777" stroke-width="0.7"/>
<line x1="120.5" y1="945.3" x2="120.5" y2="947.0999999999999" stroke="#777" stroke-width="0.7"/>
<line x1="126.5" y1="945.3" x2="126.5" y2="947.0999999999999" stroke="#777" stroke-width="0.7"/>
<line x1="130.5" y1="945.3" x2="130.5" y2="947.0999999999999" stroke="#777" stroke-width="0.7"/>
<line x1="133.5" y1="945.3" x2="133.5" y2="947.0999999999999" stroke="#777" stroke-width="0.7"/>
<line x1="136.5" y1="945.3" x2="136.5" y2="947.0999999999999" stroke="#777" stroke-width="0.7"/>
<line x1="139.5" y1="945.3" x2="139.5" y2="947.0999999999999" stroke="#777" stroke-width="0.7"/>
<line x1="141.5" y1="945.3" x2="141.5" y2="947.0999999999999" stroke="#777" stroke-width="0.7"/>
<line x1="142.5" y1="945.3" x2="142.5" y2="947.0999999999999" stroke="#777" stroke-width="0.7"/>
<line x1="153.5" y1="945.3" x2="153.5" y2="947.0999999999999" stroke="#777" stroke-width="0.7"/>
<line x1="158.5" y1="945.3" x2="158.5" y2="947.0999999999999" stroke="#777" stroke-width="0.7"/>
<line x1="162.5" y1="945.3" x2="162.5" y2="947.0999999999999" stroke="#777" stroke-width="0.7"/>
<line x1="165.5" y1="945.3" x2="165.5" y2="947.0999999999999" stroke="#777" stroke-width="0.7"/>
<line x1="167.5" y1="945.3" x2="167.5" y2="947.0999999999999" stroke="#777" stroke-width="0.7"/>
<line x1="169.5" y1="945.3" x2="169.5" y2="947.0999999999999" stroke="#777" stroke-width="0.7"/>
<line x1="171.5" y1="945.3" x2="171.5" y2="947.0999999999999" stroke="#777" stroke-width="0.7"/>
<line x1="172.5" y1="945.3" x2="172.5" y2="947.0999999999999" stroke="#777" stroke-width="0.7"/>
<rect x="87.4" y="945.9" width="4.8" height="2.4" fill="#222"/>
<rect x="61.5" y="824.5" width="125" height="121" fill="none" stroke="#7a7a7a" stroke-width="1"/>
<text x="179.4" y="834.2" font-size="5.3" text-anchor="end" fill="#333" style="stroke-width:0.05px">M2-like macrophages</text>
<path d="M101.7 920.2h1.0v1.0h-1.0zM94.7 917.0h1.0v1.0h-1.0zM89.0 923.5h1.0v1.0h-1.0zM98.5 930.1h1.0v1.0h-1.0zM95.2 911.1h1.0v1.0h-1.0zM90.0 893.6h1.0v1.0h-1.0zM91.3 902.5h1.0v1.0h-1.0zM97.4 926.1h1.0v1.0h-1.0zM88.1 905.7h1.0v1.0h-1.0zM90.7 905.0h1.0v1.0h-1.0zM104.3 915.7h1.0v1.0h-1.0zM91.2 927.3h1.0v1.0h-1.0zM96.9 916.1h1.0v1.0h-1.0zM97.2 912.2h1.0v1.0h-1.0zM99.8 910.6h1.0v1.0h-1.0zM99.4 906.6h1.0v1.0h-1.0zM82.3 933.8h1.0v1.0h-1.0zM92.6 912.6h1.0v1.0h-1.0zM100.9 919.4h1.0v1.0h-1.0zM91.0 909.0h1.0v1.0h-1.0zM104.2 930.1h1.0v1.0h-1.0zM96.3 905.5h1.0v1.0h-1.0zM88.9 892.4h1.0v1.0h-1.0zM97.8 910.6h1.0v1.0h-1.0zM104.8 923.5h1.0v1.0h-1.0zM91.6 934.1h1.0v1.0h-1.0zM97.8 915.4h1.0v1.0h-1.0zM90.6 903.5h1.0v1.0h-1.0zM92.1 910.5h1.0v1.0h-1.0zM95.6 907.3h1.0v1.0h-1.0zM97.6 908.5h1.0v1.0h-1.0zM96.8 916.4h1.0v1.0h-1.0zM96.1 917.9h1.0v1.0h-1.0zM107.1 915.4h1.0v1.0h-1.0zM89.6 921.7h1.0v1.0h-1.0zM85.7 908.1h1.0v1.0h-1.0zM97.8 917.2h1.0v1.0h-1.0zM96.0 910.1h1.0v1.0h-1.0zM87.8 913.7h1.0v1.0h-1.0zM103.7 923.6h1.0v1.0h-1.0zM91.5 918.7h1.0v1.0h-1.0zM87.9 902.4h1.0v1.0h-1.0zM97.1 921.8h1.0v1.0h-1.0zM98.3 911.0h1.0v1.0h-1.0zM106.9 922.5h1.0v1.0h-1.0zM87.3 917.0h1.0v1.0h-1.0zM88.6 925.2h1.0v1.0h-1.0zM93.6 909.4h1.0v1.0h-1.0zM92.8 902.6h1.0v1.0h-1.0zM94.7 915.6h1.0v1.0h-1.0zM91.5 924.1h1.0v1.0h-1.0zM87.2 906.7h1.0v1.0h-1.0zM92.8 936.5h1.0v1.0h-1.0zM98.6 898.6h1.0v1.0h-1.0zM99.0 931.4h1.0v1.0h-1.0zM91.7 923.8h1.0v1.0h-1.0zM97.7 926.8h1.0v1.0h-1.0zM97.1 907.8h1.0v1.0h-1.0zM92.5 926.1h1.0v1.0h-1.0zM93.3 924.7h1.0v1.0h-1.0zM95.3 926.7h1.0v1.0h-1.0zM109.1 920.9h1.0v1.0h-1.0zM95.9 912.7h1.0v1.0h-1.0zM90.6 924.3h1.0v1.0h-1.0zM94.2 917.4h1.0v1.0h-1.0zM92.2 909.4h1.0v1.0h-1.0zM100.8 910.0h1.0v1.0h-1.0zM84.1 910.6h1.0v1.0h-1.0zM89.5 898.2h1.0v1.0h-1.0zM99.2 922.6h1.0v1.0h-1.0zM97.2 917.3h1.0v1.0h-1.0zM95.2 899.8h1.0v1.0h-1.0zM98.7 921.1h1.0v1.0h-1.0zM88.3 922.1h1.0v1.0h-1.0zM96.9 918.1h1.0v1.0h-1.0zM89.3 898.4h1.0v1.0h-1.0zM88.6 904.9h1.0v1.0h-1.0zM97.6 924.1h1.0v1.0h-1.0zM91.0 899.7h1.0v1.0h-1.0zM93.2 909.9h1.0v1.0h-1.0zM98.2 927.5h1.0v1.0h-1.0zM89.8 908.7h1.0v1.0h-1.0zM98.1 910.8h1.0v1.0h-1.0zM106.4 929.1h1.0v1.0h-1.0zM94.1 929.4h1.0v1.0h-1.0zM99.9 921.3h1.0v1.0h-1.0zM99.0 904.1h1.0v1.0h-1.0zM88.7 895.2h1.0v1.0h-1.0zM88.2 908.0h1.0v1.0h-1.0zM95.1 897.2h1.0v1.0h-1.0zM84.3 907.2h1.0v1.0h-1.0zM95.3 923.4h1.0v1.0h-1.0zM96.4 889.8h1.0v1.0h-1.0zM97.4 914.2h1.0v1.0h-1.0zM97.3 919.0h1.0v1.0h-1.0zM101.8 913.4h1.0v1.0h-1.0zM93.4 917.3h1.0v1.0h-1.0zM101.9 923.4h1.0v1.0h-1.0zM97.8 926.2h1.0v1.0h-1.0zM97.8 942.1h1.0v1.0h-1.0zM94.3 917.2h1.0v1.0h-1.0zM99.9 908.8h1.0v1.0h-1.0zM91.3 902.4h1.0v1.0h-1.0zM98.8 904.9h1.0v1.0h-1.0zM100.8 924.8h1.0v1.0h-1.0zM91.7 915.8h1.0v1.0h-1.0zM90.3 916.1h1.0v1.0h-1.0zM91.3 914.1h1.0v1.0h-1.0zM94.9 929.8h1.0v1.0h-1.0zM96.9 926.2h1.0v1.0h-1.0zM99.5 926.9h1.0v1.0h-1.0zM104.7 913.7h1.0v1.0h-1.0zM103.3 916.4h1.0v1.0h-1.0zM96.5 902.8h1.0v1.0h-1.0zM93.2 907.1h1.0v1.0h-1.0zM89.0 911.7h1.0v1.0h-1.0zM99.3 905.3h1.0v1.0h-1.0zM97.7 910.0h1.0v1.0h-1.0zM93.7 933.1h1.0v1.0h-1.0zM94.3 912.3h1.0v1.0h-1.0zM94.5 899.7h1.0v1.0h-1.0zM82.1 894.7h1.0v1.0h-1.0zM94.8 913.5h1.0v1.0h-1.0zM96.8 923.6h1.0v1.0h-1.0zM94.5 913.3h1.0v1.0h-1.0zM89.7 919.6h1.0v1.0h-1.0zM95.4 917.7h1.0v1.0h-1.0zM97.5 905.3h1.0v1.0h-1.0zM104.2 929.9h1.0v1.0h-1.0zM100.5 913.4h1.0v1.0h-1.0zM98.1 934.5h1.0v1.0h-1.0zM94.9 908.7h1.0v1.0h-1.0zM88.3 909.1h1.0v1.0h-1.0zM92.7 907.9h1.0v1.0h-1.0zM88.2 907.8h1.0v1.0h-1.0zM94.6 918.6h1.0v1.0h-1.0zM100.5 916.0h1.0v1.0h-1.0zM100.4 929.1h1.0v1.0h-1.0zM99.7 921.4h1.0v1.0h-1.0zM95.2 929.9h1.0v1.0h-1.0zM100.1 918.3h1.0v1.0h-1.0zM93.7 926.2h1.0v1.0h-1.0zM85.2 920.2h1.0v1.0h-1.0zM95.8 913.6h1.0v1.0h-1.0zM95.3 939.1h1.0v1.0h-1.0zM86.3 923.9h1.0v1.0h-1.0zM92.4 918.3h1.0v1.0h-1.0zM82.7 905.3h1.0v1.0h-1.0zM92.7 912.4h1.0v1.0h-1.0zM101.2 916.7h1.0v1.0h-1.0zM91.8 915.5h1.0v1.0h-1.0zM101.8 907.8h1.0v1.0h-1.0zM96.3 915.9h1.0v1.0h-1.0zM91.4 906.6h1.0v1.0h-1.0zM86.1 925.3h1.0v1.0h-1.0zM98.9 924.4h1.0v1.0h-1.0zM98.5 932.8h1.0v1.0h-1.0zM87.6 933.1h1.0v1.0h-1.0zM93.0 918.1h1.0v1.0h-1.0zM100.7 937.5h1.0v1.0h-1.0zM91.3 916.1h1.0v1.0h-1.0zM97.1 922.0h1.0v1.0h-1.0zM85.2 899.8h1.0v1.0h-1.0zM90.4 912.8h1.0v1.0h-1.0zM98.8 930.8h1.0v1.0h-1.0zM89.1 916.0h1.0v1.0h-1.0zM87.8 906.8h1.0v1.0h-1.0zM88.1 910.6h1.0v1.0h-1.0zM93.2 906.6h1.0v1.0h-1.0zM87.1 903.6h1.0v1.0h-1.0zM94.5 900.7h1.0v1.0h-1.0zM97.9 927.2h1.0v1.0h-1.0zM102.9 930.0h1.0v1.0h-1.0zM93.1 912.5h1.0v1.0h-1.0zM103.3 906.8h1.0v1.0h-1.0zM98.0 914.2h1.0v1.0h-1.0zM94.0 933.4h1.0v1.0h-1.0zM97.7 903.6h1.0v1.0h-1.0zM102.8 914.6h1.0v1.0h-1.0zM102.7 914.8h1.0v1.0h-1.0zM98.9 924.8h1.0v1.0h-1.0zM94.6 902.3h1.0v1.0h-1.0zM99.3 919.9h1.0v1.0h-1.0zM96.2 907.6h1.0v1.0h-1.0zM96.0 911.9h1.0v1.0h-1.0zM96.4 903.9h1.0v1.0h-1.0zM104.3 925.4h1.0v1.0h-1.0zM89.0 906.5h1.0v1.0h-1.0zM94.7 908.9h1.0v1.0h-1.0zM89.6 922.0h1.0v1.0h-1.0zM99.5 920.8h1.0v1.0h-1.0zM100.7 940.9h1.0v1.0h-1.0zM102.0 923.0h1.0v1.0h-1.0zM93.3 914.6h1.0v1.0h-1.0zM95.4 916.2h1.0v1.0h-1.0zM96.1 927.4h1.0v1.0h-1.0zM96.6 913.1h1.0v1.0h-1.0zM96.1 918.6h1.0v1.0h-1.0zM96.5 910.8h1.0v1.0h-1.0zM94.6 920.9h1.0v1.0h-1.0zM97.4 911.4h1.0v1.0h-1.0zM87.7 905.1h1.0v1.0h-1.0zM93.0 917.9h1.0v1.0h-1.0zM88.4 923.9h1.0v1.0h-1.0zM94.7 922.8h1.0v1.0h-1.0zM91.4 919.9h1.0v1.0h-1.0zM97.9 916.9h1.0v1.0h-1.0zM101.5 895.5h1.0v1.0h-1.0zM88.9 909.5h1.0v1.0h-1.0zM91.2 910.5h1.0v1.0h-1.0zM96.8 921.0h1.0v1.0h-1.0zM102.4 936.1h1.0v1.0h-1.0zM99.1 924.5h1.0v1.0h-1.0zM97.4 899.5h1.0v1.0h-1.0zM94.9 914.9h1.0v1.0h-1.0zM92.9 911.2h1.0v1.0h-1.0zM97.1 922.9h1.0v1.0h-1.0zM97.7 915.8h1.0v1.0h-1.0zM96.0 896.9h1.0v1.0h-1.0zM92.2 904.3h1.0v1.0h-1.0zM87.0 906.8h1.0v1.0h-1.0zM90.8 892.5h1.0v1.0h-1.0zM93.2 912.4h1.0v1.0h-1.0zM89.3 908.5h1.0v1.0h-1.0zM96.8 926.0h1.0v1.0h-1.0zM87.9 909.3h1.0v1.0h-1.0zM93.6 907.8h1.0v1.0h-1.0zM96.9 914.5h1.0v1.0h-1.0zM99.3 917.3h1.0v1.0h-1.0zM96.4 924.7h1.0v1.0h-1.0zM101.2 909.1h1.0v1.0h-1.0zM92.1 891.1h1.0v1.0h-1.0zM91.2 938.8h1.0v1.0h-1.0zM100.6 925.2h1.0v1.0h-1.0zM90.7 912.3h1.0v1.0h-1.0zM94.3 937.5h1.0v1.0h-1.0zM86.4 898.3h1.0v1.0h-1.0zM100.8 910.4h1.0v1.0h-1.0zM98.8 912.5h1.0v1.0h-1.0zM91.3 917.0h1.0v1.0h-1.0zM86.3 904.8h1.0v1.0h-1.0zM96.4 922.9h1.0v1.0h-1.0zM96.5 912.0h1.0v1.0h-1.0zM101.0 930.6h1.0v1.0h-1.0zM104.5 924.7h1.0v1.0h-1.0zM96.3 899.2h1.0v1.0h-1.0zM94.0 913.6h1.0v1.0h-1.0zM93.9 902.8h1.0v1.0h-1.0zM93.6 912.3h1.0v1.0h-1.0zM88.2 910.3h1.0v1.0h-1.0zM90.6 933.4h1.0v1.0h-1.0zM94.7 911.9h1.0v1.0h-1.0zM86.8 893.9h1.0v1.0h-1.0zM88.5 911.5h1.0v1.0h-1.0zM101.3 906.9h1.0v1.0h-1.0zM91.7 930.1h1.0v1.0h-1.0zM99.2 923.7h1.0v1.0h-1.0zM100.7 933.0h1.0v1.0h-1.0zM95.2 910.6h1.0v1.0h-1.0zM99.3 906.8h1.0v1.0h-1.0zM94.2 916.7h1.0v1.0h-1.0zM90.7 898.4h1.0v1.0h-1.0zM94.6 904.7h1.0v1.0h-1.0zM95.5 907.2h1.0v1.0h-1.0zM95.7 913.3h1.0v1.0h-1.0zM95.5 899.8h1.0v1.0h-1.0zM93.1 893.2h1.0v1.0h-1.0zM100.5 931.5h1.0v1.0h-1.0zM94.1 908.5h1.0v1.0h-1.0zM93.0 911.3h1.0v1.0h-1.0zM99.8 923.0h1.0v1.0h-1.0zM90.1 915.6h1.0v1.0h-1.0zM95.1 908.0h1.0v1.0h-1.0zM102.6 914.5h1.0v1.0h-1.0zM95.5 930.3h1.0v1.0h-1.0zM102.3 930.9h1.0v1.0h-1.0zM93.9 920.9h1.0v1.0h-1.0zM92.6 929.1h1.0v1.0h-1.0zM94.4 895.7h1.0v1.0h-1.0zM92.4 914.1h1.0v1.0h-1.0zM93.4 910.7h1.0v1.0h-1.0zM93.0 894.5h1.0v1.0h-1.0zM99.2 920.3h1.0v1.0h-1.0zM97.2 922.0h1.0v1.0h-1.0zM94.1 916.5h1.0v1.0h-1.0zM91.4 894.8h1.0v1.0h-1.0zM111.3 922.2h1.0v1.0h-1.0zM94.2 916.1h1.0v1.0h-1.0zM102.2 916.5h1.0v1.0h-1.0zM89.3 913.8h1.0v1.0h-1.0zM91.5 917.3h1.0v1.0h-1.0zM101.4 932.2h1.0v1.0h-1.0zM89.7 913.6h1.0v1.0h-1.0zM89.8 937.1h1.0v1.0h-1.0zM94.9 916.6h1.0v1.0h-1.0zM91.5 915.3h1.0v1.0h-1.0zM93.7 921.4h1.0v1.0h-1.0zM96.0 914.5h1.0v1.0h-1.0zM99.6 914.2h1.0v1.0h-1.0zM123.3 874.1h1.0v1.0h-1.0zM88.8 892.9h1.0v1.0h-1.0zM92.6 898.8h1.0v1.0h-1.0zM131.8 873.4h1.0v1.0h-1.0zM118.2 880.3h1.0v1.0h-1.0zM116.2 884.5h1.0v1.0h-1.0zM113.8 886.3h1.0v1.0h-1.0zM113.6 874.9h1.0v1.0h-1.0zM101.0 877.4h1.0v1.0h-1.0zM107.8 870.2h1.0v1.0h-1.0zM100.3 892.6h1.0v1.0h-1.0zM122.5 864.0h1.0v1.0h-1.0zM117.2 863.4h1.0v1.0h-1.0zM113.2 867.6h1.0v1.0h-1.0zM114.7 872.6h1.0v1.0h-1.0zM109.4 880.8h1.0v1.0h-1.0zM99.0 883.5h1.0v1.0h-1.0zM128.1 854.9h1.0v1.0h-1.0zM117.4 878.1h1.0v1.0h-1.0zM109.0 856.8h1.0v1.0h-1.0zM116.8 869.9h1.0v1.0h-1.0zM123.8 878.3h1.0v1.0h-1.0zM122.8 871.3h1.0v1.0h-1.0zM117.5 884.2h1.0v1.0h-1.0zM119.2 872.3h1.0v1.0h-1.0zM108.5 884.7h1.0v1.0h-1.0zM124.6 867.7h1.0v1.0h-1.0zM120.5 866.0h1.0v1.0h-1.0zM120.5 874.0h1.0v1.0h-1.0zM97.6 896.3h1.0v1.0h-1.0zM117.4 853.1h1.0v1.0h-1.0zM117.6 864.2h1.0v1.0h-1.0zM119.0 850.6h1.0v1.0h-1.0zM84.3 886.9h1.0v1.0h-1.0zM91.7 878.1h1.0v1.0h-1.0zM113.6 870.2h1.0v1.0h-1.0zM101.1 881.0h1.0v1.0h-1.0zM114.7 883.5h1.0v1.0h-1.0zM109.8 889.7h1.0v1.0h-1.0zM119.5 862.7h1.0v1.0h-1.0zM104.9 876.2h1.0v1.0h-1.0zM99.8 890.9h1.0v1.0h-1.0zM116.0 866.8h1.0v1.0h-1.0zM107.8 875.0h1.0v1.0h-1.0zM98.6 867.4h1.0v1.0h-1.0zM90.3 898.7h1.0v1.0h-1.0zM142.7 856.4h1.0v1.0h-1.0zM106.8 870.2h1.0v1.0h-1.0zM108.0 865.7h1.0v1.0h-1.0zM90.4 881.0h1.0v1.0h-1.0zM100.1 888.8h1.0v1.0h-1.0zM108.8 873.4h1.0v1.0h-1.0zM113.8 862.6h1.0v1.0h-1.0zM118.4 868.0h1.0v1.0h-1.0zM102.8 891.0h1.0v1.0h-1.0zM115.4 885.8h1.0v1.0h-1.0zM122.3 881.8h1.0v1.0h-1.0zM105.2 882.2h1.0v1.0h-1.0zM109.7 880.3h1.0v1.0h-1.0zM91.9 893.5h1.0v1.0h-1.0zM102.0 889.9h1.0v1.0h-1.0zM96.2 893.3h1.0v1.0h-1.0zM117.3 862.9h1.0v1.0h-1.0zM108.6 871.5h1.0v1.0h-1.0zM126.8 861.8h1.0v1.0h-1.0zM112.4 882.9h1.0v1.0h-1.0zM118.6 866.4h1.0v1.0h-1.0zM115.7 866.0h1.0v1.0h-1.0zM112.5 885.9h1.0v1.0h-1.0zM99.4 899.6h1.0v1.0h-1.0zM127.4 856.2h1.0v1.0h-1.0zM109.5 876.7h1.0v1.0h-1.0zM91.5 902.3h1.0v1.0h-1.0zM104.5 877.7h1.0v1.0h-1.0zM99.1 894.5h1.0v1.0h-1.0zM122.6 854.8h1.0v1.0h-1.0zM121.2 867.4h1.0v1.0h-1.0zM126.2 872.5h1.0v1.0h-1.0zM133.0 876.2h1.0v1.0h-1.0zM103.8 891.5h1.0v1.0h-1.0zM91.0 875.5h1.0v1.0h-1.0zM100.7 869.3h1.0v1.0h-1.0zM114.7 865.8h1.0v1.0h-1.0zM82.5 905.6h1.0v1.0h-1.0zM104.2 889.0h1.0v1.0h-1.0zM119.2 881.7h1.0v1.0h-1.0zM101.6 890.4h1.0v1.0h-1.0zM109.2 872.6h1.0v1.0h-1.0zM101.1 880.4h1.0v1.0h-1.0zM128.5 855.6h1.0v1.0h-1.0zM130.6 870.9h1.0v1.0h-1.0zM99.9 872.5h1.0v1.0h-1.0zM101.7 884.2h1.0v1.0h-1.0zM111.8 878.7h1.0v1.0h-1.0zM117.7 884.1h1.0v1.0h-1.0zM115.1 866.5h1.0v1.0h-1.0zM117.5 876.2h1.0v1.0h-1.0zM121.0 859.9h1.0v1.0h-1.0zM123.4 878.0h1.0v1.0h-1.0zM130.5 859.3h1.0v1.0h-1.0zM113.0 872.4h1.0v1.0h-1.0zM106.4 870.9h1.0v1.0h-1.0zM110.6 871.3h1.0v1.0h-1.0zM134.6 853.6h1.0v1.0h-1.0zM120.2 864.3h1.0v1.0h-1.0zM119.0 882.5h1.0v1.0h-1.0zM125.6 856.8h1.0v1.0h-1.0zM124.4 869.6h1.0v1.0h-1.0zM136.2 867.0h1.0v1.0h-1.0zM103.3 871.4h1.0v1.0h-1.0zM113.8 853.9h1.0v1.0h-1.0zM119.5 875.4h1.0v1.0h-1.0zM120.2 854.2h1.0v1.0h-1.0zM107.6 871.7h1.0v1.0h-1.0zM94.8 887.7h1.0v1.0h-1.0zM108.8 881.2h1.0v1.0h-1.0zM104.4 879.1h1.0v1.0h-1.0zM110.5 870.4h1.0v1.0h-1.0zM123.0 878.0h1.0v1.0h-1.0zM118.8 873.5h1.0v1.0h-1.0zM99.6 903.9h1.0v1.0h-1.0zM103.7 873.4h1.0v1.0h-1.0zM113.5 874.3h1.0v1.0h-1.0zM123.3 867.7h1.0v1.0h-1.0zM110.7 882.4h1.0v1.0h-1.0zM113.6 877.3h1.0v1.0h-1.0zM95.6 888.3h1.0v1.0h-1.0zM106.2 899.5h1.0v1.0h-1.0zM103.0 881.2h1.0v1.0h-1.0zM113.3 879.6h1.0v1.0h-1.0zM108.3 880.7h1.0v1.0h-1.0zM102.0 877.5h1.0v1.0h-1.0zM99.7 892.3h1.0v1.0h-1.0zM113.1 857.3h1.0v1.0h-1.0zM104.1 893.1h1.0v1.0h-1.0zM122.7 853.4h1.0v1.0h-1.0zM112.4 872.9h1.0v1.0h-1.0zM108.0 880.1h1.0v1.0h-1.0zM120.2 865.6h1.0v1.0h-1.0zM98.3 881.0h1.0v1.0h-1.0zM120.2 882.0h1.0v1.0h-1.0zM103.2 905.9h1.0v1.0h-1.0zM118.2 882.0h1.0v1.0h-1.0zM103.6 883.9h1.0v1.0h-1.0zM100.8 878.2h1.0v1.0h-1.0zM91.4 883.6h1.0v1.0h-1.0zM111.0 888.8h1.0v1.0h-1.0zM115.6 882.4h1.0v1.0h-1.0zM96.0 900.6h1.0v1.0h-1.0zM128.9 873.9h1.0v1.0h-1.0zM110.3 890.4h1.0v1.0h-1.0zM98.8 880.0h1.0v1.0h-1.0zM130.8 855.1h1.0v1.0h-1.0zM106.2 870.6h1.0v1.0h-1.0zM125.6 866.2h1.0v1.0h-1.0zM81.2 896.6h1.0v1.0h-1.0zM132.8 862.4h1.0v1.0h-1.0zM112.4 864.3h1.0v1.0h-1.0zM110.4 879.1h1.0v1.0h-1.0zM113.7 882.8h1.0v1.0h-1.0zM98.4 886.8h1.0v1.0h-1.0zM120.0 844.3h1.0v1.0h-1.0zM114.9 873.9h1.0v1.0h-1.0zM113.7 871.5h1.0v1.0h-1.0zM104.5 890.6h1.0v1.0h-1.0zM98.3 884.6h1.0v1.0h-1.0zM114.1 880.9h1.0v1.0h-1.0zM118.8 867.6h1.0v1.0h-1.0zM111.8 879.6h1.0v1.0h-1.0zM108.2 888.4h1.0v1.0h-1.0zM104.9 878.7h1.0v1.0h-1.0zM117.7 875.1h1.0v1.0h-1.0zM125.3 868.2h1.0v1.0h-1.0zM108.7 884.5h1.0v1.0h-1.0zM101.5 882.7h1.0v1.0h-1.0zM135.8 863.7h1.0v1.0h-1.0zM94.2 871.3h1.0v1.0h-1.0zM113.0 873.3h1.0v1.0h-1.0zM109.2 886.2h1.0v1.0h-1.0zM123.8 874.2h1.0v1.0h-1.0zM108.9 869.1h1.0v1.0h-1.0zM93.1 882.1h1.0v1.0h-1.0zM98.6 889.7h1.0v1.0h-1.0zM111.4 880.1h1.0v1.0h-1.0zM110.0 882.1h1.0v1.0h-1.0zM103.4 883.0h1.0v1.0h-1.0zM104.5 882.7h1.0v1.0h-1.0zM94.1 899.1h1.0v1.0h-1.0zM95.0 879.5h1.0v1.0h-1.0zM103.8 868.7h1.0v1.0h-1.0zM103.2 892.3h1.0v1.0h-1.0zM108.8 871.1h1.0v1.0h-1.0zM98.1 892.8h1.0v1.0h-1.0zM126.4 859.3h1.0v1.0h-1.0zM92.2 879.8h1.0v1.0h-1.0zM119.3 885.9h1.0v1.0h-1.0zM116.0 872.6h1.0v1.0h-1.0zM126.7 852.0h1.0v1.0h-1.0zM124.7 864.9h1.0v1.0h-1.0zM96.8 885.4h1.0v1.0h-1.0zM114.1 872.6h1.0v1.0h-1.0zM118.3 873.2h1.0v1.0h-1.0zM120.2 859.1h1.0v1.0h-1.0zM115.8 870.6h1.0v1.0h-1.0zM104.7 885.7h1.0v1.0h-1.0zM123.9 873.5h1.0v1.0h-1.0zM109.4 878.8h1.0v1.0h-1.0zM105.6 873.0h1.0v1.0h-1.0zM112.5 856.7h1.0v1.0h-1.0zM106.0 894.5h1.0v1.0h-1.0zM103.8 871.2h1.0v1.0h-1.0zM111.9 871.8h1.0v1.0h-1.0zM137.7 857.7h1.0v1.0h-1.0zM114.0 879.0h1.0v1.0h-1.0zM111.5 876.2h1.0v1.0h-1.0zM106.1 872.5h1.0v1.0h-1.0zM114.3 874.1h1.0v1.0h-1.0zM98.5 905.7h1.0v1.0h-1.0zM115.7 897.5h1.0v1.0h-1.0zM113.5 872.9h1.0v1.0h-1.0zM111.6 882.6h1.0v1.0h-1.0zM115.6 856.7h1.0v1.0h-1.0zM108.7 880.6h1.0v1.0h-1.0zM117.5 879.0h1.0v1.0h-1.0zM116.2 870.2h1.0v1.0h-1.0zM116.5 890.5h1.0v1.0h-1.0zM110.8 885.5h1.0v1.0h-1.0zM119.8 876.5h1.0v1.0h-1.0zM108.8 853.3h1.0v1.0h-1.0zM123.9 861.7h1.0v1.0h-1.0zM109.6 884.8h1.0v1.0h-1.0zM123.8 862.9h1.0v1.0h-1.0zM113.3 858.3h1.0v1.0h-1.0zM110.4 871.8h1.0v1.0h-1.0zM100.4 899.2h1.0v1.0h-1.0zM117.2 879.0h1.0v1.0h-1.0zM114.4 882.8h1.0v1.0h-1.0zM111.2 878.6h1.0v1.0h-1.0zM114.9 889.7h1.0v1.0h-1.0zM112.1 849.2h1.0v1.0h-1.0zM101.3 872.4h1.0v1.0h-1.0zM98.7 904.3h1.0v1.0h-1.0zM117.2 882.6h1.0v1.0h-1.0zM112.6 878.2h1.0v1.0h-1.0zM126.4 862.6h1.0v1.0h-1.0zM131.4 844.8h1.0v1.0h-1.0zM119.3 866.9h1.0v1.0h-1.0zM117.3 871.1h1.0v1.0h-1.0zM116.6 864.1h1.0v1.0h-1.0zM111.8 889.6h1.0v1.0h-1.0zM104.2 891.8h1.0v1.0h-1.0zM83.8 893.9h1.0v1.0h-1.0zM118.6 880.2h1.0v1.0h-1.0zM116.8 872.4h1.0v1.0h-1.0zM111.1 879.5h1.0v1.0h-1.0zM112.1 871.6h1.0v1.0h-1.0zM120.7 893.9h1.0v1.0h-1.0zM120.2 856.0h1.0v1.0h-1.0zM112.8 874.4h1.0v1.0h-1.0zM108.2 889.0h1.0v1.0h-1.0zM117.0 882.6h1.0v1.0h-1.0zM119.0 855.6h1.0v1.0h-1.0zM133.5 851.7h1.0v1.0h-1.0zM101.5 883.0h1.0v1.0h-1.0zM115.9 865.8h1.0v1.0h-1.0zM101.8 877.2h1.0v1.0h-1.0zM106.1 878.1h1.0v1.0h-1.0zM134.9 858.4h1.0v1.0h-1.0zM106.5 890.9h1.0v1.0h-1.0zM109.5 861.7h1.0v1.0h-1.0zM104.9 891.6h1.0v1.0h-1.0zM119.6 868.6h1.0v1.0h-1.0zM106.5 885.9h1.0v1.0h-1.0zM93.7 886.2h1.0v1.0h-1.0zM112.2 898.8h1.0v1.0h-1.0zM119.2 853.8h1.0v1.0h-1.0zM110.5 888.9h1.0v1.0h-1.0zM112.4 871.8h1.0v1.0h-1.0zM103.6 880.2h1.0v1.0h-1.0zM101.1 897.9h1.0v1.0h-1.0zM110.8 875.3h1.0v1.0h-1.0zM99.0 894.4h1.0v1.0h-1.0zM106.1 894.6h1.0v1.0h-1.0zM100.5 878.9h1.0v1.0h-1.0zM108.2 898.6h1.0v1.0h-1.0zM118.8 883.7h1.0v1.0h-1.0zM110.3 875.6h1.0v1.0h-1.0zM122.3 871.2h1.0v1.0h-1.0zM114.4 867.9h1.0v1.0h-1.0zM109.2 881.3h1.0v1.0h-1.0zM101.3 892.6h1.0v1.0h-1.0zM111.6 886.5h1.0v1.0h-1.0zM98.6 888.3h1.0v1.0h-1.0zM118.3 867.0h1.0v1.0h-1.0zM96.7 881.3h1.0v1.0h-1.0zM96.2 878.6h1.0v1.0h-1.0zM101.7 881.2h1.0v1.0h-1.0zM93.3 895.8h1.0v1.0h-1.0zM111.6 871.2h1.0v1.0h-1.0zM102.5 876.7h1.0v1.0h-1.0zM105.7 870.8h1.0v1.0h-1.0zM116.8 878.5h1.0v1.0h-1.0zM87.7 891.4h1.0v1.0h-1.0zM107.9 863.8h1.0v1.0h-1.0zM114.1 885.7h1.0v1.0h-1.0zM120.9 880.3h1.0v1.0h-1.0zM111.8 876.8h1.0v1.0h-1.0zM103.5 879.2h1.0v1.0h-1.0zM120.0 870.4h1.0v1.0h-1.0zM119.9 861.8h1.0v1.0h-1.0zM133.2 870.9h1.0v1.0h-1.0zM132.5 875.0h1.0v1.0h-1.0zM108.3 889.0h1.0v1.0h-1.0zM124.5 869.7h1.0v1.0h-1.0zM112.6 878.3h1.0v1.0h-1.0zM100.0 890.2h1.0v1.0h-1.0zM117.7 888.8h1.0v1.0h-1.0zM123.9 860.3h1.0v1.0h-1.0zM86.3 894.8h1.0v1.0h-1.0zM124.1 861.1h1.0v1.0h-1.0zM101.9 872.0h1.0v1.0h-1.0zM127.0 868.9h1.0v1.0h-1.0zM112.9 886.7h1.0v1.0h-1.0zM112.0 866.3h1.0v1.0h-1.0zM124.8 876.7h1.0v1.0h-1.0zM107.0 886.5h1.0v1.0h-1.0zM131.9 866.6h1.0v1.0h-1.0zM100.6 897.8h1.0v1.0h-1.0zM104.3 875.7h1.0v1.0h-1.0zM99.3 901.2h1.0v1.0h-1.0zM97.8 882.3h1.0v1.0h-1.0zM103.2 901.4h1.0v1.0h-1.0zM90.7 903.1h1.0v1.0h-1.0zM105.8 909.4h1.0v1.0h-1.0zM100.1 903.9h1.0v1.0h-1.0zM96.5 912.4h1.0v1.0h-1.0zM93.7 901.4h1.0v1.0h-1.0zM101.1 891.1h1.0v1.0h-1.0zM107.9 905.9h1.0v1.0h-1.0zM103.1 888.8h1.0v1.0h-1.0zM97.9 890.6h1.0v1.0h-1.0zM95.3 900.5h1.0v1.0h-1.0zM93.6 894.5h1.0v1.0h-1.0zM97.9 905.2h1.0v1.0h-1.0zM90.3 893.4h1.0v1.0h-1.0zM97.6 913.3h1.0v1.0h-1.0zM106.5 887.6h1.0v1.0h-1.0zM99.5 903.2h1.0v1.0h-1.0zM99.0 892.6h1.0v1.0h-1.0zM96.3 909.6h1.0v1.0h-1.0zM104.2 891.6h1.0v1.0h-1.0zM103.7 903.8h1.0v1.0h-1.0zM108.4 868.2h1.0v1.0h-1.0zM95.7 890.2h1.0v1.0h-1.0zM93.2 911.8h1.0v1.0h-1.0zM96.2 898.6h1.0v1.0h-1.0zM92.4 897.7h1.0v1.0h-1.0zM99.5 904.9h1.0v1.0h-1.0zM97.2 918.7h1.0v1.0h-1.0zM94.6 887.0h1.0v1.0h-1.0zM99.5 896.2h1.0v1.0h-1.0zM105.8 892.8h1.0v1.0h-1.0zM104.1 903.3h1.0v1.0h-1.0zM96.0 890.6h1.0v1.0h-1.0zM100.0 882.8h1.0v1.0h-1.0zM101.7 883.2h1.0v1.0h-1.0zM103.8 902.9h1.0v1.0h-1.0zM97.7 898.8h1.0v1.0h-1.0zM92.1 904.7h1.0v1.0h-1.0zM101.9 882.5h1.0v1.0h-1.0zM94.0 888.8h1.0v1.0h-1.0zM97.6 892.0h1.0v1.0h-1.0zM98.2 904.6h1.0v1.0h-1.0zM105.3 901.0h1.0v1.0h-1.0zM96.9 895.4h1.0v1.0h-1.0zM100.8 887.9h1.0v1.0h-1.0zM98.5 898.7h1.0v1.0h-1.0zM96.5 892.7h1.0v1.0h-1.0zM105.0 905.0h1.0v1.0h-1.0zM97.0 912.8h1.0v1.0h-1.0zM102.6 898.1h1.0v1.0h-1.0zM101.5 886.9h1.0v1.0h-1.0zM88.7 918.5h1.0v1.0h-1.0zM89.9 902.7h1.0v1.0h-1.0zM80.9 901.9h1.0v1.0h-1.0zM101.5 898.1h1.0v1.0h-1.0zM101.3 898.6h1.0v1.0h-1.0zM96.6 897.9h1.0v1.0h-1.0zM96.6 899.4h1.0v1.0h-1.0zM97.9 883.5h1.0v1.0h-1.0zM96.0 890.6h1.0v1.0h-1.0zM99.5 896.2h1.0v1.0h-1.0zM99.6 898.4h1.0v1.0h-1.0zM94.4 898.8h1.0v1.0h-1.0zM108.3 900.9h1.0v1.0h-1.0zM105.8 880.6h1.0v1.0h-1.0zM97.3 888.3h1.0v1.0h-1.0zM112.8 891.0h1.0v1.0h-1.0zM114.5 898.3h1.0v1.0h-1.0zM107.2 895.3h1.0v1.0h-1.0zM107.0 915.0h1.0v1.0h-1.0zM96.3 893.6h1.0v1.0h-1.0zM97.9 894.9h1.0v1.0h-1.0zM90.3 883.0h1.0v1.0h-1.0zM97.3 913.6h1.0v1.0h-1.0zM105.7 897.8h1.0v1.0h-1.0zM97.4 896.0h1.0v1.0h-1.0zM89.8 891.2h1.0v1.0h-1.0zM109.4 897.9h1.0v1.0h-1.0zM111.6 893.9h1.0v1.0h-1.0zM108.9 908.1h1.0v1.0h-1.0zM90.7 889.8h1.0v1.0h-1.0zM104.8 893.2h1.0v1.0h-1.0zM94.9 892.3h1.0v1.0h-1.0zM99.0 902.4h1.0v1.0h-1.0zM104.0 900.1h1.0v1.0h-1.0zM109.0 906.0h1.0v1.0h-1.0zM96.1 902.0h1.0v1.0h-1.0zM97.8 902.3h1.0v1.0h-1.0zM92.3 897.6h1.0v1.0h-1.0zM99.9 905.3h1.0v1.0h-1.0zM94.0 901.5h1.0v1.0h-1.0zM96.9 900.1h1.0v1.0h-1.0zM104.4 882.6h1.0v1.0h-1.0zM99.8 892.9h1.0v1.0h-1.0zM100.6 890.9h1.0v1.0h-1.0zM101.5 880.7h1.0v1.0h-1.0zM104.7 908.9h1.0v1.0h-1.0zM108.2 910.2h1.0v1.0h-1.0zM92.9 906.9h1.0v1.0h-1.0zM125.0 919.1h1.0v1.0h-1.0zM140.6 867.0h1.0v1.0h-1.0zM86.5 904.1h1.0v1.0h-1.0zM136.9 904.8h1.0v1.0h-1.0zM80.5 914.6h1.0v1.0h-1.0zM117.8 923.1h1.0v1.0h-1.0zM117.1 917.0h1.0v1.0h-1.0zM123.9 892.5h1.0v1.0h-1.0zM126.2 916.3h1.0v1.0h-1.0zM127.2 892.8h1.0v1.0h-1.0zM103.1 917.3h1.0v1.0h-1.0zM103.5 902.1h1.0v1.0h-1.0zM100.8 902.0h1.0v1.0h-1.0zM117.2 907.1h1.0v1.0h-1.0zM109.2 879.4h1.0v1.0h-1.0zM87.9 899.8h1.0v1.0h-1.0zM131.4 885.7h1.0v1.0h-1.0zM95.5 919.8h1.0v1.0h-1.0zM106.6 925.3h1.0v1.0h-1.0zM102.3 881.7h1.0v1.0h-1.0zM102.2 868.9h1.0v1.0h-1.0zM124.8 908.8h1.0v1.0h-1.0zM103.1 895.7h1.0v1.0h-1.0zM90.4 890.0h1.0v1.0h-1.0zM103.6 941.6h1.0v1.0h-1.0zM97.3 898.2h1.0v1.0h-1.0zM88.7 888.4h1.0v1.0h-1.0zM130.5 900.4h1.0v1.0h-1.0zM134.6 909.5h1.0v1.0h-1.0zM90.3 930.2h1.0v1.0h-1.0zM141.6 909.8h1.0v1.0h-1.0zM146.1 884.8h1.0v1.0h-1.0zM91.2 897.0h1.0v1.0h-1.0zM122.0 934.4h1.0v1.0h-1.0zM110.1 877.0h1.0v1.0h-1.0zM129.0 904.1h1.0v1.0h-1.0zM64.8 923.8h1.0v1.0h-1.0zM125.5 909.2h1.0v1.0h-1.0zM108.6 901.5h1.0v1.0h-1.0zM123.0 890.7h1.0v1.0h-1.0z" fill="#0000f0" fill-opacity="0.62"/>
<path d="M96.6 904.8h1.0v1.0h-1.0zM98.1 914.7h1.0v1.0h-1.0zM96.9 890.1h1.0v1.0h-1.0zM100.1 911.7h1.0v1.0h-1.0zM96.8 913.8h1.0v1.0h-1.0zM101.2 908.5h1.0v1.0h-1.0z" fill="#e06000" fill-opacity="0.7"/>
<path d="M96.6 913.6h1.0v1.0h-1.0zM99.7 919.3h1.0v1.0h-1.0zM94.7 925.1h1.0v1.0h-1.0zM103.0 916.4h1.0v1.0h-1.0zM101.1 903.1h1.0v1.0h-1.0zM98.8 895.8h1.0v1.0h-1.0z" fill="#d0d040" fill-opacity="0.7"/>
<path d="M95.7 909.4h1.0v1.0h-1.0zM97.8 909.2h1.0v1.0h-1.0zM98.3 911.5h1.0v1.0h-1.0zM96.2 912.4h1.0v1.0h-1.0z" fill="#c03000" fill-opacity="0.45"/>
<ellipse cx="119.8" cy="875.2" rx="33.4" ry="28" transform="rotate(-35 119.8 875.2)" fill="none" stroke="#1a1a1a" stroke-width="1"/>
<line x1="186.10000000000002" y1="836.5" x2="189.3" y2="836.5" stroke="#444" stroke-width="1.0"/>
<rect x="184.1" y="835.1" width="1.6" height="2.4" fill="#999"/>
<line x1="186.10000000000002" y1="864.5" x2="189.3" y2="864.5" stroke="#444" stroke-width="1.0"/>
<rect x="184.1" y="863.1" width="1.6" height="2.4" fill="#999"/>
<line x1="186.10000000000002" y1="897.5" x2="189.3" y2="897.5" stroke="#444" stroke-width="1.0"/>
<rect x="184.1" y="896.6" width="1.6" height="2.4" fill="#999"/>
<line x1="186.10000000000002" y1="937.5" x2="189.3" y2="937.5" stroke="#444" stroke-width="1.0"/>
<rect x="184.1" y="936.0" width="1.6" height="2.4" fill="#999"/>
<line x1="187.5" y1="855.5" x2="189.3" y2="855.5" stroke="#777" stroke-width="0.7"/>
<line x1="187.5" y1="850.5" x2="189.3" y2="850.5" stroke="#777" stroke-width="0.7"/>
<line x1="187.5" y1="847.5" x2="189.3" y2="847.5" stroke="#777" stroke-width="0.7"/>
<line x1="187.5" y1="844.5" x2="189.3" y2="844.5" stroke="#777" stroke-width="0.7"/>
<line x1="187.5" y1="842.5" x2="189.3" y2="842.5" stroke="#777" stroke-width="0.7"/>
<line x1="187.5" y1="840.5" x2="189.3" y2="840.5" stroke="#777" stroke-width="0.7"/>
<line x1="187.5" y1="839.5" x2="189.3" y2="839.5" stroke="#777" stroke-width="0.7"/>
<line x1="187.5" y1="837.5" x2="189.3" y2="837.5" stroke="#777" stroke-width="0.7"/>
<line x1="187.5" y1="887.5" x2="189.3" y2="887.5" stroke="#777" stroke-width="0.7"/>
<line x1="187.5" y1="881.5" x2="189.3" y2="881.5" stroke="#777" stroke-width="0.7"/>
<line x1="187.5" y1="877.5" x2="189.3" y2="877.5" stroke="#777" stroke-width="0.7"/>
<line x1="187.5" y1="874.5" x2="189.3" y2="874.5" stroke="#777" stroke-width="0.7"/>
<line x1="187.5" y1="871.5" x2="189.3" y2="871.5" stroke="#777" stroke-width="0.7"/>
<line x1="187.5" y1="869.5" x2="189.3" y2="869.5" stroke="#777" stroke-width="0.7"/>
<line x1="187.5" y1="867.5" x2="189.3" y2="867.5" stroke="#777" stroke-width="0.7"/>
<line x1="187.5" y1="865.5" x2="189.3" y2="865.5" stroke="#777" stroke-width="0.7"/>
<line x1="187.5" y1="925.5" x2="189.3" y2="925.5" stroke="#777" stroke-width="0.7"/>
<line x1="187.5" y1="918.5" x2="189.3" y2="918.5" stroke="#777" stroke-width="0.7"/>
<line x1="187.5" y1="913.5" x2="189.3" y2="913.5" stroke="#777" stroke-width="0.7"/>
<line x1="187.5" y1="909.5" x2="189.3" y2="909.5" stroke="#777" stroke-width="0.7"/>
<line x1="187.5" y1="906.5" x2="189.3" y2="906.5" stroke="#777" stroke-width="0.7"/>
<line x1="187.5" y1="903.5" x2="189.3" y2="903.5" stroke="#777" stroke-width="0.7"/>
<line x1="187.5" y1="901.5" x2="189.3" y2="901.5" stroke="#777" stroke-width="0.7"/>
<line x1="187.5" y1="899.5" x2="189.3" y2="899.5" stroke="#777" stroke-width="0.7"/>
<rect x="184.9" y="915.7" width="3.8" height="4.2" fill="#222"/>
<line x1="195.5" y1="945.3" x2="195.5" y2="948.5" stroke="#333" stroke-width="1.0"/>
<line x1="237.5" y1="945.3" x2="237.5" y2="948.5" stroke="#333" stroke-width="1.0"/>
<line x1="271.5" y1="945.3" x2="271.5" y2="948.5" stroke="#333" stroke-width="1.0"/>
<line x1="301.5" y1="945.3" x2="301.5" y2="948.5" stroke="#333" stroke-width="1.0"/>
<line x1="208.5" y1="945.3" x2="208.5" y2="947.0999999999999" stroke="#777" stroke-width="0.7"/>
<line x1="215.5" y1="945.3" x2="215.5" y2="947.0999999999999" stroke="#777" stroke-width="0.7"/>
<line x1="220.5" y1="945.3" x2="220.5" y2="947.0999999999999" stroke="#777" stroke-width="0.7"/>
<line x1="224.5" y1="945.3" x2="224.5" y2="947.0999999999999" stroke="#777" stroke-width="0.7"/>
<line x1="227.5" y1="945.3" x2="227.5" y2="947.0999999999999" stroke="#777" stroke-width="0.7"/>
<line x1="230.5" y1="945.3" x2="230.5" y2="947.0999999999999" stroke="#777" stroke-width="0.7"/>
<line x1="233.5" y1="945.3" x2="233.5" y2="947.0999999999999" stroke="#777" stroke-width="0.7"/>
<line x1="235.5" y1="945.3" x2="235.5" y2="947.0999999999999" stroke="#777" stroke-width="0.7"/>
<line x1="247.5" y1="945.3" x2="247.5" y2="947.0999999999999" stroke="#777" stroke-width="0.7"/>
<line x1="253.5" y1="945.3" x2="253.5" y2="947.0999999999999" stroke="#777" stroke-width="0.7"/>
<line x1="258.5" y1="945.3" x2="258.5" y2="947.0999999999999" stroke="#777" stroke-width="0.7"/>
<line x1="261.5" y1="945.3" x2="261.5" y2="947.0999999999999" stroke="#777" stroke-width="0.7"/>
<line x1="264.5" y1="945.3" x2="264.5" y2="947.0999999999999" stroke="#777" stroke-width="0.7"/>
<line x1="266.5" y1="945.3" x2="266.5" y2="947.0999999999999" stroke="#777" stroke-width="0.7"/>
<line x1="268.5" y1="945.3" x2="268.5" y2="947.0999999999999" stroke="#777" stroke-width="0.7"/>
<line x1="270.5" y1="945.3" x2="270.5" y2="947.0999999999999" stroke="#777" stroke-width="0.7"/>
<line x1="280.5" y1="945.3" x2="280.5" y2="947.0999999999999" stroke="#777" stroke-width="0.7"/>
<line x1="286.5" y1="945.3" x2="286.5" y2="947.0999999999999" stroke="#777" stroke-width="0.7"/>
<line x1="289.5" y1="945.3" x2="289.5" y2="947.0999999999999" stroke="#777" stroke-width="0.7"/>
<line x1="292.5" y1="945.3" x2="292.5" y2="947.0999999999999" stroke="#777" stroke-width="0.7"/>
<line x1="294.5" y1="945.3" x2="294.5" y2="947.0999999999999" stroke="#777" stroke-width="0.7"/>
<line x1="296.5" y1="945.3" x2="296.5" y2="947.0999999999999" stroke="#777" stroke-width="0.7"/>
<line x1="298.5" y1="945.3" x2="298.5" y2="947.0999999999999" stroke="#777" stroke-width="0.7"/>
<line x1="300.5" y1="945.3" x2="300.5" y2="947.0999999999999" stroke="#777" stroke-width="0.7"/>
<rect x="214.9" y="945.9" width="4.8" height="2.4" fill="#222"/>
<rect x="189.5" y="824.5" width="125" height="121" fill="none" stroke="#7a7a7a" stroke-width="1"/>
<text x="306.9" y="834.0" font-size="5.3" text-anchor="end" fill="#333" style="stroke-width:0.05px">M2-like macrophages</text>
<path d="M228.4 916.7h1.0v1.0h-1.0zM225.7 917.7h1.0v1.0h-1.0zM236.2 941.5h1.0v1.0h-1.0zM226.0 923.0h1.0v1.0h-1.0zM227.8 930.0h1.0v1.0h-1.0zM230.9 917.3h1.0v1.0h-1.0zM230.3 922.5h1.0v1.0h-1.0zM221.5 917.6h1.0v1.0h-1.0zM216.2 903.6h1.0v1.0h-1.0zM217.9 914.4h1.0v1.0h-1.0zM227.2 917.7h1.0v1.0h-1.0zM228.4 923.0h1.0v1.0h-1.0zM227.0 908.4h1.0v1.0h-1.0zM229.5 905.2h1.0v1.0h-1.0zM232.3 935.8h1.0v1.0h-1.0zM220.9 915.1h1.0v1.0h-1.0zM239.2 929.8h1.0v1.0h-1.0zM229.4 930.4h1.0v1.0h-1.0zM224.2 921.3h1.0v1.0h-1.0zM226.6 914.3h1.0v1.0h-1.0zM217.4 914.9h1.0v1.0h-1.0zM225.3 920.6h1.0v1.0h-1.0zM220.7 912.6h1.0v1.0h-1.0zM224.6 929.9h1.0v1.0h-1.0zM223.4 923.3h1.0v1.0h-1.0zM236.6 933.1h1.0v1.0h-1.0zM220.4 907.8h1.0v1.0h-1.0zM226.9 914.4h1.0v1.0h-1.0zM222.9 925.9h1.0v1.0h-1.0zM233.9 928.1h1.0v1.0h-1.0zM231.0 919.2h1.0v1.0h-1.0zM216.8 914.1h1.0v1.0h-1.0zM219.8 914.3h1.0v1.0h-1.0zM226.7 916.5h1.0v1.0h-1.0zM221.8 914.3h1.0v1.0h-1.0zM227.7 927.1h1.0v1.0h-1.0zM225.6 921.9h1.0v1.0h-1.0zM219.2 906.5h1.0v1.0h-1.0zM223.5 911.3h1.0v1.0h-1.0zM227.8 923.5h1.0v1.0h-1.0zM224.8 909.8h1.0v1.0h-1.0zM225.9 920.5h1.0v1.0h-1.0zM227.2 919.5h1.0v1.0h-1.0zM224.5 907.5h1.0v1.0h-1.0zM232.6 905.4h1.0v1.0h-1.0zM218.2 905.8h1.0v1.0h-1.0zM227.8 920.8h1.0v1.0h-1.0zM222.3 916.1h1.0v1.0h-1.0zM227.4 930.9h1.0v1.0h-1.0zM229.8 922.7h1.0v1.0h-1.0zM228.7 921.0h1.0v1.0h-1.0zM228.9 924.9h1.0v1.0h-1.0zM229.4 918.6h1.0v1.0h-1.0zM228.1 935.3h1.0v1.0h-1.0zM223.9 912.7h1.0v1.0h-1.0zM229.2 915.0h1.0v1.0h-1.0zM230.6 919.0h1.0v1.0h-1.0zM230.0 932.6h1.0v1.0h-1.0zM226.7 915.2h1.0v1.0h-1.0zM226.7 913.6h1.0v1.0h-1.0zM214.2 913.8h1.0v1.0h-1.0zM220.7 924.3h1.0v1.0h-1.0zM224.1 914.1h1.0v1.0h-1.0zM230.7 928.9h1.0v1.0h-1.0zM231.8 918.7h1.0v1.0h-1.0zM226.0 930.6h1.0v1.0h-1.0zM219.0 904.2h1.0v1.0h-1.0zM227.8 918.4h1.0v1.0h-1.0zM230.6 919.5h1.0v1.0h-1.0zM229.4 914.4h1.0v1.0h-1.0zM221.3 914.4h1.0v1.0h-1.0zM219.2 918.7h1.0v1.0h-1.0zM220.2 907.2h1.0v1.0h-1.0zM219.2 928.8h1.0v1.0h-1.0zM230.7 925.1h1.0v1.0h-1.0zM226.9 922.5h1.0v1.0h-1.0zM237.1 922.2h1.0v1.0h-1.0zM234.2 925.6h1.0v1.0h-1.0zM230.7 930.4h1.0v1.0h-1.0zM221.4 906.7h1.0v1.0h-1.0zM228.8 915.7h1.0v1.0h-1.0zM227.6 913.5h1.0v1.0h-1.0zM217.4 900.7h1.0v1.0h-1.0zM218.1 917.3h1.0v1.0h-1.0zM221.1 908.1h1.0v1.0h-1.0zM232.1 937.7h1.0v1.0h-1.0zM223.0 906.0h1.0v1.0h-1.0zM217.5 908.7h1.0v1.0h-1.0zM225.6 918.9h1.0v1.0h-1.0zM228.4 912.9h1.0v1.0h-1.0zM218.4 894.8h1.0v1.0h-1.0zM235.7 921.9h1.0v1.0h-1.0zM221.0 914.4h1.0v1.0h-1.0zM230.9 915.4h1.0v1.0h-1.0zM228.9 923.6h1.0v1.0h-1.0zM221.0 899.3h1.0v1.0h-1.0zM224.4 920.0h1.0v1.0h-1.0zM225.2 935.4h1.0v1.0h-1.0zM223.1 924.3h1.0v1.0h-1.0zM229.2 929.9h1.0v1.0h-1.0zM225.4 915.4h1.0v1.0h-1.0zM215.5 906.3h1.0v1.0h-1.0zM225.6 927.8h1.0v1.0h-1.0zM218.7 909.9h1.0v1.0h-1.0zM223.8 922.3h1.0v1.0h-1.0zM226.3 911.1h1.0v1.0h-1.0zM224.4 920.7h1.0v1.0h-1.0zM230.7 924.4h1.0v1.0h-1.0zM224.6 899.4h1.0v1.0h-1.0zM222.2 914.6h1.0v1.0h-1.0zM234.2 930.6h1.0v1.0h-1.0zM229.1 926.0h1.0v1.0h-1.0zM224.3 920.5h1.0v1.0h-1.0zM225.1 928.7h1.0v1.0h-1.0zM222.8 915.6h1.0v1.0h-1.0zM225.5 912.2h1.0v1.0h-1.0zM219.7 920.9h1.0v1.0h-1.0zM231.9 921.1h1.0v1.0h-1.0zM212.6 919.8h1.0v1.0h-1.0zM219.7 912.0h1.0v1.0h-1.0zM224.8 905.6h1.0v1.0h-1.0zM221.5 907.6h1.0v1.0h-1.0zM213.2 900.8h1.0v1.0h-1.0zM228.9 931.0h1.0v1.0h-1.0zM218.4 913.2h1.0v1.0h-1.0zM228.8 916.8h1.0v1.0h-1.0zM227.5 921.3h1.0v1.0h-1.0zM233.5 936.9h1.0v1.0h-1.0zM220.1 913.1h1.0v1.0h-1.0zM235.1 920.8h1.0v1.0h-1.0zM218.2 915.1h1.0v1.0h-1.0zM233.3 918.3h1.0v1.0h-1.0zM230.9 927.3h1.0v1.0h-1.0zM227.4 928.3h1.0v1.0h-1.0zM219.0 914.4h1.0v1.0h-1.0zM234.0 922.2h1.0v1.0h-1.0zM229.5 922.9h1.0v1.0h-1.0zM215.8 898.4h1.0v1.0h-1.0zM210.6 918.6h1.0v1.0h-1.0zM221.4 934.4h1.0v1.0h-1.0zM220.3 914.1h1.0v1.0h-1.0zM229.0 904.4h1.0v1.0h-1.0zM225.8 913.1h1.0v1.0h-1.0zM226.8 907.7h1.0v1.0h-1.0zM222.2 900.1h1.0v1.0h-1.0zM230.3 921.4h1.0v1.0h-1.0zM221.9 913.9h1.0v1.0h-1.0zM216.7 905.6h1.0v1.0h-1.0zM211.7 915.6h1.0v1.0h-1.0zM227.9 920.8h1.0v1.0h-1.0zM221.7 907.0h1.0v1.0h-1.0zM215.5 913.3h1.0v1.0h-1.0zM220.2 903.4h1.0v1.0h-1.0zM222.9 913.3h1.0v1.0h-1.0zM228.9 914.5h1.0v1.0h-1.0zM213.2 910.3h1.0v1.0h-1.0zM222.8 913.9h1.0v1.0h-1.0zM229.2 916.8h1.0v1.0h-1.0zM227.7 922.5h1.0v1.0h-1.0zM229.6 925.9h1.0v1.0h-1.0zM236.1 929.6h1.0v1.0h-1.0zM220.3 923.2h1.0v1.0h-1.0zM221.8 906.6h1.0v1.0h-1.0zM231.1 926.6h1.0v1.0h-1.0zM234.1 939.7h1.0v1.0h-1.0zM227.1 919.9h1.0v1.0h-1.0zM223.4 898.4h1.0v1.0h-1.0zM218.8 920.7h1.0v1.0h-1.0zM228.7 919.5h1.0v1.0h-1.0zM227.2 925.2h1.0v1.0h-1.0zM219.3 915.4h1.0v1.0h-1.0zM222.3 920.8h1.0v1.0h-1.0zM219.8 923.6h1.0v1.0h-1.0zM228.5 922.1h1.0v1.0h-1.0zM224.4 924.0h1.0v1.0h-1.0zM232.2 913.5h1.0v1.0h-1.0zM232.8 917.4h1.0v1.0h-1.0zM227.1 918.8h1.0v1.0h-1.0zM231.9 937.0h1.0v1.0h-1.0zM231.1 916.5h1.0v1.0h-1.0zM233.6 922.6h1.0v1.0h-1.0zM222.7 921.5h1.0v1.0h-1.0zM228.9 917.0h1.0v1.0h-1.0zM235.6 916.5h1.0v1.0h-1.0zM229.1 905.3h1.0v1.0h-1.0zM223.1 922.9h1.0v1.0h-1.0zM226.8 910.2h1.0v1.0h-1.0zM238.2 932.2h1.0v1.0h-1.0zM223.3 920.8h1.0v1.0h-1.0zM222.0 907.1h1.0v1.0h-1.0zM230.5 926.4h1.0v1.0h-1.0zM223.4 899.0h1.0v1.0h-1.0zM216.8 910.0h1.0v1.0h-1.0zM216.7 902.2h1.0v1.0h-1.0zM225.6 920.4h1.0v1.0h-1.0zM222.0 917.0h1.0v1.0h-1.0zM233.7 926.9h1.0v1.0h-1.0zM222.2 920.7h1.0v1.0h-1.0zM217.8 906.5h1.0v1.0h-1.0zM221.2 902.7h1.0v1.0h-1.0zM218.6 902.2h1.0v1.0h-1.0zM232.0 932.3h1.0v1.0h-1.0zM221.2 906.0h1.0v1.0h-1.0zM233.9 922.8h1.0v1.0h-1.0zM228.7 924.1h1.0v1.0h-1.0zM236.9 926.9h1.0v1.0h-1.0zM225.0 909.7h1.0v1.0h-1.0zM230.2 905.1h1.0v1.0h-1.0zM213.9 916.1h1.0v1.0h-1.0zM222.9 911.4h1.0v1.0h-1.0zM221.4 901.4h1.0v1.0h-1.0zM232.0 918.7h1.0v1.0h-1.0zM224.8 918.2h1.0v1.0h-1.0zM229.3 905.4h1.0v1.0h-1.0zM221.6 916.1h1.0v1.0h-1.0zM218.4 912.3h1.0v1.0h-1.0zM225.1 921.7h1.0v1.0h-1.0zM232.9 924.8h1.0v1.0h-1.0zM225.3 910.0h1.0v1.0h-1.0zM234.3 912.5h1.0v1.0h-1.0zM223.7 915.2h1.0v1.0h-1.0zM223.6 912.4h1.0v1.0h-1.0zM223.6 929.3h1.0v1.0h-1.0zM224.1 914.8h1.0v1.0h-1.0zM221.7 918.4h1.0v1.0h-1.0zM224.2 917.7h1.0v1.0h-1.0zM221.1 900.0h1.0v1.0h-1.0zM219.8 919.6h1.0v1.0h-1.0zM234.1 921.9h1.0v1.0h-1.0zM230.5 910.7h1.0v1.0h-1.0zM223.9 920.3h1.0v1.0h-1.0zM222.2 925.6h1.0v1.0h-1.0zM216.8 909.8h1.0v1.0h-1.0zM228.9 918.9h1.0v1.0h-1.0zM221.8 909.8h1.0v1.0h-1.0zM236.3 924.1h1.0v1.0h-1.0zM215.9 919.1h1.0v1.0h-1.0zM227.5 920.7h1.0v1.0h-1.0zM232.4 927.7h1.0v1.0h-1.0zM222.6 920.5h1.0v1.0h-1.0zM236.9 904.0h1.0v1.0h-1.0zM231.2 924.6h1.0v1.0h-1.0zM231.2 927.8h1.0v1.0h-1.0zM220.8 916.0h1.0v1.0h-1.0zM231.4 911.1h1.0v1.0h-1.0zM231.3 916.8h1.0v1.0h-1.0zM226.4 924.6h1.0v1.0h-1.0zM235.7 930.5h1.0v1.0h-1.0zM227.6 923.7h1.0v1.0h-1.0zM213.0 898.0h1.0v1.0h-1.0zM227.6 922.3h1.0v1.0h-1.0zM235.5 938.7h1.0v1.0h-1.0zM222.3 915.8h1.0v1.0h-1.0zM229.9 933.1h1.0v1.0h-1.0zM222.1 922.4h1.0v1.0h-1.0zM225.7 925.1h1.0v1.0h-1.0zM210.5 899.8h1.0v1.0h-1.0zM215.6 904.3h1.0v1.0h-1.0zM224.0 911.4h1.0v1.0h-1.0zM222.4 925.0h1.0v1.0h-1.0zM215.2 919.6h1.0v1.0h-1.0zM229.6 913.2h1.0v1.0h-1.0zM227.6 909.5h1.0v1.0h-1.0zM220.7 915.1h1.0v1.0h-1.0zM214.0 919.1h1.0v1.0h-1.0zM228.8 923.3h1.0v1.0h-1.0zM222.8 921.1h1.0v1.0h-1.0zM229.6 925.8h1.0v1.0h-1.0zM231.9 928.5h1.0v1.0h-1.0zM223.6 915.4h1.0v1.0h-1.0zM224.2 921.0h1.0v1.0h-1.0zM229.7 927.5h1.0v1.0h-1.0zM224.0 916.0h1.0v1.0h-1.0zM214.3 922.3h1.0v1.0h-1.0zM228.8 912.3h1.0v1.0h-1.0zM227.1 916.4h1.0v1.0h-1.0zM222.1 908.4h1.0v1.0h-1.0zM228.2 929.3h1.0v1.0h-1.0zM223.1 925.1h1.0v1.0h-1.0zM222.9 909.9h1.0v1.0h-1.0zM229.7 922.4h1.0v1.0h-1.0zM217.5 907.6h1.0v1.0h-1.0zM216.1 898.9h1.0v1.0h-1.0zM224.3 910.5h1.0v1.0h-1.0zM217.7 914.2h1.0v1.0h-1.0zM230.0 926.7h1.0v1.0h-1.0zM220.9 908.3h1.0v1.0h-1.0zM215.4 909.4h1.0v1.0h-1.0zM222.8 922.6h1.0v1.0h-1.0zM212.6 918.3h1.0v1.0h-1.0zM232.7 927.3h1.0v1.0h-1.0zM224.9 911.1h1.0v1.0h-1.0zM228.9 908.3h1.0v1.0h-1.0zM228.0 920.9h1.0v1.0h-1.0zM226.2 916.3h1.0v1.0h-1.0zM219.2 908.1h1.0v1.0h-1.0zM229.5 916.0h1.0v1.0h-1.0zM223.2 911.7h1.0v1.0h-1.0zM220.8 915.4h1.0v1.0h-1.0zM213.7 913.5h1.0v1.0h-1.0zM232.3 917.4h1.0v1.0h-1.0zM223.8 931.9h1.0v1.0h-1.0zM222.8 927.5h1.0v1.0h-1.0zM214.4 906.7h1.0v1.0h-1.0zM230.3 924.9h1.0v1.0h-1.0zM224.5 929.7h1.0v1.0h-1.0zM230.7 915.3h1.0v1.0h-1.0zM224.9 912.7h1.0v1.0h-1.0zM220.3 908.8h1.0v1.0h-1.0zM228.3 912.4h1.0v1.0h-1.0zM216.3 916.2h1.0v1.0h-1.0zM216.4 908.7h1.0v1.0h-1.0zM224.7 918.4h1.0v1.0h-1.0zM229.2 922.2h1.0v1.0h-1.0zM231.3 921.7h1.0v1.0h-1.0zM224.6 929.8h1.0v1.0h-1.0zM224.4 916.0h1.0v1.0h-1.0zM226.2 912.0h1.0v1.0h-1.0zM223.9 905.7h1.0v1.0h-1.0zM222.3 910.0h1.0v1.0h-1.0zM227.9 921.9h1.0v1.0h-1.0zM222.3 916.9h1.0v1.0h-1.0zM223.9 919.2h1.0v1.0h-1.0zM231.8 920.3h1.0v1.0h-1.0zM226.3 922.6h1.0v1.0h-1.0zM222.2 919.2h1.0v1.0h-1.0zM229.0 911.5h1.0v1.0h-1.0zM224.3 920.5h1.0v1.0h-1.0zM228.9 924.6h1.0v1.0h-1.0zM220.3 911.6h1.0v1.0h-1.0zM220.8 923.2h1.0v1.0h-1.0zM217.1 911.6h1.0v1.0h-1.0zM231.3 917.3h1.0v1.0h-1.0zM232.9 932.4h1.0v1.0h-1.0zM231.7 938.1h1.0v1.0h-1.0zM227.0 910.3h1.0v1.0h-1.0zM226.2 918.4h1.0v1.0h-1.0zM223.7 924.1h1.0v1.0h-1.0zM228.3 925.8h1.0v1.0h-1.0zM224.0 925.4h1.0v1.0h-1.0zM219.4 923.8h1.0v1.0h-1.0zM230.6 908.2h1.0v1.0h-1.0zM230.0 927.9h1.0v1.0h-1.0zM228.0 907.3h1.0v1.0h-1.0zM224.7 910.0h1.0v1.0h-1.0zM222.9 907.3h1.0v1.0h-1.0zM225.6 922.3h1.0v1.0h-1.0zM226.2 905.4h1.0v1.0h-1.0zM218.6 913.2h1.0v1.0h-1.0zM222.5 903.5h1.0v1.0h-1.0zM219.2 929.2h1.0v1.0h-1.0zM231.2 919.0h1.0v1.0h-1.0zM217.5 911.3h1.0v1.0h-1.0zM218.3 902.5h1.0v1.0h-1.0zM220.1 909.0h1.0v1.0h-1.0zM225.9 929.4h1.0v1.0h-1.0zM219.9 915.5h1.0v1.0h-1.0zM234.7 916.8h1.0v1.0h-1.0zM229.0 917.3h1.0v1.0h-1.0zM211.7 905.1h1.0v1.0h-1.0zM226.2 933.3h1.0v1.0h-1.0zM226.9 918.6h1.0v1.0h-1.0zM218.0 915.4h1.0v1.0h-1.0zM224.5 926.1h1.0v1.0h-1.0zM225.4 937.8h1.0v1.0h-1.0zM221.4 920.1h1.0v1.0h-1.0zM224.4 908.7h1.0v1.0h-1.0zM226.8 911.4h1.0v1.0h-1.0zM222.1 929.3h1.0v1.0h-1.0zM224.6 920.9h1.0v1.0h-1.0zM218.3 896.4h1.0v1.0h-1.0zM228.4 916.7h1.0v1.0h-1.0zM221.4 911.1h1.0v1.0h-1.0zM231.6 920.9h1.0v1.0h-1.0zM236.3 933.0h1.0v1.0h-1.0zM234.2 931.4h1.0v1.0h-1.0zM222.4 926.6h1.0v1.0h-1.0zM227.3 904.4h1.0v1.0h-1.0zM223.5 919.0h1.0v1.0h-1.0zM227.5 918.4h1.0v1.0h-1.0zM220.3 905.2h1.0v1.0h-1.0zM219.3 919.9h1.0v1.0h-1.0zM224.6 906.7h1.0v1.0h-1.0zM220.5 902.6h1.0v1.0h-1.0zM231.7 937.0h1.0v1.0h-1.0zM228.9 924.7h1.0v1.0h-1.0zM226.8 926.2h1.0v1.0h-1.0zM224.1 927.9h1.0v1.0h-1.0zM224.0 906.6h1.0v1.0h-1.0zM230.3 933.7h1.0v1.0h-1.0zM225.3 919.1h1.0v1.0h-1.0zM225.0 922.4h1.0v1.0h-1.0zM235.3 933.5h1.0v1.0h-1.0zM225.7 923.8h1.0v1.0h-1.0zM223.5 913.6h1.0v1.0h-1.0zM223.7 916.7h1.0v1.0h-1.0zM232.0 925.4h1.0v1.0h-1.0zM222.2 924.2h1.0v1.0h-1.0zM222.3 897.5h1.0v1.0h-1.0zM231.0 934.8h1.0v1.0h-1.0zM231.4 915.9h1.0v1.0h-1.0zM232.7 942.6h1.0v1.0h-1.0zM220.2 917.9h1.0v1.0h-1.0zM227.4 934.5h1.0v1.0h-1.0zM221.8 913.4h1.0v1.0h-1.0zM227.3 934.2h1.0v1.0h-1.0zM216.2 913.9h1.0v1.0h-1.0zM223.9 920.5h1.0v1.0h-1.0zM230.9 926.9h1.0v1.0h-1.0zM226.1 898.5h1.0v1.0h-1.0zM211.6 894.3h1.0v1.0h-1.0zM230.5 909.4h1.0v1.0h-1.0zM227.0 920.5h1.0v1.0h-1.0zM223.5 914.9h1.0v1.0h-1.0zM225.0 924.8h1.0v1.0h-1.0zM223.2 919.4h1.0v1.0h-1.0zM231.3 933.8h1.0v1.0h-1.0zM224.8 912.1h1.0v1.0h-1.0zM216.1 913.3h1.0v1.0h-1.0zM220.3 909.8h1.0v1.0h-1.0zM234.0 916.2h1.0v1.0h-1.0zM231.2 908.8h1.0v1.0h-1.0zM229.4 921.0h1.0v1.0h-1.0zM220.6 906.6h1.0v1.0h-1.0zM228.0 916.1h1.0v1.0h-1.0zM230.7 915.0h1.0v1.0h-1.0zM225.6 909.4h1.0v1.0h-1.0zM231.3 923.7h1.0v1.0h-1.0zM230.8 912.1h1.0v1.0h-1.0zM227.6 918.5h1.0v1.0h-1.0zM227.6 920.3h1.0v1.0h-1.0zM218.2 899.9h1.0v1.0h-1.0zM223.4 925.3h1.0v1.0h-1.0zM229.7 914.2h1.0v1.0h-1.0zM234.5 930.4h1.0v1.0h-1.0zM226.1 914.9h1.0v1.0h-1.0zM231.1 916.3h1.0v1.0h-1.0zM219.7 908.1h1.0v1.0h-1.0zM227.5 907.2h1.0v1.0h-1.0zM227.6 915.6h1.0v1.0h-1.0zM220.2 905.2h1.0v1.0h-1.0zM220.3 922.6h1.0v1.0h-1.0zM225.4 921.6h1.0v1.0h-1.0zM222.3 905.5h1.0v1.0h-1.0zM227.9 934.7h1.0v1.0h-1.0zM217.6 909.3h1.0v1.0h-1.0zM229.6 910.7h1.0v1.0h-1.0zM221.7 923.8h1.0v1.0h-1.0zM227.0 924.8h1.0v1.0h-1.0zM216.5 901.8h1.0v1.0h-1.0zM230.3 912.8h1.0v1.0h-1.0zM226.2 917.3h1.0v1.0h-1.0zM236.8 922.2h1.0v1.0h-1.0zM215.9 914.3h1.0v1.0h-1.0zM215.0 911.3h1.0v1.0h-1.0zM229.1 911.2h1.0v1.0h-1.0zM230.0 912.9h1.0v1.0h-1.0zM215.2 907.1h1.0v1.0h-1.0zM228.0 931.0h1.0v1.0h-1.0zM230.3 916.8h1.0v1.0h-1.0zM232.9 929.4h1.0v1.0h-1.0zM225.8 912.9h1.0v1.0h-1.0zM216.6 913.9h1.0v1.0h-1.0zM214.4 903.7h1.0v1.0h-1.0zM236.7 931.2h1.0v1.0h-1.0zM227.4 912.2h1.0v1.0h-1.0zM230.6 916.1h1.0v1.0h-1.0zM223.3 932.2h1.0v1.0h-1.0zM223.8 924.2h1.0v1.0h-1.0zM224.0 906.2h1.0v1.0h-1.0zM219.9 922.9h1.0v1.0h-1.0zM223.5 914.8h1.0v1.0h-1.0zM219.0 923.5h1.0v1.0h-1.0zM222.8 904.4h1.0v1.0h-1.0zM231.3 922.1h1.0v1.0h-1.0zM225.2 914.1h1.0v1.0h-1.0zM221.4 908.5h1.0v1.0h-1.0zM234.7 916.1h1.0v1.0h-1.0zM232.3 940.0h1.0v1.0h-1.0zM225.4 917.7h1.0v1.0h-1.0zM215.5 906.6h1.0v1.0h-1.0zM232.3 910.0h1.0v1.0h-1.0zM232.4 933.2h1.0v1.0h-1.0zM221.9 924.2h1.0v1.0h-1.0zM233.0 923.1h1.0v1.0h-1.0zM220.5 902.2h1.0v1.0h-1.0zM223.7 921.1h1.0v1.0h-1.0zM222.6 915.5h1.0v1.0h-1.0zM226.1 906.4h1.0v1.0h-1.0zM224.4 934.4h1.0v1.0h-1.0zM233.1 930.6h1.0v1.0h-1.0zM223.2 907.8h1.0v1.0h-1.0zM227.6 913.1h1.0v1.0h-1.0zM225.4 924.5h1.0v1.0h-1.0zM226.5 928.8h1.0v1.0h-1.0zM220.6 918.8h1.0v1.0h-1.0zM224.9 922.0h1.0v1.0h-1.0zM232.8 921.3h1.0v1.0h-1.0zM229.7 939.1h1.0v1.0h-1.0zM218.6 910.0h1.0v1.0h-1.0zM222.9 917.9h1.0v1.0h-1.0zM219.5 916.4h1.0v1.0h-1.0zM221.1 912.2h1.0v1.0h-1.0zM221.5 921.4h1.0v1.0h-1.0zM218.3 925.1h1.0v1.0h-1.0zM227.7 901.7h1.0v1.0h-1.0zM230.1 920.6h1.0v1.0h-1.0zM226.0 929.3h1.0v1.0h-1.0zM222.5 927.6h1.0v1.0h-1.0zM226.0 915.0h1.0v1.0h-1.0zM220.9 920.1h1.0v1.0h-1.0zM230.9 924.7h1.0v1.0h-1.0zM238.1 930.5h1.0v1.0h-1.0zM210.3 900.1h1.0v1.0h-1.0zM227.3 928.4h1.0v1.0h-1.0zM225.4 928.4h1.0v1.0h-1.0zM226.2 932.4h1.0v1.0h-1.0zM223.6 919.1h1.0v1.0h-1.0zM216.8 912.2h1.0v1.0h-1.0zM224.7 927.3h1.0v1.0h-1.0zM224.3 915.6h1.0v1.0h-1.0zM224.9 917.3h1.0v1.0h-1.0zM222.4 930.6h1.0v1.0h-1.0zM237.8 919.8h1.0v1.0h-1.0zM218.2 891.2h1.0v1.0h-1.0zM223.0 924.7h1.0v1.0h-1.0zM218.1 923.9h1.0v1.0h-1.0zM224.2 928.6h1.0v1.0h-1.0zM233.7 934.1h1.0v1.0h-1.0zM224.9 927.3h1.0v1.0h-1.0zM220.5 908.6h1.0v1.0h-1.0zM217.8 920.8h1.0v1.0h-1.0zM228.1 912.7h1.0v1.0h-1.0zM221.2 901.9h1.0v1.0h-1.0zM228.6 919.5h1.0v1.0h-1.0zM221.2 904.3h1.0v1.0h-1.0zM222.1 906.6h1.0v1.0h-1.0zM224.8 912.6h1.0v1.0h-1.0zM216.0 907.0h1.0v1.0h-1.0zM231.7 925.2h1.0v1.0h-1.0zM218.8 904.3h1.0v1.0h-1.0zM225.9 914.0h1.0v1.0h-1.0zM227.6 919.1h1.0v1.0h-1.0zM238.1 930.8h1.0v1.0h-1.0zM227.7 924.4h1.0v1.0h-1.0zM229.7 928.6h1.0v1.0h-1.0zM222.3 917.7h1.0v1.0h-1.0zM224.3 921.3h1.0v1.0h-1.0zM225.0 923.8h1.0v1.0h-1.0zM231.0 923.2h1.0v1.0h-1.0zM219.6 915.0h1.0v1.0h-1.0zM227.3 912.6h1.0v1.0h-1.0zM240.9 933.8h1.0v1.0h-1.0zM219.8 921.8h1.0v1.0h-1.0zM214.9 904.0h1.0v1.0h-1.0zM249.2 869.1h1.0v1.0h-1.0zM232.5 883.1h1.0v1.0h-1.0zM247.0 875.9h1.0v1.0h-1.0zM252.4 872.4h1.0v1.0h-1.0zM239.2 881.1h1.0v1.0h-1.0zM233.6 893.8h1.0v1.0h-1.0zM241.3 871.9h1.0v1.0h-1.0zM233.5 862.5h1.0v1.0h-1.0zM228.9 889.4h1.0v1.0h-1.0zM246.7 899.3h1.0v1.0h-1.0zM219.7 900.5h1.0v1.0h-1.0zM245.4 864.2h1.0v1.0h-1.0zM230.1 889.4h1.0v1.0h-1.0zM245.6 890.9h1.0v1.0h-1.0zM232.5 893.6h1.0v1.0h-1.0zM253.8 895.8h1.0v1.0h-1.0zM232.6 893.0h1.0v1.0h-1.0zM216.7 857.3h1.0v1.0h-1.0zM263.8 877.4h1.0v1.0h-1.0zM237.4 872.3h1.0v1.0h-1.0zM236.0 871.1h1.0v1.0h-1.0zM237.0 861.6h1.0v1.0h-1.0zM234.2 867.7h1.0v1.0h-1.0zM239.8 876.0h1.0v1.0h-1.0zM230.2 896.8h1.0v1.0h-1.0zM257.0 886.7h1.0v1.0h-1.0zM230.7 891.6h1.0v1.0h-1.0zM243.0 893.4h1.0v1.0h-1.0zM249.3 871.9h1.0v1.0h-1.0zM235.1 872.4h1.0v1.0h-1.0zM245.0 900.4h1.0v1.0h-1.0zM232.1 888.8h1.0v1.0h-1.0zM228.0 880.9h1.0v1.0h-1.0zM229.8 893.0h1.0v1.0h-1.0zM247.0 868.8h1.0v1.0h-1.0zM246.7 895.9h1.0v1.0h-1.0zM228.8 869.5h1.0v1.0h-1.0zM246.4 871.4h1.0v1.0h-1.0zM228.8 882.6h1.0v1.0h-1.0zM238.7 878.5h1.0v1.0h-1.0zM243.4 864.3h1.0v1.0h-1.0zM218.2 899.0h1.0v1.0h-1.0zM242.7 886.4h1.0v1.0h-1.0zM234.3 883.3h1.0v1.0h-1.0zM223.5 893.6h1.0v1.0h-1.0zM243.2 873.6h1.0v1.0h-1.0zM239.6 891.7h1.0v1.0h-1.0zM240.2 873.6h1.0v1.0h-1.0zM234.4 870.1h1.0v1.0h-1.0zM230.8 882.0h1.0v1.0h-1.0zM224.9 884.1h1.0v1.0h-1.0zM234.8 886.5h1.0v1.0h-1.0zM227.3 893.3h1.0v1.0h-1.0zM232.8 903.0h1.0v1.0h-1.0zM240.6 864.7h1.0v1.0h-1.0zM244.1 860.2h1.0v1.0h-1.0zM240.7 883.5h1.0v1.0h-1.0zM239.5 895.9h1.0v1.0h-1.0zM234.4 894.8h1.0v1.0h-1.0zM245.5 877.2h1.0v1.0h-1.0zM247.6 874.8h1.0v1.0h-1.0zM232.3 880.3h1.0v1.0h-1.0zM232.9 904.1h1.0v1.0h-1.0zM227.9 883.1h1.0v1.0h-1.0zM234.1 886.8h1.0v1.0h-1.0zM232.9 869.4h1.0v1.0h-1.0zM254.7 885.6h1.0v1.0h-1.0zM249.2 875.6h1.0v1.0h-1.0zM224.5 884.0h1.0v1.0h-1.0zM243.9 875.8h1.0v1.0h-1.0zM234.6 881.5h1.0v1.0h-1.0zM220.9 919.9h1.0v1.0h-1.0zM239.1 888.3h1.0v1.0h-1.0zM230.6 892.3h1.0v1.0h-1.0zM239.6 872.3h1.0v1.0h-1.0zM241.6 864.0h1.0v1.0h-1.0zM230.9 859.7h1.0v1.0h-1.0zM250.5 870.0h1.0v1.0h-1.0zM238.1 883.7h1.0v1.0h-1.0zM229.7 887.8h1.0v1.0h-1.0zM221.9 871.4h1.0v1.0h-1.0zM257.1 881.7h1.0v1.0h-1.0zM229.5 878.7h1.0v1.0h-1.0zM237.4 895.1h1.0v1.0h-1.0zM239.4 878.3h1.0v1.0h-1.0zM244.9 879.6h1.0v1.0h-1.0zM224.5 878.8h1.0v1.0h-1.0zM214.5 883.3h1.0v1.0h-1.0zM237.7 882.4h1.0v1.0h-1.0zM223.1 894.4h1.0v1.0h-1.0zM234.2 891.7h1.0v1.0h-1.0zM255.5 866.7h1.0v1.0h-1.0zM231.3 870.2h1.0v1.0h-1.0zM242.9 884.8h1.0v1.0h-1.0zM226.5 901.3h1.0v1.0h-1.0zM263.9 865.8h1.0v1.0h-1.0zM233.2 878.9h1.0v1.0h-1.0zM240.3 875.9h1.0v1.0h-1.0zM235.4 886.8h1.0v1.0h-1.0zM231.1 895.7h1.0v1.0h-1.0zM246.4 867.7h1.0v1.0h-1.0zM234.5 888.3h1.0v1.0h-1.0zM228.2 902.4h1.0v1.0h-1.0zM231.7 891.3h1.0v1.0h-1.0zM233.8 874.8h1.0v1.0h-1.0zM237.4 865.5h1.0v1.0h-1.0zM237.8 882.5h1.0v1.0h-1.0zM229.0 901.2h1.0v1.0h-1.0zM231.8 893.7h1.0v1.0h-1.0zM255.3 891.7h1.0v1.0h-1.0zM234.0 879.5h1.0v1.0h-1.0zM248.8 878.5h1.0v1.0h-1.0zM232.3 875.1h1.0v1.0h-1.0zM239.5 887.8h1.0v1.0h-1.0zM230.5 882.9h1.0v1.0h-1.0zM218.1 881.1h1.0v1.0h-1.0zM231.1 880.5h1.0v1.0h-1.0zM244.2 886.2h1.0v1.0h-1.0zM247.7 888.4h1.0v1.0h-1.0zM245.9 888.0h1.0v1.0h-1.0zM231.0 911.8h1.0v1.0h-1.0zM233.1 892.9h1.0v1.0h-1.0zM225.5 876.7h1.0v1.0h-1.0zM238.5 894.5h1.0v1.0h-1.0zM243.5 870.4h1.0v1.0h-1.0zM238.0 869.8h1.0v1.0h-1.0zM229.1 894.2h1.0v1.0h-1.0zM239.6 875.0h1.0v1.0h-1.0zM236.8 883.0h1.0v1.0h-1.0zM240.4 875.7h1.0v1.0h-1.0zM234.3 881.8h1.0v1.0h-1.0zM237.8 862.7h1.0v1.0h-1.0zM229.4 896.2h1.0v1.0h-1.0zM228.4 900.4h1.0v1.0h-1.0zM212.8 889.8h1.0v1.0h-1.0zM238.0 896.8h1.0v1.0h-1.0zM237.5 892.6h1.0v1.0h-1.0zM227.3 900.6h1.0v1.0h-1.0zM250.2 894.7h1.0v1.0h-1.0zM247.3 864.9h1.0v1.0h-1.0zM251.9 886.4h1.0v1.0h-1.0zM235.1 882.1h1.0v1.0h-1.0zM233.9 893.0h1.0v1.0h-1.0zM239.3 879.1h1.0v1.0h-1.0zM244.8 903.6h1.0v1.0h-1.0zM250.1 896.9h1.0v1.0h-1.0zM227.6 886.8h1.0v1.0h-1.0zM234.8 889.1h1.0v1.0h-1.0zM217.8 893.5h1.0v1.0h-1.0zM234.0 887.3h1.0v1.0h-1.0zM244.7 890.7h1.0v1.0h-1.0zM242.7 869.8h1.0v1.0h-1.0zM258.0 858.5h1.0v1.0h-1.0zM242.7 893.7h1.0v1.0h-1.0zM232.6 888.9h1.0v1.0h-1.0zM229.5 881.0h1.0v1.0h-1.0zM238.9 874.7h1.0v1.0h-1.0zM251.6 860.4h1.0v1.0h-1.0zM225.0 884.8h1.0v1.0h-1.0zM227.7 867.1h1.0v1.0h-1.0zM237.2 884.7h1.0v1.0h-1.0zM233.4 887.8h1.0v1.0h-1.0zM244.7 872.3h1.0v1.0h-1.0zM232.2 896.6h1.0v1.0h-1.0zM236.9 891.7h1.0v1.0h-1.0zM236.4 885.5h1.0v1.0h-1.0zM238.5 873.8h1.0v1.0h-1.0zM249.1 870.6h1.0v1.0h-1.0zM224.6 877.0h1.0v1.0h-1.0zM220.6 866.9h1.0v1.0h-1.0zM222.8 888.5h1.0v1.0h-1.0zM233.8 892.3h1.0v1.0h-1.0zM237.6 865.0h1.0v1.0h-1.0zM241.4 884.9h1.0v1.0h-1.0zM239.4 878.7h1.0v1.0h-1.0zM237.7 883.5h1.0v1.0h-1.0zM220.2 897.4h1.0v1.0h-1.0zM230.4 895.6h1.0v1.0h-1.0zM240.4 873.2h1.0v1.0h-1.0zM225.1 895.7h1.0v1.0h-1.0zM232.0 879.5h1.0v1.0h-1.0zM232.5 854.7h1.0v1.0h-1.0zM241.0 904.1h1.0v1.0h-1.0zM228.4 886.1h1.0v1.0h-1.0zM221.1 884.9h1.0v1.0h-1.0zM233.1 899.2h1.0v1.0h-1.0zM233.8 888.7h1.0v1.0h-1.0zM244.1 872.9h1.0v1.0h-1.0zM230.9 887.1h1.0v1.0h-1.0zM234.3 887.0h1.0v1.0h-1.0zM231.7 882.0h1.0v1.0h-1.0zM232.0 856.8h1.0v1.0h-1.0zM255.5 876.5h1.0v1.0h-1.0zM213.2 880.9h1.0v1.0h-1.0zM241.9 868.2h1.0v1.0h-1.0zM229.1 885.8h1.0v1.0h-1.0zM237.1 906.8h1.0v1.0h-1.0zM222.3 874.2h1.0v1.0h-1.0zM238.3 885.2h1.0v1.0h-1.0zM229.0 868.3h1.0v1.0h-1.0zM241.6 861.7h1.0v1.0h-1.0zM248.9 873.1h1.0v1.0h-1.0zM225.0 897.5h1.0v1.0h-1.0zM221.7 891.4h1.0v1.0h-1.0zM247.0 881.3h1.0v1.0h-1.0zM254.4 889.2h1.0v1.0h-1.0zM236.5 887.9h1.0v1.0h-1.0zM217.5 883.1h1.0v1.0h-1.0zM222.1 877.0h1.0v1.0h-1.0zM245.2 875.3h1.0v1.0h-1.0zM252.6 879.9h1.0v1.0h-1.0zM235.3 879.0h1.0v1.0h-1.0zM224.1 884.5h1.0v1.0h-1.0zM247.0 871.6h1.0v1.0h-1.0zM224.0 878.0h1.0v1.0h-1.0zM230.2 871.0h1.0v1.0h-1.0zM230.7 875.4h1.0v1.0h-1.0zM230.6 905.1h1.0v1.0h-1.0zM241.4 892.7h1.0v1.0h-1.0zM227.6 901.8h1.0v1.0h-1.0zM237.8 883.1h1.0v1.0h-1.0zM246.4 876.9h1.0v1.0h-1.0zM246.5 887.7h1.0v1.0h-1.0zM248.8 873.0h1.0v1.0h-1.0zM233.0 896.8h1.0v1.0h-1.0zM220.8 890.1h1.0v1.0h-1.0zM238.2 890.7h1.0v1.0h-1.0zM238.6 872.5h1.0v1.0h-1.0zM239.1 902.2h1.0v1.0h-1.0zM232.9 886.1h1.0v1.0h-1.0zM240.7 888.3h1.0v1.0h-1.0zM227.1 877.5h1.0v1.0h-1.0zM244.0 871.4h1.0v1.0h-1.0zM252.7 883.9h1.0v1.0h-1.0zM237.8 862.9h1.0v1.0h-1.0zM237.0 896.4h1.0v1.0h-1.0zM242.4 873.1h1.0v1.0h-1.0zM241.6 891.4h1.0v1.0h-1.0zM241.8 872.6h1.0v1.0h-1.0zM238.4 881.0h1.0v1.0h-1.0zM234.0 884.3h1.0v1.0h-1.0zM251.0 887.1h1.0v1.0h-1.0zM225.6 876.8h1.0v1.0h-1.0zM246.9 884.5h1.0v1.0h-1.0zM228.7 888.8h1.0v1.0h-1.0zM241.0 889.4h1.0v1.0h-1.0zM227.9 876.1h1.0v1.0h-1.0zM222.4 888.0h1.0v1.0h-1.0zM227.1 877.6h1.0v1.0h-1.0zM227.7 881.5h1.0v1.0h-1.0zM248.8 889.7h1.0v1.0h-1.0zM231.0 898.2h1.0v1.0h-1.0zM230.1 874.2h1.0v1.0h-1.0zM227.5 884.0h1.0v1.0h-1.0zM236.2 881.6h1.0v1.0h-1.0zM236.3 871.5h1.0v1.0h-1.0zM241.6 875.7h1.0v1.0h-1.0zM230.1 872.5h1.0v1.0h-1.0zM225.4 893.1h1.0v1.0h-1.0zM235.9 871.6h1.0v1.0h-1.0zM244.4 895.4h1.0v1.0h-1.0zM243.3 857.0h1.0v1.0h-1.0zM227.4 892.5h1.0v1.0h-1.0zM231.9 891.1h1.0v1.0h-1.0zM239.5 873.5h1.0v1.0h-1.0zM231.1 864.8h1.0v1.0h-1.0zM223.6 889.4h1.0v1.0h-1.0zM238.2 867.4h1.0v1.0h-1.0zM233.2 896.0h1.0v1.0h-1.0zM239.1 882.4h1.0v1.0h-1.0zM244.2 878.9h1.0v1.0h-1.0zM232.0 885.2h1.0v1.0h-1.0zM226.1 894.9h1.0v1.0h-1.0zM229.5 884.7h1.0v1.0h-1.0zM243.5 885.6h1.0v1.0h-1.0zM237.4 886.0h1.0v1.0h-1.0zM243.5 873.3h1.0v1.0h-1.0zM233.3 896.0h1.0v1.0h-1.0zM243.2 897.7h1.0v1.0h-1.0zM232.1 896.6h1.0v1.0h-1.0zM229.7 901.9h1.0v1.0h-1.0zM233.0 911.3h1.0v1.0h-1.0zM222.5 903.1h1.0v1.0h-1.0zM224.0 891.3h1.0v1.0h-1.0zM223.6 894.0h1.0v1.0h-1.0zM225.4 891.5h1.0v1.0h-1.0zM233.9 912.9h1.0v1.0h-1.0zM224.0 902.3h1.0v1.0h-1.0zM225.1 908.5h1.0v1.0h-1.0zM219.8 908.0h1.0v1.0h-1.0zM224.7 897.7h1.0v1.0h-1.0zM218.9 910.4h1.0v1.0h-1.0zM234.2 899.6h1.0v1.0h-1.0zM227.9 903.4h1.0v1.0h-1.0zM234.4 882.4h1.0v1.0h-1.0zM237.0 899.6h1.0v1.0h-1.0zM231.7 896.7h1.0v1.0h-1.0zM230.9 893.5h1.0v1.0h-1.0zM229.7 902.2h1.0v1.0h-1.0zM226.3 888.9h1.0v1.0h-1.0zM215.9 897.9h1.0v1.0h-1.0zM230.0 877.3h1.0v1.0h-1.0zM224.7 898.1h1.0v1.0h-1.0zM222.9 893.9h1.0v1.0h-1.0zM225.4 915.6h1.0v1.0h-1.0zM228.7 901.7h1.0v1.0h-1.0zM233.0 905.4h1.0v1.0h-1.0zM222.9 873.8h1.0v1.0h-1.0zM221.3 896.1h1.0v1.0h-1.0zM235.3 889.5h1.0v1.0h-1.0zM232.2 911.8h1.0v1.0h-1.0zM233.6 908.6h1.0v1.0h-1.0zM227.2 901.0h1.0v1.0h-1.0zM220.6 901.4h1.0v1.0h-1.0zM236.8 900.9h1.0v1.0h-1.0zM236.3 899.4h1.0v1.0h-1.0zM225.3 905.7h1.0v1.0h-1.0zM231.3 905.2h1.0v1.0h-1.0zM235.4 898.5h1.0v1.0h-1.0zM243.7 893.4h1.0v1.0h-1.0zM236.1 914.4h1.0v1.0h-1.0zM232.2 896.1h1.0v1.0h-1.0zM227.6 893.4h1.0v1.0h-1.0zM226.2 920.8h1.0v1.0h-1.0zM228.6 900.9h1.0v1.0h-1.0zM225.0 898.7h1.0v1.0h-1.0zM232.8 887.9h1.0v1.0h-1.0zM229.8 890.7h1.0v1.0h-1.0zM227.6 912.4h1.0v1.0h-1.0zM223.0 897.2h1.0v1.0h-1.0zM229.7 910.5h1.0v1.0h-1.0zM227.0 890.5h1.0v1.0h-1.0zM231.4 907.6h1.0v1.0h-1.0zM223.4 901.7h1.0v1.0h-1.0zM233.1 896.7h1.0v1.0h-1.0zM228.4 884.6h1.0v1.0h-1.0zM240.5 912.6h1.0v1.0h-1.0zM224.5 901.8h1.0v1.0h-1.0zM240.8 900.4h1.0v1.0h-1.0zM246.5 908.6h1.0v1.0h-1.0zM229.0 891.7h1.0v1.0h-1.0zM241.4 913.5h1.0v1.0h-1.0zM236.0 908.1h1.0v1.0h-1.0zM222.0 905.9h1.0v1.0h-1.0zM226.0 906.3h1.0v1.0h-1.0zM235.4 895.0h1.0v1.0h-1.0zM231.2 899.4h1.0v1.0h-1.0zM234.6 904.9h1.0v1.0h-1.0zM232.0 896.4h1.0v1.0h-1.0zM238.2 913.2h1.0v1.0h-1.0zM228.0 908.4h1.0v1.0h-1.0zM223.2 913.5h1.0v1.0h-1.0zM225.5 887.5h1.0v1.0h-1.0zM229.3 914.9h1.0v1.0h-1.0zM224.1 896.6h1.0v1.0h-1.0zM229.3 894.1h1.0v1.0h-1.0zM228.2 898.4h1.0v1.0h-1.0zM227.6 913.7h1.0v1.0h-1.0zM229.2 905.1h1.0v1.0h-1.0zM227.1 904.6h1.0v1.0h-1.0zM235.3 910.3h1.0v1.0h-1.0zM230.0 910.7h1.0v1.0h-1.0zM234.0 911.3h1.0v1.0h-1.0zM220.9 909.5h1.0v1.0h-1.0zM229.6 903.8h1.0v1.0h-1.0zM226.6 905.6h1.0v1.0h-1.0zM217.8 888.8h1.0v1.0h-1.0zM241.6 899.6h1.0v1.0h-1.0zM221.6 881.2h1.0v1.0h-1.0zM234.3 900.1h1.0v1.0h-1.0zM233.9 901.8h1.0v1.0h-1.0zM236.3 894.1h1.0v1.0h-1.0zM226.8 896.2h1.0v1.0h-1.0zM214.2 910.3h1.0v1.0h-1.0zM233.2 897.7h1.0v1.0h-1.0zM228.8 901.0h1.0v1.0h-1.0zM233.4 917.9h1.0v1.0h-1.0zM228.5 903.7h1.0v1.0h-1.0zM237.2 909.0h1.0v1.0h-1.0zM232.6 904.8h1.0v1.0h-1.0zM227.4 905.8h1.0v1.0h-1.0zM243.8 910.9h1.0v1.0h-1.0zM225.9 898.7h1.0v1.0h-1.0zM216.4 907.4h1.0v1.0h-1.0zM230.2 896.3h1.0v1.0h-1.0zM232.4 896.9h1.0v1.0h-1.0zM232.9 906.1h1.0v1.0h-1.0zM226.3 895.1h1.0v1.0h-1.0zM229.4 877.1h1.0v1.0h-1.0zM224.5 898.4h1.0v1.0h-1.0zM227.0 912.0h1.0v1.0h-1.0zM233.5 891.4h1.0v1.0h-1.0zM226.4 905.6h1.0v1.0h-1.0zM233.8 897.1h1.0v1.0h-1.0zM228.1 886.8h1.0v1.0h-1.0zM230.1 897.4h1.0v1.0h-1.0zM227.6 879.8h1.0v1.0h-1.0zM236.4 910.9h1.0v1.0h-1.0zM230.2 896.7h1.0v1.0h-1.0zM224.8 903.5h1.0v1.0h-1.0zM238.1 893.9h1.0v1.0h-1.0zM216.1 907.5h1.0v1.0h-1.0zM232.2 883.8h1.0v1.0h-1.0zM255.6 916.1h1.0v1.0h-1.0zM250.1 885.5h1.0v1.0h-1.0zM232.4 938.4h1.0v1.0h-1.0zM227.2 903.0h1.0v1.0h-1.0zM236.8 906.3h1.0v1.0h-1.0zM218.6 880.4h1.0v1.0h-1.0zM241.7 909.2h1.0v1.0h-1.0zM213.6 876.7h1.0v1.0h-1.0zM226.7 917.4h1.0v1.0h-1.0zM250.4 895.4h1.0v1.0h-1.0zM237.8 908.6h1.0v1.0h-1.0zM228.1 912.5h1.0v1.0h-1.0zM240.0 918.7h1.0v1.0h-1.0zM233.9 924.9h1.0v1.0h-1.0zM241.5 921.6h1.0v1.0h-1.0zM253.9 915.9h1.0v1.0h-1.0zM236.3 895.9h1.0v1.0h-1.0zM212.6 888.1h1.0v1.0h-1.0zM244.1 916.0h1.0v1.0h-1.0zM226.0 909.8h1.0v1.0h-1.0zM254.8 897.3h1.0v1.0h-1.0zM252.4 904.1h1.0v1.0h-1.0zM237.6 918.8h1.0v1.0h-1.0zM244.7 918.3h1.0v1.0h-1.0zM216.2 896.1h1.0v1.0h-1.0zM212.1 885.5h1.0v1.0h-1.0zM232.8 876.6h1.0v1.0h-1.0zM242.9 898.1h1.0v1.0h-1.0zM258.0 900.3h1.0v1.0h-1.0zM228.0 885.4h1.0v1.0h-1.0zM224.2 920.7h1.0v1.0h-1.0zM225.3 933.0h1.0v1.0h-1.0z" fill="#0000f0" fill-opacity="0.62"/>
<path d="M222.3 919.6h1.0v1.0h-1.0zM227.5 912.5h1.0v1.0h-1.0zM224.6 920.2h1.0v1.0h-1.0zM227.0 920.8h1.0v1.0h-1.0zM225.6 906.8h1.0v1.0h-1.0zM224.7 914.1h1.0v1.0h-1.0zM228.3 923.5h1.0v1.0h-1.0zM227.4 924.9h1.0v1.0h-1.0zM223.6 918.4h1.0v1.0h-1.0zM226.7 915.9h1.0v1.0h-1.0zM222.9 916.1h1.0v1.0h-1.0zM224.9 910.7h1.0v1.0h-1.0zM227.1 913.8h1.0v1.0h-1.0zM226.6 920.1h1.0v1.0h-1.0zM219.7 914.1h1.0v1.0h-1.0zM227.0 923.0h1.0v1.0h-1.0zM220.9 915.9h1.0v1.0h-1.0zM225.8 921.5h1.0v1.0h-1.0zM227.5 918.9h1.0v1.0h-1.0zM219.9 917.6h1.0v1.0h-1.0zM221.3 928.5h1.0v1.0h-1.0zM227.8 914.4h1.0v1.0h-1.0zM226.1 919.3h1.0v1.0h-1.0zM217.9 910.4h1.0v1.0h-1.0zM228.3 922.8h1.0v1.0h-1.0zM222.9 918.9h1.0v1.0h-1.0zM221.0 910.7h1.0v1.0h-1.0zM225.9 919.3h1.0v1.0h-1.0zM222.8 917.6h1.0v1.0h-1.0zM225.2 917.4h1.0v1.0h-1.0zM225.9 920.2h1.0v1.0h-1.0zM233.4 931.2h1.0v1.0h-1.0zM228.2 923.4h1.0v1.0h-1.0zM225.9 917.2h1.0v1.0h-1.0zM225.4 919.5h1.0v1.0h-1.0zM226.2 929.6h1.0v1.0h-1.0zM226.7 915.8h1.0v1.0h-1.0zM222.9 922.6h1.0v1.0h-1.0zM226.8 915.6h1.0v1.0h-1.0zM222.7 907.7h1.0v1.0h-1.0z" fill="#e06000" fill-opacity="0.7"/>
<path d="M223.1 912.9h1.0v1.0h-1.0zM224.7 919.6h1.0v1.0h-1.0zM228.5 919.1h1.0v1.0h-1.0zM227.9 916.2h1.0v1.0h-1.0zM214.8 906.8h1.0v1.0h-1.0zM229.2 915.7h1.0v1.0h-1.0zM225.2 912.4h1.0v1.0h-1.0zM225.3 914.9h1.0v1.0h-1.0zM230.0 908.0h1.0v1.0h-1.0zM222.5 918.6h1.0v1.0h-1.0zM221.4 917.1h1.0v1.0h-1.0zM218.2 913.8h1.0v1.0h-1.0zM220.9 920.1h1.0v1.0h-1.0zM227.8 916.7h1.0v1.0h-1.0zM222.2 916.0h1.0v1.0h-1.0zM221.4 901.4h1.0v1.0h-1.0zM226.3 919.9h1.0v1.0h-1.0zM221.5 913.4h1.0v1.0h-1.0zM222.4 919.4h1.0v1.0h-1.0zM222.2 920.6h1.0v1.0h-1.0zM226.3 917.9h1.0v1.0h-1.0zM222.6 909.4h1.0v1.0h-1.0zM223.2 918.5h1.0v1.0h-1.0zM224.3 922.0h1.0v1.0h-1.0zM218.6 918.4h1.0v1.0h-1.0zM224.1 914.4h1.0v1.0h-1.0zM218.7 908.6h1.0v1.0h-1.0zM220.8 913.5h1.0v1.0h-1.0zM223.3 911.1h1.0v1.0h-1.0zM225.3 906.4h1.0v1.0h-1.0zM224.0 919.1h1.0v1.0h-1.0zM228.5 922.6h1.0v1.0h-1.0zM225.3 921.6h1.0v1.0h-1.0zM226.8 914.5h1.0v1.0h-1.0zM223.2 916.4h1.0v1.0h-1.0zM222.6 909.7h1.0v1.0h-1.0zM230.6 913.7h1.0v1.0h-1.0zM219.2 916.4h1.0v1.0h-1.0zM228.9 910.6h1.0v1.0h-1.0zM222.3 914.1h1.0v1.0h-1.0z" fill="#d0d040" fill-opacity="0.7"/>
<path d="M229.0 915.1h1.0v1.0h-1.0zM227.0 919.5h1.0v1.0h-1.0zM226.1 916.5h1.0v1.0h-1.0zM226.0 918.7h1.0v1.0h-1.0zM224.6 918.1h1.0v1.0h-1.0zM223.9 918.9h1.0v1.0h-1.0zM228.4 916.6h1.0v1.0h-1.0zM224.6 920.8h1.0v1.0h-1.0zM223.9 919.1h1.0v1.0h-1.0zM226.1 915.7h1.0v1.0h-1.0zM224.9 919.3h1.0v1.0h-1.0zM227.2 917.0h1.0v1.0h-1.0zM223.9 919.1h1.0v1.0h-1.0zM223.5 920.5h1.0v1.0h-1.0zM224.3 916.6h1.0v1.0h-1.0zM227.7 917.9h1.0v1.0h-1.0zM226.6 918.2h1.0v1.0h-1.0zM225.4 918.1h1.0v1.0h-1.0zM225.1 924.0h1.0v1.0h-1.0zM225.6 919.1h1.0v1.0h-1.0z" fill="#c03000" fill-opacity="0.45"/>
<ellipse cx="246.8" cy="875.1" rx="33.4" ry="28" transform="rotate(-35 246.8 875.1)" fill="none" stroke="#1a1a1a" stroke-width="1"/>
<path d="M41.4 954 V850.5" fill="none" stroke="#000" stroke-width="2.7"/>
<path d="M35.6 851.8 L41.4 841.2 L47.4 851.8" fill="none" stroke="#000" stroke-width="2.5"/>
<path d="M40 952.7 H243.8" fill="none" stroke="#000" stroke-width="2.6"/>
<path d="M242.4 947.2 L253.8 952.6 L242.4 958" fill="none" stroke="#000" stroke-width="2.5"/>
<text transform="translate(33.6,921) rotate(-90)" x="0" y="0" font-size="17.2" text-anchor="middle">F4/80</text>
<text x="50.2" y="972" font-size="18" text-anchor="start" >CD206</text>
</svg></body></html>
